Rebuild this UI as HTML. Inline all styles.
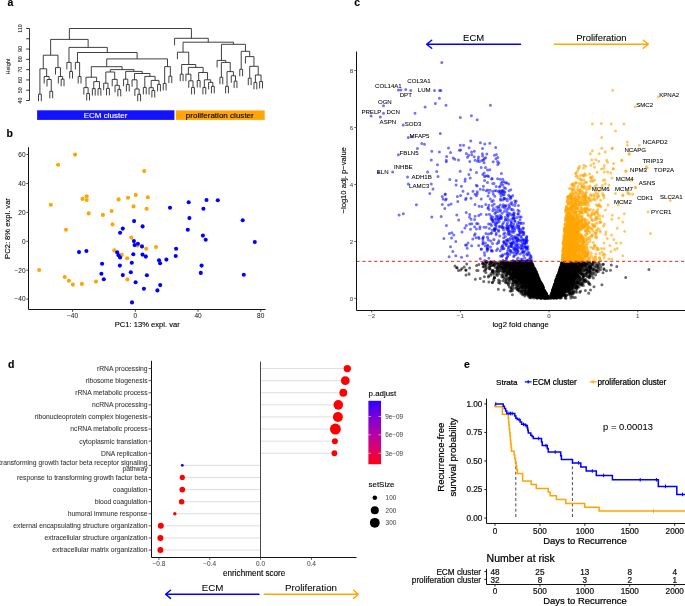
<!DOCTYPE html>
<html><head><meta charset="utf-8"><style>
html,body{margin:0;padding:0;background:#fff;width:685px;height:606px;overflow:hidden}
svg{display:block;will-change:transform}
text{font-family:"Liberation Sans", sans-serif}
</style></head><body>
<svg width="685" height="606" viewBox="0 0 685 606" font-family='"Liberation Sans", sans-serif'>
<rect width="685" height="606" fill="#fff"/>
<text x="7.60" y="6.00" font-size="10.5" font-weight="bold" fill="#000" stroke="#000" stroke-width="0.12">a</text>
<text x="6.60" y="136.60" font-size="10.5" font-weight="bold" fill="#000" stroke="#000" stroke-width="0.12">b</text>
<text x="354.20" y="5.90" font-size="10.5" font-weight="bold" fill="#000" stroke="#000" stroke-width="0.12">c</text>
<text x="7.90" y="367.80" font-size="10.5" font-weight="bold" fill="#000" stroke="#000" stroke-width="0.12">d</text>
<text x="463.90" y="367.80" font-size="10.5" font-weight="bold" fill="#000" stroke="#000" stroke-width="0.12">e</text>
<path d="M38.50 101.20V94.20H41.34V101.20M49.84 98.30V91.30H52.67V98.30M47.00 86.50V79.50H51.26V91.30M44.17 83.50V76.50H49.13V79.50M39.92 94.20V68.80H46.65V76.50M61.18 86.20V79.20H64.02V86.20M58.34 83.50V76.50H62.60V79.20M55.51 74.60V67.60H60.47V76.50M43.28 68.80V55.20H57.99V67.60M69.69 78.50V71.50H72.52V78.50M66.85 69.40V62.40H71.10V71.50M78.19 83.50V76.50H81.03V83.50M75.35 69.40V62.40H79.61V76.50M86.69 100.50V93.50H89.53V100.50M83.86 94.60V87.60H88.11V93.50M92.37 95.60V88.60H95.20V95.60M98.03 95.60V88.60H100.87V95.60M93.78 88.60V81.60H99.45V88.60M85.99 87.60V77.20H96.62V81.60M106.54 95.40V88.40H109.38V95.40M103.70 90.20V83.20H107.96V88.40M117.88 96.40V89.40H120.72V96.40M115.05 92.30V85.30H119.30V89.40M112.21 86.40V79.40H117.17V85.30M105.83 83.20V72.00H114.69V79.40M126.39 91.50V84.50H129.22V91.50M123.55 86.20V79.20H127.80V84.50M137.72 101.30V94.30H140.56V101.30M134.89 96.00V89.00H139.14V94.30M132.06 86.80V79.80H137.02V89.00M143.39 94.40V87.40H146.23V94.40M151.90 97.50V90.50H154.74V97.50M149.06 94.70V87.70H153.32V90.50M157.57 91.40V84.40H160.41V91.40M151.19 87.70V80.40H158.99V84.40M144.81 87.40V76.40H155.09V80.40M134.54 79.80V73.50H149.95V76.40M125.68 79.20V71.40H142.24V73.50M110.26 72.00V69.60H133.96V71.40M91.30 77.20V66.70H122.11V69.60M163.24 90.40V83.40H166.07V90.40M168.91 83.10V76.10H171.75V83.10M164.66 83.40V66.60H170.33V76.10M106.71 66.70V58.90H167.49V66.60M77.48 62.40V52.50H137.10V58.90M68.98 62.40V47.40H107.29V52.50M50.64 55.20V39.40H88.13V47.40M180.25 81.20V74.20H183.09V81.20M191.59 94.40V87.40H194.43V94.40M188.75 87.80V80.80H193.01V87.40M185.92 81.20V74.20H190.88V80.80M197.26 87.50V80.50H200.09V87.50M202.93 94.40V87.40H205.76V94.40M211.44 93.40V86.40H214.27V93.40M208.60 89.40V82.40H212.85V86.40M204.35 87.40V79.80H210.73V82.40M198.68 80.50V72.50H207.54V79.80M188.40 74.20V67.40H203.11V72.50M181.67 74.20V64.50H195.75V67.40M177.41 59.20V52.20H188.71V64.50M219.94 84.30V77.30H222.78V84.30M225.61 93.40V86.40H228.44V93.40M234.12 88.10V81.10H236.95V88.10M231.28 82.80V75.80H235.53V81.10M227.03 86.40V71.60H233.41V75.80M221.36 77.30V62.40H230.22V71.60M217.10 67.40V60.40H225.79V62.40M239.78 76.30V69.30H242.62V76.30M248.29 85.20V78.20H251.12V85.20M253.96 89.40V82.40H256.79V89.40M259.63 88.50V81.50H262.47V88.50M255.38 82.40V75.00H261.05V81.50M249.71 78.20V66.30H258.21V75.00M245.45 63.60V56.60H253.96V66.30M241.20 69.30V51.30H249.71V56.60M221.45 60.40V44.30H245.45V51.30M183.06 52.20V42.20H233.45V44.30M174.58 45.30V38.30H208.26V42.20M69.39 39.40V28.50H191.42V38.30" fill="none" stroke="#2b2b2b" stroke-width="0.9"/>
<path d="M29.5 28.50V100.50M26.2 100.50H29.5M26.2 90.22H29.5M26.2 79.93H29.5M26.2 69.64H29.5M26.2 59.36H29.5M26.2 49.07H29.5M26.2 38.79H29.5M26.2 28.50H29.5" stroke="#222" stroke-width="0.9" fill="none"/>
<text x="22.30" y="100.50" font-size="5.4" text-anchor="middle" fill="#222" stroke="#222" stroke-width="0.06" transform="rotate(-90 22.30 100.50)">40</text>
<text x="22.30" y="90.22" font-size="5.4" text-anchor="middle" fill="#222" stroke="#222" stroke-width="0.06" transform="rotate(-90 22.30 90.22)">50</text>
<text x="22.30" y="79.93" font-size="5.4" text-anchor="middle" fill="#222" stroke="#222" stroke-width="0.06" transform="rotate(-90 22.30 79.93)">60</text>
<text x="22.30" y="69.64" font-size="5.4" text-anchor="middle" fill="#222" stroke="#222" stroke-width="0.06" transform="rotate(-90 22.30 69.64)">70</text>
<text x="22.30" y="59.36" font-size="5.4" text-anchor="middle" fill="#222" stroke="#222" stroke-width="0.06" transform="rotate(-90 22.30 59.36)">80</text>
<text x="22.30" y="49.07" font-size="5.4" text-anchor="middle" fill="#222" stroke="#222" stroke-width="0.06" transform="rotate(-90 22.30 49.07)">90</text>
<text x="22.30" y="28.50" font-size="5.4" text-anchor="middle" fill="#222" stroke="#222" stroke-width="0.06" transform="rotate(-90 22.30 28.50)">110</text>
<text x="10.00" y="66.60" font-size="5.4" text-anchor="middle" fill="#222" stroke="#222" stroke-width="0.06" transform="rotate(-90 10.00 66.60)">Height</text>
<rect x="37.1" y="110.3" width="137.3" height="9.6" fill="#1212ff"/>
<rect x="175.8" y="110.4" width="88.9" height="9.5" fill="#ffa505"/>
<text x="105.60" y="117.90" font-size="8.05" text-anchor="middle" fill="#fff" stroke="#fff" stroke-width="0.12">ECM cluster</text>
<text x="219.80" y="117.90" font-size="8.05" text-anchor="middle" fill="#000" stroke="#000" stroke-width="0.12">proliferation cluster</text>
<path d="M28.5 147.3V309.5H265.6" fill="none" stroke="#111" stroke-width="1.0"/>
<path d="M26.4 299.12H28.5M26.4 270.21H28.5M26.4 241.30H28.5M26.4 212.39H28.5M26.4 183.48H28.5M26.4 154.57H28.5M72.60 309.5V311.8M135.30 309.5V311.8M198.00 309.5V311.8M260.70 309.5V311.8" stroke="#333" stroke-width="0.9" fill="none"/>
<text x="25.50" y="301.42" font-size="6.5" text-anchor="end" fill="#262626" stroke="#262626" stroke-width="0.06">−40</text>
<text x="25.50" y="272.51" font-size="6.5" text-anchor="end" fill="#262626" stroke="#262626" stroke-width="0.06">−20</text>
<text x="25.50" y="243.60" font-size="6.5" text-anchor="end" fill="#262626" stroke="#262626" stroke-width="0.06">0</text>
<text x="25.50" y="214.69" font-size="6.5" text-anchor="end" fill="#262626" stroke="#262626" stroke-width="0.06">20</text>
<text x="25.50" y="185.78" font-size="6.5" text-anchor="end" fill="#262626" stroke="#262626" stroke-width="0.06">40</text>
<text x="25.50" y="156.87" font-size="6.5" text-anchor="end" fill="#262626" stroke="#262626" stroke-width="0.06">60</text>
<text x="72.60" y="318.20" font-size="6.5" text-anchor="middle" fill="#262626" stroke="#262626" stroke-width="0.06">−40</text>
<text x="135.30" y="318.20" font-size="6.5" text-anchor="middle" fill="#262626" stroke="#262626" stroke-width="0.06">0</text>
<text x="198.00" y="318.20" font-size="6.5" text-anchor="middle" fill="#262626" stroke="#262626" stroke-width="0.06">40</text>
<text x="260.70" y="318.20" font-size="6.5" text-anchor="middle" fill="#262626" stroke="#262626" stroke-width="0.06">80</text>
<text x="147.20" y="326.70" font-size="7.6" text-anchor="middle" fill="#000" stroke="#000" stroke-width="0.12">PC1: 13% expl. var</text>
<text x="10.30" y="228.50" font-size="7.6" text-anchor="middle" fill="#000" stroke="#000" stroke-width="0.12" transform="rotate(-90 10.30 228.50)">PC2: 8% expl. var</text>
<g fill="#ffa500"><circle cx="75.1" cy="154.6" r="2.05"/><circle cx="58.1" cy="164.8" r="2.05"/><circle cx="86.7" cy="196.2" r="2.05"/><circle cx="82.5" cy="198.9" r="2.05"/><circle cx="86.7" cy="200.0" r="2.05"/><circle cx="50.8" cy="204.8" r="2.05"/><circle cx="88.7" cy="213.4" r="2.05"/><circle cx="102.9" cy="214.9" r="2.05"/><circle cx="144.2" cy="171.1" r="2.05"/><circle cx="135.8" cy="194.9" r="2.05"/><circle cx="147.8" cy="197.3" r="2.05"/><circle cx="128.0" cy="197.7" r="2.05"/><circle cx="118.6" cy="199.4" r="2.05"/><circle cx="133.5" cy="206.4" r="2.05"/><circle cx="146.6" cy="208.8" r="2.05"/><circle cx="111.6" cy="211.0" r="2.05"/><circle cx="112.6" cy="224.4" r="2.05"/><circle cx="66.0" cy="229.8" r="2.05"/><circle cx="39.2" cy="270.0" r="2.05"/><circle cx="64.7" cy="277.0" r="2.05"/><circle cx="68.9" cy="280.7" r="2.05"/><circle cx="72.9" cy="284.6" r="2.05"/><circle cx="81.9" cy="283.9" r="2.05"/><circle cx="96.0" cy="281.6" r="2.05"/><circle cx="131.3" cy="237.6" r="2.05"/><circle cx="137.4" cy="245.6" r="2.05"/><circle cx="146.2" cy="248.7" r="2.05"/><circle cx="156.0" cy="247.0" r="2.05"/><circle cx="114.3" cy="250.4" r="2.05"/><circle cx="121.8" cy="254.9" r="2.05"/><circle cx="127.2" cy="258.3" r="2.05"/><circle cx="127.4" cy="279.4" r="2.05"/></g>
<g fill="#0000ff"><circle cx="170.0" cy="207.8" r="2.05"/><circle cx="134.1" cy="221.1" r="2.05"/><circle cx="142.6" cy="226.4" r="2.05"/><circle cx="188.7" cy="202.3" r="2.05"/><circle cx="206.5" cy="200.0" r="2.05"/><circle cx="217.8" cy="200.2" r="2.05"/><circle cx="203.4" cy="208.7" r="2.05"/><circle cx="189.4" cy="218.1" r="2.05"/><circle cx="242.7" cy="220.2" r="2.05"/><circle cx="187.8" cy="229.7" r="2.05"/><circle cx="202.9" cy="235.6" r="2.05"/><circle cx="79.0" cy="252.1" r="2.05"/><circle cx="86.4" cy="251.0" r="2.05"/><circle cx="102.1" cy="263.8" r="2.05"/><circle cx="101.4" cy="273.7" r="2.05"/><circle cx="103.8" cy="279.3" r="2.05"/><circle cx="122.8" cy="228.6" r="2.05"/><circle cx="120.1" cy="232.7" r="2.05"/><circle cx="133.9" cy="241.1" r="2.05"/><circle cx="137.9" cy="243.8" r="2.05"/><circle cx="134.6" cy="245.1" r="2.05"/><circle cx="142.0" cy="246.4" r="2.05"/><circle cx="176.1" cy="248.8" r="2.05"/><circle cx="117.2" cy="252.4" r="2.05"/><circle cx="118.5" cy="255.3" r="2.05"/><circle cx="120.1" cy="257.5" r="2.05"/><circle cx="133.3" cy="254.3" r="2.05"/><circle cx="142.5" cy="254.6" r="2.05"/><circle cx="145.8" cy="256.6" r="2.05"/><circle cx="175.7" cy="256.0" r="2.05"/><circle cx="159.0" cy="260.3" r="2.05"/><circle cx="160.1" cy="263.2" r="2.05"/><circle cx="166.4" cy="259.6" r="2.05"/><circle cx="131.8" cy="262.7" r="2.05"/><circle cx="119.9" cy="265.6" r="2.05"/><circle cx="122.8" cy="275.1" r="2.05"/><circle cx="130.8" cy="272.2" r="2.05"/><circle cx="146.9" cy="275.3" r="2.05"/><circle cx="135.6" cy="282.3" r="2.05"/><circle cx="160.2" cy="285.1" r="2.05"/><circle cx="143.9" cy="288.7" r="2.05"/><circle cx="157.4" cy="290.4" r="2.05"/><circle cx="205.7" cy="239.8" r="2.05"/><circle cx="254.8" cy="242.0" r="2.05"/><circle cx="201.6" cy="265.6" r="2.05"/><circle cx="200.8" cy="272.9" r="2.05"/><circle cx="243.8" cy="274.8" r="2.05"/><circle cx="132.0" cy="302.4" r="2.05"/></g>
<path d="M566.8 269.5h0M540.8 288.2h0M517.3 267.5h0M531.3 282.7h0M566.7 280.9h0M582.2 264.5h0M540.6 290.5h0M564.5 283.5h0M580.0 269.5h0M553.2 292.3h0M529.9 286.1h0M522.0 266.3h0M566.3 273.0h0M565.0 269.9h0M568.9 286.7h0M576.7 265.0h0M557.9 275.7h0M536.3 277.5h0M569.5 289.8h0M564.6 278.7h0M571.9 288.1h0M563.6 290.0h0M537.2 281.2h0M565.7 288.0h0M577.6 263.2h0M530.2 263.3h0M567.4 263.9h0M517.6 268.7h0M567.9 264.7h0M563.1 268.8h0M582.5 278.9h0M531.5 296.6h0M533.8 281.8h0M524.4 275.4h0M553.9 285.9h0M541.0 288.3h0M527.1 272.1h0M529.6 279.4h0M521.0 272.3h0M528.2 272.3h0M562.9 279.2h0M566.1 269.1h0M563.5 274.2h0M516.9 278.8h0M519.0 261.8h0M563.5 275.7h0M496.6 274.6h0M521.1 262.7h0M572.0 283.9h0M557.4 283.3h0M564.4 267.3h0M512.8 277.1h0M542.1 284.7h0M553.0 296.7h0M566.8 279.0h0M535.2 291.9h0M526.2 264.8h0M557.4 275.7h0M536.9 285.0h0M570.5 270.8h0M558.7 287.4h0M566.5 270.0h0M530.1 276.9h0M529.7 268.3h0M528.2 281.3h0M536.5 285.9h0M570.9 265.5h0M553.4 291.6h0M560.2 284.3h0M529.1 289.7h0M562.1 268.4h0M567.9 269.1h0M566.8 278.2h0M534.4 269.5h0M559.9 268.8h0M497.1 270.5h0M513.4 262.3h0M562.4 269.3h0M574.5 272.8h0M537.4 283.2h0M556.7 296.0h0M573.3 265.3h0M493.1 270.3h0M557.6 280.2h0M528.6 279.3h0M493.1 272.8h0M532.2 267.8h0M562.8 287.6h0M523.4 263.1h0M539.7 295.7h0M517.6 283.1h0M498.5 271.7h0M568.1 278.0h0M532.0 278.4h0M536.7 279.2h0M558.1 282.7h0M588.2 264.7h0M516.5 281.5h0M510.7 268.0h0M581.2 265.7h0M525.0 263.3h0M540.4 288.6h0M538.0 292.2h0M530.3 264.6h0M559.3 280.1h0M528.6 290.9h0M517.6 288.9h0M537.1 288.3h0M532.4 275.3h0M564.3 274.7h0M517.4 262.8h0M516.4 274.2h0M517.3 279.2h0M571.1 279.0h0M526.6 283.0h0M563.0 293.4h0M536.4 276.1h0M535.2 272.8h0M534.5 284.9h0M539.5 286.7h0M568.9 283.0h0M558.3 279.9h0M534.4 280.0h0M533.3 267.9h0M544.9 294.0h0M573.9 262.0h0M483.7 267.1h0M533.6 291.3h0M504.7 272.2h0M561.1 293.1h0M526.2 270.4h0M569.1 278.7h0M544.1 296.3h0M528.1 270.2h0M562.3 281.8h0M535.1 294.5h0M555.5 291.7h0M530.2 287.4h0M554.9 289.7h0M526.5 266.8h0M537.1 283.5h0M518.1 265.6h0M517.4 281.8h0M566.9 267.0h0M573.4 285.2h0M558.8 287.8h0M540.4 284.1h0M570.7 278.3h0M566.1 279.4h0M555.4 293.5h0M517.3 265.3h0M530.8 269.1h0M538.1 293.0h0M536.4 277.2h0M542.4 288.7h0M557.4 296.1h0M534.1 284.7h0M560.4 292.2h0M525.8 281.5h0M572.7 280.8h0M546.8 296.4h0M536.3 288.2h0M529.1 292.0h0M559.8 295.4h0M535.1 282.4h0M560.7 284.0h0M539.2 285.6h0M577.6 268.6h0M520.8 282.8h0M576.1 266.8h0M541.7 288.8h0M522.1 276.7h0M574.3 270.7h0M565.3 287.6h0M531.2 272.5h0M520.1 278.4h0M512.4 263.0h0M536.1 284.8h0M520.6 262.7h0M521.4 276.8h0M530.8 291.2h0M530.6 270.0h0M527.3 275.6h0M569.0 272.1h0M567.1 281.4h0M507.7 265.2h0M542.2 286.6h0M533.0 271.8h0M563.3 285.0h0M561.9 272.3h0M558.5 292.4h0M536.7 276.2h0M538.8 281.8h0M535.1 277.0h0M533.1 278.4h0M546.0 293.7h0M570.3 268.7h0M554.6 283.9h0M515.7 276.9h0M526.4 280.4h0M562.8 263.4h0M559.9 280.5h0M492.1 262.0h0M523.4 282.2h0M531.9 269.2h0M539.8 292.9h0M559.7 281.7h0M518.7 262.3h0M565.0 269.4h0M561.6 290.3h0M563.9 261.9h0M520.3 284.0h0M567.9 275.5h0M572.3 267.5h0M576.1 262.5h0M560.7 283.9h0M568.2 273.6h0M564.9 268.0h0M565.4 271.2h0M576.0 273.5h0M560.8 292.1h0M522.7 264.1h0M533.6 270.1h0M562.3 282.8h0M498.3 289.3h0M529.2 286.3h0M508.2 265.7h0M560.8 296.4h0M561.3 269.9h0M529.1 281.1h0M556.2 280.9h0M573.7 291.6h0M560.0 270.1h0M566.8 284.6h0M521.5 270.2h0M517.0 281.4h0M566.7 267.6h0M518.9 265.4h0M536.8 294.4h0M507.1 272.9h0M553.9 296.8h0M573.8 284.3h0M575.7 268.9h0M559.3 283.8h0M515.9 278.1h0M553.8 293.1h0M566.7 265.7h0M561.5 287.7h0M563.7 289.6h0M566.2 284.0h0M523.7 274.5h0M528.7 269.1h0M586.7 269.7h0M535.7 281.9h0M522.5 265.5h0M561.2 291.3h0M552.3 293.0h0M537.1 287.4h0M516.1 274.3h0M571.5 263.6h0M563.2 276.8h0M575.4 282.6h0M581.5 261.9h0M563.4 274.4h0M536.7 282.9h0M558.5 281.9h0M523.8 269.3h0M517.9 278.3h0M563.6 289.7h0M563.0 294.6h0M528.7 271.1h0M562.1 264.5h0M504.1 261.4h0M560.5 284.3h0M569.6 275.0h0M532.3 277.6h0M571.2 277.5h0M524.7 273.6h0M526.9 281.6h0M532.0 275.7h0M495.1 263.1h0M577.8 265.7h0M559.9 280.5h0M521.5 262.1h0M526.1 270.0h0M572.1 263.9h0M562.0 291.4h0M555.3 289.3h0M528.1 280.5h0M519.3 269.3h0M558.8 288.0h0M506.9 267.3h0M575.9 261.7h0M526.7 269.9h0M648.9 269.6h0M566.8 263.8h0M544.3 295.3h0M539.6 292.3h0M502.6 263.7h0M537.1 284.0h0M539.8 291.9h0M562.6 271.0h0M564.6 266.5h0M508.3 264.4h0M542.2 291.9h0M539.8 282.5h0M552.3 293.7h0M516.3 274.6h0M534.4 281.1h0M505.7 268.0h0M552.6 293.1h0M576.6 271.2h0M532.8 294.0h0M488.9 282.0h0M527.3 280.8h0M533.9 283.2h0M534.8 277.0h0M540.6 285.0h0M529.0 267.3h0M525.5 268.1h0M574.8 276.5h0M544.4 296.9h0M562.4 263.5h0M560.2 290.1h0M556.2 296.0h0M532.3 273.2h0M528.3 265.5h0M538.5 291.5h0M576.8 265.1h0M520.7 270.1h0M519.4 262.2h0M538.8 278.7h0M515.9 273.1h0M541.8 292.4h0M543.3 287.1h0M533.0 280.8h0M576.6 266.1h0M566.1 295.8h0M573.2 267.1h0M532.4 273.3h0M552.5 293.3h0M527.6 269.9h0M540.9 287.7h0M525.9 282.6h0M537.6 276.1h0M590.5 273.2h0M563.3 262.8h0M529.8 281.1h0M565.7 274.9h0M521.7 265.2h0M537.8 282.2h0M531.0 268.6h0M538.9 287.2h0M556.1 279.5h0M570.0 268.7h0M559.7 297.0h0M528.3 278.7h0M557.7 296.7h0M538.2 285.5h0M553.1 295.7h0M563.6 281.5h0M537.0 295.2h0M553.8 290.2h0M521.7 265.0h0M525.0 267.5h0M560.8 272.2h0M531.1 274.2h0M552.7 289.8h0M542.8 294.8h0M534.8 295.0h0M559.2 277.0h0M533.9 287.4h0M536.0 274.5h0M542.2 291.3h0M562.2 286.1h0M559.9 281.8h0M529.9 286.6h0M571.1 283.3h0M545.1 293.2h0M520.4 278.7h0M515.2 262.6h0M537.4 297.8h0M537.3 278.5h0M494.2 265.1h0M520.7 271.2h0M579.1 270.7h0M521.4 265.5h0M590.5 272.6h0M559.7 271.8h0M566.6 288.3h0M566.3 274.1h0M577.5 271.2h0M526.5 278.6h0M562.7 279.4h0M544.1 294.4h0M540.2 287.8h0M534.3 282.8h0M554.9 287.8h0M544.3 291.1h0M529.0 267.3h0M531.7 264.6h0M537.4 279.1h0M532.8 284.5h0M527.0 283.2h0M567.4 291.6h0M575.7 267.2h0M517.0 265.1h0M568.6 277.1h0M531.5 265.8h0M565.0 291.7h0M496.0 263.9h0M532.5 293.6h0M560.7 291.5h0M525.6 269.2h0M541.6 287.2h0M531.6 269.1h0M569.3 274.4h0M534.6 287.2h0M562.3 279.8h0M558.4 289.5h0M537.1 284.3h0M525.5 269.4h0M552.1 295.5h0M562.4 278.7h0M566.2 278.7h0M522.3 275.6h0M527.8 274.4h0M542.9 291.9h0M483.0 263.5h0M564.4 276.9h0M520.8 266.6h0M519.5 275.8h0M573.3 268.8h0M520.9 266.8h0M556.0 292.4h0M529.6 277.5h0M528.9 285.0h0M556.9 294.8h0M572.2 264.5h0M517.3 278.0h0M539.0 296.3h0M537.5 283.4h0M563.4 264.6h0M570.1 272.7h0M538.2 293.8h0M566.1 278.3h0M519.0 267.0h0M543.8 293.6h0M489.6 267.0h0M576.1 261.6h0M568.9 274.3h0M544.4 294.9h0M517.0 263.0h0M577.3 275.6h0M541.9 297.2h0M525.8 274.8h0M533.8 270.7h0M560.7 272.7h0M564.6 262.5h0M540.0 292.1h0M567.3 267.8h0M544.4 293.3h0M571.3 275.5h0M563.1 264.3h0M530.2 282.8h0M499.8 283.3h0M558.8 288.3h0" stroke="#000" stroke-opacity="0.58" stroke-width="3.0" stroke-linecap="round" fill="none"/>
<path d="M529.5 283.4h0M522.2 267.7h0M531.3 278.7h0M518.8 277.0h0M515.7 273.1h0M515.4 262.5h0M572.2 291.5h0M517.7 263.8h0M517.3 267.7h0M562.5 290.6h0M535.4 286.7h0M569.6 271.8h0M523.2 276.6h0M610.5 270.2h0M531.5 275.3h0M592.1 264.5h0M536.3 281.2h0M508.4 263.8h0M525.4 271.0h0M558.4 297.3h0M520.1 270.1h0M565.3 289.5h0M518.7 262.1h0M562.8 277.9h0M569.6 278.0h0M502.3 267.9h0M570.7 274.9h0M575.5 276.4h0M534.1 276.8h0M564.5 267.9h0M540.4 284.4h0M537.6 287.5h0M536.7 291.2h0M540.6 295.9h0M563.3 269.7h0M534.9 279.7h0M519.9 271.7h0M530.4 265.5h0M529.5 273.0h0M568.1 277.4h0M522.2 270.7h0M566.1 274.7h0M560.6 270.8h0M537.3 291.2h0M553.7 295.3h0M529.1 274.4h0M565.0 282.4h0M577.1 285.9h0M540.9 285.2h0M570.1 265.1h0M562.2 267.4h0M557.0 298.3h0M557.1 284.0h0M565.1 270.3h0M564.9 292.2h0M557.5 280.0h0M536.6 277.8h0M564.3 272.8h0M562.3 279.6h0M566.0 298.3h0M558.2 281.6h0M570.9 266.0h0M488.7 275.7h0M554.6 292.8h0M523.7 278.4h0M538.3 278.3h0M531.9 277.0h0M537.3 288.7h0M597.7 265.4h0M525.4 277.1h0M588.7 293.2h0M536.0 280.8h0M538.6 278.9h0M558.9 277.8h0M576.2 267.4h0M535.3 272.5h0M540.8 284.5h0M544.9 297.5h0M532.8 269.8h0M533.7 282.3h0M475.3 279.3h0M528.2 270.5h0M563.7 273.7h0M540.4 287.1h0M556.8 279.2h0M561.1 277.2h0M482.7 263.5h0M567.5 286.6h0M537.6 292.4h0M538.7 285.1h0M528.5 263.7h0M561.7 275.0h0M558.3 293.3h0M523.3 261.6h0M587.2 271.4h0M564.0 286.7h0M604.0 269.4h0M558.3 293.4h0M525.7 275.0h0M562.1 262.6h0M556.2 289.2h0M537.1 294.7h0M520.0 276.1h0M560.7 273.1h0M518.8 264.0h0M519.1 273.0h0M538.7 280.8h0M559.2 290.7h0M486.4 266.3h0M602.7 264.4h0M521.0 277.6h0M532.6 268.4h0M541.8 289.7h0M508.9 270.2h0M525.4 265.8h0M532.1 263.2h0M559.6 280.2h0M573.4 273.8h0M527.0 271.6h0M527.4 271.8h0M561.8 263.2h0M541.6 287.4h0M547.0 296.6h0M544.6 293.1h0M510.6 261.6h0M484.4 276.7h0M532.5 270.7h0M562.1 267.1h0M557.3 285.6h0M523.8 275.6h0M508.5 263.0h0M536.5 283.6h0M532.6 282.3h0M576.6 263.1h0M531.1 285.9h0M523.6 286.2h0M534.6 268.6h0M536.4 286.9h0M527.3 287.2h0M529.1 290.1h0M561.2 297.4h0M531.8 278.2h0M566.2 277.4h0M531.3 289.3h0M513.9 268.9h0M557.8 287.0h0M509.7 271.9h0M545.0 292.7h0M539.1 284.1h0M559.5 296.0h0M511.5 268.5h0M516.1 263.8h0M582.3 263.7h0M535.8 287.6h0M518.3 289.1h0M558.1 284.0h0M598.7 262.4h0M588.7 264.9h0M522.0 281.2h0M501.5 267.8h0M530.8 271.2h0M562.1 267.7h0M531.2 269.9h0M527.9 284.1h0M528.1 287.9h0M570.5 273.5h0M541.2 295.6h0M538.7 277.6h0M525.8 274.7h0M563.6 268.0h0M537.3 290.4h0M568.5 289.2h0M568.9 268.7h0M581.5 273.7h0M534.0 277.5h0M511.5 267.8h0M568.0 274.2h0M497.5 268.9h0M510.1 277.6h0M574.3 264.1h0M561.8 273.3h0M532.7 289.4h0M528.7 280.9h0M573.7 275.1h0M541.7 295.6h0M529.4 267.0h0M534.4 270.5h0M509.6 271.6h0M524.8 274.4h0M510.1 291.1h0M571.6 276.8h0M553.9 294.1h0M529.3 269.8h0M577.0 276.3h0M569.3 267.6h0M516.7 275.4h0M523.3 271.7h0M522.5 265.2h0M565.1 264.7h0M540.6 288.2h0M585.0 263.3h0M528.7 285.6h0M520.1 266.5h0M536.6 280.6h0M567.9 277.9h0M528.0 275.0h0M554.5 293.3h0M563.7 269.8h0M552.4 292.1h0M572.2 279.0h0M565.9 272.2h0M557.3 291.8h0M521.3 262.1h0M561.9 276.7h0M585.6 279.6h0M557.6 295.2h0M556.4 291.0h0M566.0 295.8h0M565.1 261.8h0M558.8 278.2h0M559.3 291.4h0M520.7 276.1h0M542.5 287.2h0M521.2 270.3h0M539.5 292.6h0M512.3 273.2h0M572.7 286.6h0M573.5 281.6h0M537.6 275.6h0M529.6 275.9h0M533.6 287.4h0M563.4 276.4h0M534.4 288.4h0M529.9 291.0h0M526.1 276.2h0M566.5 269.0h0M540.0 283.6h0M532.8 276.6h0M534.1 273.4h0M520.3 278.5h0M570.8 297.9h0M533.0 283.7h0M530.2 283.8h0M570.8 288.5h0M521.1 267.3h0M530.0 282.0h0M529.8 288.9h0M565.6 268.8h0M578.2 267.6h0M563.7 267.2h0M556.0 289.5h0M528.5 275.7h0M546.3 293.9h0M559.6 288.7h0M566.0 267.8h0M533.4 271.3h0M560.6 288.7h0M584.8 270.4h0M567.1 265.1h0M529.9 275.6h0M531.5 295.8h0M561.7 274.0h0M570.6 293.3h0M625.7 277.5h0M558.8 282.0h0M536.7 277.5h0M568.0 281.6h0M558.9 277.1h0M524.9 289.1h0M562.6 282.3h0M523.6 276.3h0M533.6 282.6h0M590.7 268.1h0M505.9 261.7h0M529.5 286.9h0M535.7 281.4h0M534.7 289.1h0M559.9 278.5h0M525.6 287.2h0M575.6 281.1h0M539.7 297.9h0M564.0 281.1h0M576.1 277.4h0M512.0 266.6h0M534.7 282.8h0M525.0 278.3h0M571.6 290.6h0M537.1 275.3h0M577.7 266.0h0M544.5 290.2h0M527.9 277.3h0M596.6 272.2h0M566.5 276.1h0M560.5 273.1h0M553.9 293.9h0M519.2 280.6h0M572.8 269.7h0M537.2 284.4h0M573.5 267.2h0M480.2 278.5h0M560.8 271.9h0M515.2 277.0h0M531.2 271.9h0M557.9 278.8h0M562.7 282.6h0M558.0 290.5h0M565.6 273.1h0M564.6 271.4h0M525.8 276.0h0M529.1 272.7h0M518.5 270.7h0M532.2 269.1h0M510.2 266.4h0M526.6 294.4h0M521.1 276.7h0M523.1 287.7h0M542.8 286.2h0M558.0 276.5h0M533.5 285.9h0M538.8 285.2h0M533.4 268.3h0M538.0 289.8h0M556.3 285.6h0M566.2 282.1h0M529.6 275.7h0M577.8 272.2h0M540.8 286.1h0M576.3 274.0h0M530.6 273.4h0M538.7 284.9h0M539.3 281.3h0M505.7 282.7h0M528.6 286.7h0M558.9 287.6h0M535.9 294.6h0M561.9 290.3h0M567.2 282.1h0M522.3 275.4h0M571.3 262.1h0M553.1 291.8h0M527.3 270.8h0M524.9 280.8h0M557.3 288.5h0M525.7 273.0h0M531.1 283.8h0M538.3 289.6h0M535.7 287.0h0M567.3 271.1h0M537.0 283.6h0M526.6 275.2h0M532.0 280.8h0M528.3 287.9h0M568.7 272.3h0M566.3 276.3h0M586.2 266.1h0M563.0 276.0h0M531.4 261.6h0M555.3 287.4h0M520.3 273.1h0M561.1 286.6h0M533.9 277.9h0M521.2 262.2h0M588.1 270.6h0M559.7 277.8h0M541.5 295.8h0M535.6 275.8h0M519.3 276.6h0M560.6 291.9h0M562.7 276.2h0M509.3 270.6h0M537.5 283.4h0M579.9 272.4h0M532.3 271.0h0M561.6 265.3h0M520.1 268.6h0M560.8 274.1h0M527.5 282.3h0M541.4 293.1h0M567.3 269.5h0M535.8 293.2h0M534.8 294.6h0M555.8 287.6h0M562.7 281.0h0M538.9 279.8h0M529.8 273.9h0M535.3 286.9h0M541.7 284.6h0M533.5 275.9h0M505.7 262.1h0M539.5 291.3h0M571.9 289.8h0M517.8 264.1h0M512.3 274.0h0M528.2 283.7h0M536.2 288.0h0M565.2 269.7h0M555.7 293.9h0M515.8 267.6h0M527.6 269.6h0M536.8 274.6h0M566.1 266.5h0M538.0 281.7h0M561.1 278.2h0M539.7 287.4h0M537.6 285.9h0M531.3 272.9h0M562.3 272.4h0M565.4 282.3h0M583.6 263.6h0M531.3 263.4h0M540.3 285.1h0M596.2 266.8h0M516.5 271.0h0M570.9 277.0h0M570.7 271.5h0M556.4 287.1h0M518.5 271.5h0M539.9 282.3h0M581.1 271.5h0M564.8 265.2h0M518.1 269.1h0M541.4 287.3h0M547.4 296.0h0M569.1 274.7h0M529.2 275.8h0M568.2 262.3h0M562.7 271.0h0M508.5 263.1h0M569.8 267.2h0M555.1 285.6h0M571.4 287.7h0M462.0 268.5h0M554.3 295.5h0M538.1 280.7h0M515.1 262.1h0M539.8 289.5h0M563.2 277.2h0M571.0 283.7h0M565.9 281.0h0M541.0 289.7h0M527.1 275.0h0M564.1 286.3h0M573.4 279.2h0M515.2 262.7h0M578.2 264.5h0M541.7 290.4h0M570.9 280.6h0M527.2 269.9h0M570.5 274.2h0M530.8 280.5h0M538.1 296.8h0M561.4 282.1h0M575.7 276.8h0M539.6 285.6h0M516.6 276.9h0M522.3 264.4h0M571.9 277.8h0M534.9 271.3h0M536.4 280.6h0M525.9 267.1h0M564.2 273.6h0M537.5 286.5h0M539.1 281.0h0M538.9 283.6h0M532.7 283.4h0M555.0 290.5h0M556.0 288.9h0" stroke="#000" stroke-opacity="0.58" stroke-width="3.0" stroke-linecap="round" fill="none"/>
<path d="M530.7 264.4h0M524.4 272.1h0M563.1 282.7h0M568.3 269.4h0M532.9 285.2h0M535.7 292.2h0M565.1 263.0h0M545.1 296.4h0M570.3 272.4h0M559.3 273.5h0M523.6 274.7h0M577.9 282.8h0M560.4 275.2h0M562.8 277.9h0M529.9 270.1h0M562.9 269.9h0M566.7 266.0h0M556.1 282.1h0M534.4 292.6h0M556.3 280.0h0M516.4 283.1h0M575.7 270.2h0M505.4 264.2h0M528.8 281.1h0M560.2 267.2h0M537.8 282.5h0M523.6 274.8h0M528.7 276.3h0M513.0 285.3h0M562.2 273.0h0M540.1 290.5h0M568.4 271.4h0M563.2 289.1h0M581.0 265.9h0M536.9 297.7h0M525.8 272.3h0M571.4 281.7h0M529.3 293.7h0M562.9 262.9h0M513.9 266.2h0M563.7 277.5h0M541.7 292.3h0M536.3 290.1h0M566.3 268.7h0M562.6 270.5h0M538.6 286.3h0M557.5 289.6h0M512.0 269.3h0M562.4 274.4h0M578.1 271.3h0M532.8 290.4h0M559.3 272.1h0M493.0 265.2h0M539.1 286.7h0M555.0 287.2h0M542.2 289.3h0M539.3 278.9h0M533.8 279.5h0M559.2 282.9h0M526.8 268.0h0M539.2 284.0h0M543.4 288.5h0M562.0 277.0h0M531.3 273.0h0M523.2 265.9h0M573.5 278.9h0M563.5 273.6h0M517.6 278.8h0M561.6 286.3h0M533.0 286.4h0M539.9 281.9h0M553.8 291.5h0M515.3 272.6h0M503.8 265.7h0M566.5 283.7h0M511.3 269.5h0M533.5 291.3h0M568.2 264.5h0M573.8 263.5h0M564.6 271.0h0M583.4 270.3h0M535.1 276.4h0M534.6 276.0h0M616.8 266.6h0M531.2 267.6h0M543.1 297.6h0M533.6 278.6h0M577.0 268.7h0M560.2 280.1h0M562.2 277.4h0M556.5 284.2h0M524.2 269.0h0M583.2 276.4h0M523.3 263.4h0M509.9 264.7h0M519.9 265.5h0M520.7 266.4h0M560.8 287.1h0M531.9 271.0h0M564.5 277.5h0M575.7 266.1h0M545.8 293.8h0M543.5 291.6h0M567.3 286.1h0M511.0 287.4h0M513.3 273.0h0M561.1 288.1h0M510.4 263.6h0M556.5 294.3h0M518.0 261.4h0M565.4 280.5h0M558.7 277.3h0M534.1 278.1h0M553.6 291.6h0M526.3 269.3h0M568.0 277.5h0M562.4 270.0h0M559.5 287.5h0M540.0 287.0h0M564.2 266.2h0M554.9 293.2h0M561.7 282.2h0M541.9 292.4h0M560.6 274.1h0M576.7 262.8h0M557.1 280.9h0M533.0 265.5h0M533.0 290.0h0M513.3 266.5h0M538.5 295.8h0M521.2 263.2h0M564.2 295.3h0M550.0 297.9h0M525.8 283.8h0M507.5 265.9h0M539.9 282.3h0M530.0 297.7h0M508.5 262.7h0M578.9 269.3h0M562.1 279.5h0M556.8 287.1h0M527.0 266.4h0M519.5 278.2h0M484.8 265.7h0M535.3 291.5h0M521.9 268.2h0M532.6 277.5h0M572.6 283.2h0M496.8 267.5h0M514.7 275.3h0M554.5 289.3h0M567.2 261.4h0M565.3 281.7h0M525.6 290.8h0M515.8 264.9h0M536.9 282.3h0M565.6 269.2h0M523.1 280.4h0M564.5 290.5h0M541.7 283.8h0M569.3 270.9h0M556.6 288.4h0M536.1 283.1h0M565.8 262.1h0M539.7 291.9h0M536.2 284.2h0M526.1 279.0h0M508.3 266.5h0M524.2 272.8h0M541.2 289.1h0M560.5 278.6h0M560.7 277.4h0M590.8 264.2h0M580.5 262.5h0M503.9 263.3h0M512.7 280.7h0M544.6 294.5h0M516.5 265.5h0M530.2 283.4h0M553.9 291.4h0M577.5 268.9h0M528.7 267.8h0M505.0 264.5h0M537.3 295.5h0M490.8 275.2h0M528.1 275.5h0M520.1 276.0h0M563.2 269.9h0M536.0 286.9h0M579.9 267.2h0M526.7 276.9h0M559.4 274.7h0M476.8 270.6h0M565.3 276.6h0M519.2 291.1h0M527.5 293.4h0M563.0 284.5h0M489.9 263.4h0M567.8 278.0h0M534.7 272.9h0M522.5 274.7h0M519.8 278.2h0M534.8 281.6h0M530.3 262.7h0M531.5 272.5h0M542.5 295.9h0M565.0 296.6h0M553.6 291.6h0M507.6 266.5h0M591.1 266.7h0M551.3 294.8h0M556.9 293.6h0M556.2 294.0h0M572.9 263.0h0M564.1 280.1h0M557.3 284.4h0M566.8 279.8h0M478.0 270.4h0M574.1 284.0h0M530.3 272.7h0M583.0 269.4h0M529.1 286.6h0M555.2 290.9h0M561.5 273.8h0M531.0 271.0h0M557.2 287.5h0M533.5 287.1h0M533.0 276.4h0M525.3 276.3h0M534.3 295.0h0M574.3 276.6h0M564.8 277.6h0M540.3 294.8h0M572.2 293.4h0M538.4 279.3h0M562.1 293.8h0M557.2 290.9h0M526.6 263.0h0M544.3 290.8h0M583.6 274.3h0M562.0 294.4h0M570.2 263.8h0M520.7 273.4h0M530.2 272.9h0M567.4 279.6h0M559.9 270.5h0M555.1 291.3h0M516.3 273.0h0M531.5 277.3h0M556.0 288.3h0M557.6 280.7h0M568.5 268.0h0M560.3 293.4h0M581.2 264.0h0M557.9 294.5h0M534.6 282.8h0M562.1 281.6h0M537.5 297.4h0M534.7 284.0h0M559.5 291.3h0M545.5 292.5h0M566.7 294.8h0M598.4 271.6h0M526.7 273.2h0M593.8 269.4h0M572.1 269.9h0M530.2 288.9h0M534.8 269.6h0M595.9 263.3h0M563.0 271.0h0M582.7 279.3h0M534.7 288.3h0M531.5 271.1h0M501.6 275.1h0M555.0 289.8h0M525.8 274.5h0M537.2 280.0h0M492.4 282.6h0M555.2 290.5h0M539.8 287.0h0M567.9 275.6h0M558.0 292.9h0M543.3 288.0h0M531.4 291.2h0M524.8 294.2h0M569.3 292.3h0M535.7 276.3h0M530.6 263.8h0M523.9 267.7h0M567.8 276.9h0M527.4 268.0h0M507.0 263.7h0M576.6 288.2h0M533.5 277.6h0M524.8 274.4h0M529.1 283.9h0M514.9 269.7h0M562.3 285.1h0M528.2 266.7h0M568.5 273.9h0M536.6 280.1h0M537.2 292.4h0M572.6 266.8h0M536.0 285.3h0M554.5 284.7h0M535.7 279.3h0M537.0 297.1h0M531.3 288.4h0M530.3 278.8h0M553.8 294.0h0M539.4 285.0h0M540.4 296.0h0M537.1 283.9h0M522.7 280.0h0M569.7 270.4h0M524.9 284.5h0M533.8 284.1h0M555.0 296.8h0M574.6 267.4h0M524.0 263.9h0M534.8 277.7h0M540.2 283.1h0M519.5 264.3h0M518.3 276.3h0M534.0 289.1h0M567.8 269.9h0M525.1 283.2h0M535.2 280.6h0M490.8 261.9h0M568.9 276.7h0M543.9 293.7h0M576.0 291.1h0M526.3 289.6h0M536.6 288.9h0M527.9 273.7h0M553.1 294.7h0M537.3 282.1h0M529.1 266.2h0M502.9 276.6h0M543.3 293.4h0M523.1 282.3h0M562.5 272.1h0M581.0 269.7h0M561.0 277.8h0M534.1 268.7h0M530.9 283.7h0M574.5 286.8h0M552.4 295.0h0M556.9 291.3h0M581.3 263.8h0M535.0 286.3h0M535.0 286.8h0M522.0 266.3h0M537.4 279.6h0M536.5 287.7h0M564.2 290.3h0M504.0 269.0h0M512.2 284.4h0M528.7 270.0h0M553.3 288.0h0M537.4 286.7h0M514.6 282.3h0M516.3 271.3h0M518.7 261.9h0M525.0 280.1h0M527.7 276.4h0M529.7 268.1h0M510.6 264.2h0M598.1 267.6h0M521.5 276.1h0M533.2 268.8h0M527.9 288.0h0M535.8 291.1h0M504.8 268.1h0M458.5 270.6h0M528.1 281.4h0M537.2 279.0h0M559.0 286.0h0M518.2 265.5h0M567.1 281.7h0M575.2 262.0h0M528.1 275.5h0M556.1 285.0h0M564.0 288.3h0M516.9 265.8h0M571.4 282.7h0M572.8 271.8h0M535.5 277.6h0M539.6 286.4h0M538.7 285.6h0M571.2 275.8h0M538.4 281.3h0M564.3 280.2h0M555.2 296.2h0M564.6 267.9h0M513.3 273.0h0M543.3 289.2h0M560.3 287.3h0M573.3 281.4h0M534.2 279.7h0M542.8 286.8h0M521.3 281.6h0M554.3 292.8h0M570.6 264.2h0M533.8 279.1h0M598.1 264.7h0M562.6 271.5h0M526.9 290.3h0M539.5 290.7h0M573.3 297.6h0M508.3 270.1h0M514.6 280.9h0M518.5 276.8h0M536.4 291.0h0M536.1 286.6h0M534.5 288.8h0M567.7 263.9h0M513.3 276.9h0M557.7 280.2h0M510.1 279.0h0M572.7 266.6h0M587.4 272.2h0M568.8 285.7h0M525.4 292.2h0M557.8 285.9h0M543.0 292.4h0M513.4 265.6h0M595.8 271.0h0M565.3 261.6h0M559.5 275.5h0M570.5 281.1h0M561.5 287.1h0M537.9 285.4h0M535.0 281.4h0M556.3 285.3h0M547.9 297.4h0M515.4 277.2h0M527.4 281.7h0M535.9 271.7h0M555.3 286.5h0M539.8 295.6h0M526.8 261.7h0M522.0 281.3h0M572.1 264.7h0M532.8 280.9h0M543.2 288.4h0M567.9 276.1h0M560.6 291.8h0M559.4 286.9h0M533.3 279.3h0M556.7 282.3h0M543.7 293.2h0M574.5 263.9h0M539.9 292.4h0M485.9 272.6h0M560.1 273.5h0M508.8 262.9h0M584.8 268.9h0M532.1 283.2h0M563.9 294.4h0M522.7 267.9h0M555.2 289.1h0M521.6 287.9h0M575.6 264.5h0M554.9 292.5h0M535.3 280.3h0M544.3 293.5h0" stroke="#000" stroke-opacity="0.58" stroke-width="3.0" stroke-linecap="round" fill="none"/>
<path d="M560.5 281.7h0M585.4 281.8h0M562.2 280.6h0M540.6 284.6h0M531.0 285.6h0M518.2 272.0h0M512.5 283.0h0M518.3 276.3h0M538.3 291.5h0M537.8 278.7h0M505.8 266.9h0M558.4 278.5h0M518.2 274.3h0M510.4 272.6h0M521.3 266.6h0M528.0 267.2h0M576.5 261.6h0M574.1 278.4h0M588.9 267.2h0M560.4 272.7h0M560.3 270.4h0M562.4 288.9h0M545.4 294.9h0M562.9 287.2h0M541.2 290.9h0M538.5 291.5h0M524.5 272.1h0M567.8 266.8h0M522.9 264.5h0M533.2 295.2h0M520.6 263.4h0M537.8 276.0h0M565.2 279.7h0M493.5 271.7h0M533.8 277.8h0M515.9 271.4h0M522.3 278.5h0M529.3 266.6h0M518.4 264.8h0M564.5 277.5h0M538.6 286.9h0M534.0 277.1h0M535.1 269.3h0M531.4 291.4h0M524.8 261.9h0M519.8 272.4h0M521.9 281.2h0M576.0 282.5h0M557.7 275.1h0M528.6 267.7h0M522.2 278.1h0M531.1 274.5h0M557.3 278.2h0M558.8 288.7h0M519.9 264.7h0M508.1 274.0h0M563.7 270.7h0M563.2 281.2h0M567.6 263.3h0M564.8 276.5h0M507.5 261.8h0M527.5 261.7h0M560.2 291.1h0M531.0 286.2h0M559.6 277.7h0M569.3 278.2h0M534.9 284.0h0M492.4 282.4h0M560.1 294.4h0M553.7 297.8h0M558.7 284.5h0M565.5 279.6h0M531.3 266.2h0M535.8 281.6h0M520.3 266.5h0M534.5 278.5h0M535.9 294.6h0M570.6 291.9h0M545.9 297.2h0M573.6 281.7h0M533.8 291.5h0M575.2 266.5h0M573.2 269.3h0M547.8 296.6h0M523.8 263.1h0M532.1 287.8h0M562.0 268.2h0M542.4 295.7h0M559.2 277.6h0M523.9 264.6h0M568.3 271.5h0M526.0 267.7h0M559.2 271.1h0M595.6 275.1h0M534.6 270.7h0M565.3 281.7h0M570.1 268.0h0M570.8 288.3h0M561.9 273.8h0M537.7 282.3h0M561.6 292.9h0M531.3 286.8h0M530.0 276.2h0M540.0 286.4h0M560.2 287.8h0M552.8 296.5h0M519.2 264.8h0M538.4 290.5h0M504.8 266.4h0M558.7 279.5h0M566.8 271.8h0M561.0 278.0h0M514.6 270.5h0M569.1 276.3h0M512.4 261.9h0M553.6 288.7h0M567.4 289.0h0M556.8 295.7h0M574.4 281.9h0M510.7 264.3h0M521.9 279.3h0M522.7 271.2h0M559.7 289.6h0M567.7 273.6h0M537.0 291.2h0M528.7 269.8h0M529.3 267.2h0M545.6 298.0h0M574.7 277.3h0M552.6 297.6h0M532.3 272.2h0M561.6 282.4h0M527.3 275.8h0M533.4 283.9h0M539.9 291.7h0M521.3 270.2h0M570.3 267.9h0M560.7 274.0h0M532.3 272.2h0M589.1 283.0h0M523.2 280.6h0M560.8 276.6h0M520.6 266.7h0M540.0 296.0h0M566.6 282.8h0M531.5 263.3h0M565.4 271.7h0M563.9 290.3h0M533.3 284.3h0M561.5 288.3h0M535.7 277.8h0M560.9 276.6h0M566.6 274.6h0M554.8 285.1h0M536.9 277.9h0M563.0 269.6h0M528.4 269.3h0M523.8 269.4h0M562.1 282.6h0M520.9 293.2h0M562.3 269.2h0M563.7 276.5h0M556.6 287.9h0M512.4 277.8h0M555.5 294.8h0M531.0 276.7h0M536.9 274.4h0M535.5 272.8h0M555.9 281.3h0M563.9 273.6h0M527.0 274.5h0M509.5 269.6h0M562.7 269.1h0M541.2 293.0h0M505.9 265.1h0M562.3 278.9h0M555.4 287.4h0M553.4 292.7h0M563.8 273.1h0M569.4 271.3h0M565.2 285.5h0M567.7 273.1h0M545.1 296.2h0M558.0 278.0h0M537.0 295.6h0M553.8 292.9h0M562.6 271.5h0M569.2 269.8h0M494.3 263.9h0M534.7 286.4h0M533.9 270.8h0M556.5 289.0h0M536.1 274.0h0M514.4 268.5h0M537.1 276.3h0M530.8 265.2h0M565.8 271.5h0M520.8 275.7h0M558.5 280.1h0M563.0 273.0h0M529.8 290.3h0M567.4 273.7h0M555.2 285.7h0M512.3 288.6h0M524.9 273.3h0M539.8 281.9h0M573.8 279.0h0M579.5 284.6h0M534.7 269.8h0M517.9 268.4h0M561.6 294.7h0M517.0 271.2h0M567.7 274.4h0M515.2 273.8h0M584.5 264.2h0M523.7 277.0h0M512.6 265.5h0M588.6 282.5h0M523.1 275.1h0M541.6 293.9h0M558.9 279.5h0M529.6 287.9h0M544.4 295.7h0M540.1 283.9h0M537.0 289.9h0M526.9 281.3h0M539.6 284.4h0M559.5 292.6h0M527.3 279.3h0M530.4 273.3h0M541.6 293.6h0M530.1 280.8h0M526.4 263.9h0M531.5 274.1h0M564.1 276.7h0M524.1 275.9h0M554.1 292.2h0M560.4 274.8h0M576.0 263.2h0M523.9 278.6h0M521.7 272.7h0M529.1 284.8h0M541.7 286.5h0M532.5 274.1h0M538.2 287.3h0M540.4 294.0h0M536.2 279.1h0M575.2 269.2h0M541.0 295.7h0M542.8 290.2h0M577.8 266.8h0M530.6 280.6h0M504.2 279.1h0M557.7 291.4h0M556.1 288.1h0M485.5 263.6h0M528.2 262.2h0M504.6 264.8h0M566.2 268.3h0M552.0 294.8h0M491.0 273.5h0M561.8 269.2h0M585.4 290.4h0M540.9 294.1h0M534.8 271.2h0M580.6 291.3h0M536.4 287.9h0M519.2 269.4h0M542.7 293.6h0M525.8 281.0h0M567.4 278.4h0M527.1 268.5h0M561.0 279.9h0M555.9 283.7h0M526.3 281.7h0M573.1 276.7h0M556.1 295.2h0M569.5 282.9h0M517.1 264.2h0M575.1 283.8h0M556.2 279.4h0M533.7 279.9h0M530.9 270.6h0M567.2 280.4h0M559.6 289.2h0M456.6 267.7h0M530.4 282.9h0M557.3 288.9h0M564.6 271.4h0M484.6 264.1h0M526.7 281.8h0M542.2 296.9h0M559.1 285.0h0M487.0 262.2h0M558.3 287.7h0M563.0 262.7h0M504.3 264.6h0M554.0 293.2h0M579.2 283.8h0M566.0 268.1h0M596.5 270.5h0M520.1 279.5h0M570.0 265.9h0M537.2 277.0h0M508.2 273.3h0M529.5 276.2h0M501.4 264.2h0M556.7 283.5h0M563.4 272.3h0M537.4 286.9h0M541.1 296.3h0M533.3 268.8h0M562.2 280.3h0M540.4 296.3h0M560.8 285.3h0M540.4 290.8h0M525.1 271.2h0M534.9 279.9h0M507.4 265.1h0M532.7 284.9h0M574.6 270.4h0M563.2 266.4h0M518.8 279.6h0M576.3 279.9h0M562.6 268.4h0M572.6 278.1h0M521.6 285.9h0M571.7 265.4h0M553.5 288.3h0M545.8 293.7h0M523.3 271.1h0M568.7 268.4h0M582.2 283.5h0M517.2 267.6h0M534.5 274.5h0M568.7 267.5h0M538.3 292.9h0M579.0 287.1h0M516.9 264.0h0M563.1 266.5h0M567.7 279.5h0M535.7 278.8h0M557.1 293.1h0M531.7 296.6h0M527.1 273.4h0M540.3 297.2h0M541.9 289.3h0M562.8 282.1h0M560.8 278.0h0M560.1 270.2h0M526.7 267.2h0M510.8 264.0h0M517.3 263.1h0M568.7 282.3h0M533.9 268.5h0M518.3 275.8h0M532.5 291.4h0M535.9 292.7h0M516.8 273.7h0M566.5 288.9h0M529.4 273.9h0M557.8 289.6h0M546.6 295.6h0M525.5 277.7h0M563.6 269.8h0M513.5 266.3h0M558.9 278.6h0M559.8 284.8h0M531.1 272.4h0M559.7 282.8h0M526.4 283.2h0M510.5 276.3h0M566.5 283.8h0M532.2 281.8h0M556.6 289.6h0M565.8 289.2h0M537.1 290.4h0M529.7 288.6h0M531.7 265.2h0M525.1 263.2h0M563.1 283.6h0M532.5 276.5h0M534.3 291.8h0M568.6 294.5h0M557.3 281.1h0M525.3 275.1h0M589.9 275.6h0M545.5 295.6h0M531.8 275.8h0M568.5 267.6h0M564.3 288.3h0M511.2 291.0h0M544.0 291.0h0M501.5 265.6h0M522.8 278.1h0M539.9 287.2h0M568.9 288.8h0M555.6 288.7h0M513.4 281.4h0M528.2 268.9h0M511.1 267.6h0M542.0 288.3h0M529.9 263.0h0M560.1 285.4h0M578.3 272.4h0M576.2 269.9h0M522.5 280.0h0M535.7 287.0h0M511.2 275.7h0M562.6 265.7h0M526.1 265.0h0M560.1 271.8h0M541.2 283.5h0M527.6 282.6h0M558.5 297.2h0M476.6 265.6h0M575.9 286.7h0M530.6 280.4h0M571.7 271.5h0M497.7 266.2h0M567.4 263.8h0M556.3 295.0h0M524.6 279.2h0M562.1 291.0h0M569.4 285.8h0M568.8 283.8h0M511.6 267.6h0M564.3 269.3h0M518.0 261.5h0M532.1 277.9h0M532.5 276.3h0M516.2 272.8h0M542.0 295.8h0M528.6 272.3h0M528.3 268.6h0M541.6 293.7h0M566.8 274.5h0M569.0 286.2h0M566.8 271.9h0M564.0 275.4h0M530.8 271.1h0M560.4 275.8h0M535.3 284.3h0M539.1 291.0h0M540.9 292.3h0M558.7 293.6h0M526.1 269.5h0M536.0 274.5h0M562.4 284.6h0M541.2 292.7h0M532.0 274.1h0M570.9 282.7h0M580.7 263.4h0M563.9 280.9h0M562.8 294.7h0M521.8 262.4h0M541.1 285.0h0M519.8 270.3h0M524.7 271.7h0M512.5 261.5h0M574.5 277.1h0M508.7 274.0h0M552.5 295.5h0M542.2 291.1h0M526.5 273.2h0M483.1 266.5h0M552.7 295.5h0" stroke="#000" stroke-opacity="0.58" stroke-width="3.0" stroke-linecap="round" fill="none"/>
<path d="M522.0 274.1h0M565.7 274.3h0M534.7 278.7h0M531.5 264.8h0M556.2 287.4h0M538.0 284.6h0M526.0 289.6h0M531.8 271.6h0M529.9 295.7h0M536.1 288.5h0M535.0 288.9h0M521.9 291.4h0M554.0 286.9h0M579.3 269.4h0M574.5 261.6h0M565.4 269.5h0M539.0 280.3h0M554.8 289.5h0M555.2 297.3h0M511.7 264.9h0M533.4 278.9h0M529.8 275.3h0M524.8 266.9h0M562.0 277.1h0M528.8 261.6h0M534.6 282.9h0M558.3 282.7h0M534.9 272.7h0M546.4 294.2h0M568.8 273.7h0M586.4 273.6h0M559.5 271.6h0M553.4 297.1h0M559.1 290.0h0M582.8 264.8h0M561.8 285.6h0M587.9 281.7h0M518.2 289.9h0M580.1 277.6h0M558.2 287.3h0M579.7 292.2h0M539.0 281.3h0M574.8 267.7h0M562.0 266.4h0M520.4 263.3h0M530.1 272.3h0M559.1 283.2h0M535.3 271.5h0M558.0 289.0h0M504.5 268.3h0M542.5 287.0h0M559.5 278.0h0M521.6 262.9h0M536.0 278.6h0M533.1 284.8h0M525.2 275.0h0M526.3 281.5h0M505.1 281.6h0M567.5 265.3h0M540.2 287.2h0M518.8 269.3h0M544.6 291.2h0M538.4 287.0h0M569.1 293.1h0M536.0 285.3h0M486.0 261.6h0M563.4 267.6h0M533.9 296.1h0M532.3 276.1h0M569.5 278.9h0M557.4 277.6h0M558.2 288.2h0M569.8 269.6h0M562.7 277.1h0M563.0 293.3h0M564.4 285.0h0M532.1 278.8h0M535.0 273.0h0M569.7 285.6h0M563.7 282.7h0M581.3 273.5h0M569.0 277.0h0M577.5 287.6h0M538.1 282.5h0M563.7 277.7h0M529.2 273.7h0M534.3 268.9h0M539.6 289.7h0M534.1 286.4h0M567.0 267.5h0M521.6 291.6h0M554.1 289.9h0M518.5 264.5h0M566.1 286.7h0M541.0 288.6h0M512.0 267.8h0M528.6 271.8h0M558.6 290.9h0M534.8 280.2h0M576.9 289.0h0M558.3 287.1h0M571.2 268.9h0M562.9 284.1h0M553.5 290.7h0M517.1 267.5h0M513.5 277.8h0M565.2 278.7h0M560.6 294.6h0M514.4 263.6h0M535.0 278.8h0M538.2 286.6h0M519.2 261.9h0M562.6 273.3h0M556.8 287.8h0M513.0 277.6h0M563.3 273.0h0M579.1 284.2h0M523.8 280.0h0M536.2 275.4h0M516.9 277.6h0M531.2 292.5h0M550.9 295.1h0M552.0 294.6h0M552.9 289.5h0M534.1 286.2h0M556.1 287.9h0M566.1 290.8h0M570.9 287.6h0M552.3 292.4h0M515.8 282.4h0M536.7 284.7h0M545.1 293.2h0M533.8 277.9h0M544.0 293.9h0M534.4 274.1h0M562.7 284.4h0M536.1 272.9h0M511.5 265.6h0M531.3 275.8h0M526.6 274.0h0M504.1 290.0h0M556.9 276.9h0M543.1 288.0h0M530.3 272.8h0M526.2 270.7h0M538.0 281.6h0M513.9 272.3h0M539.4 284.9h0M526.3 271.8h0M585.5 263.5h0M554.4 293.8h0M526.3 266.0h0M513.8 266.5h0M533.4 289.2h0M536.6 287.6h0M539.5 281.5h0M566.9 275.9h0M520.5 269.6h0M502.5 262.4h0M527.5 282.3h0M559.9 289.4h0M561.7 279.3h0M534.5 290.4h0M527.1 276.8h0M540.5 291.3h0M524.9 271.1h0M553.4 295.0h0M508.5 263.9h0M567.2 266.7h0M567.3 270.7h0M556.5 293.9h0M557.6 281.3h0M564.3 273.0h0M579.4 268.2h0M566.9 276.4h0M506.0 267.2h0M559.0 278.9h0M573.1 293.1h0M489.7 262.7h0M577.7 274.8h0M559.3 294.3h0M559.8 288.4h0M583.9 264.6h0M533.8 274.5h0M576.1 283.9h0M556.4 286.3h0M532.5 267.2h0M521.1 264.1h0M553.8 293.6h0M559.5 273.8h0M557.7 284.3h0M552.6 295.1h0M527.0 269.1h0M570.1 272.6h0M552.3 294.7h0M526.4 291.3h0M558.0 294.1h0M525.6 283.6h0M571.3 275.6h0M525.7 284.7h0M534.5 271.8h0M573.3 276.8h0M565.9 265.4h0M572.5 281.5h0M531.2 280.9h0M537.0 294.1h0M535.2 287.4h0M529.3 271.0h0M529.4 277.5h0M557.3 278.1h0M567.6 282.1h0M527.1 279.0h0M524.1 270.1h0M533.4 270.3h0M537.4 292.8h0M539.6 290.3h0M545.8 296.6h0M554.0 287.4h0M572.0 281.5h0M539.4 289.7h0M533.8 292.5h0M545.7 292.8h0M543.9 296.8h0M532.7 273.5h0M528.6 265.4h0M569.1 280.4h0M519.7 262.4h0M579.9 272.7h0M560.3 281.3h0M561.7 282.3h0M561.2 282.7h0M562.5 287.7h0M503.5 277.1h0M561.4 268.4h0M540.3 285.0h0M529.3 270.7h0M537.9 288.7h0M555.6 289.4h0M535.9 284.7h0M567.1 290.1h0M573.1 262.2h0M514.8 281.6h0M540.5 285.4h0M535.9 276.0h0M559.5 276.8h0M561.9 292.0h0M587.0 281.1h0M548.1 297.2h0M567.2 265.3h0M563.4 278.6h0M558.1 288.4h0M560.8 295.4h0M539.7 290.9h0M529.0 270.0h0M558.0 280.5h0M547.7 296.1h0M528.5 281.1h0M489.8 263.5h0M519.4 267.1h0M554.1 287.1h0M572.0 263.9h0M568.5 267.9h0M528.2 265.7h0M557.7 291.5h0M574.0 265.0h0M543.5 295.1h0M558.0 281.3h0M519.7 280.4h0M534.1 288.0h0M526.8 272.6h0M565.1 282.1h0M545.0 297.6h0M550.9 294.7h0M558.3 275.0h0M559.6 282.4h0M527.7 271.9h0M553.1 291.2h0M529.6 278.0h0M572.5 288.2h0M590.1 267.0h0M567.8 271.9h0M524.2 267.8h0M518.3 269.1h0M518.6 271.5h0M564.1 276.7h0M537.7 283.2h0M523.6 268.9h0M513.4 279.4h0M571.2 282.0h0M533.2 274.7h0M580.3 281.4h0M492.7 271.2h0M515.2 262.1h0M543.9 295.3h0M555.9 295.4h0M536.0 281.9h0M568.7 277.0h0M535.0 276.6h0M522.4 277.7h0M537.5 282.4h0M510.7 263.3h0M545.5 297.6h0M534.9 284.8h0M553.3 292.5h0M559.4 286.2h0M586.2 263.9h0M551.9 292.9h0M582.5 266.0h0M525.0 292.5h0M523.9 277.9h0M581.4 272.2h0M556.2 288.9h0M518.4 275.0h0M526.2 265.4h0M526.7 280.5h0M466.0 275.0h0M561.3 277.5h0M542.1 296.1h0M577.6 267.4h0M562.7 289.3h0M513.1 266.9h0M568.3 268.4h0M562.5 291.4h0M537.9 287.8h0M564.0 275.7h0M576.3 276.2h0M556.3 279.9h0M522.9 278.2h0M506.3 264.0h0M556.6 293.4h0M531.2 286.3h0M525.7 281.5h0M565.3 273.9h0M569.9 278.3h0M498.5 282.5h0M566.1 273.1h0M537.1 288.8h0M568.2 264.6h0M564.7 278.9h0M542.5 289.3h0M531.8 285.9h0M559.4 282.0h0M522.9 273.8h0M502.5 267.5h0M529.3 285.8h0M566.4 266.7h0M559.4 288.4h0M560.6 288.8h0M539.8 289.9h0M538.1 294.0h0M532.9 286.2h0M511.3 275.7h0M532.6 292.8h0M515.9 276.2h0M560.7 289.7h0M570.6 274.0h0M572.3 282.5h0M559.7 279.7h0M532.4 264.6h0M568.5 272.7h0M580.2 264.3h0M537.1 283.9h0M533.5 274.0h0M542.5 294.1h0M524.6 274.9h0M528.5 271.2h0M568.2 279.4h0M537.5 292.0h0M527.1 270.2h0M575.1 270.6h0M525.5 262.4h0M540.1 297.1h0M519.1 289.3h0M576.4 273.8h0M515.0 268.8h0M558.4 282.8h0M531.7 282.8h0M510.9 263.0h0M537.0 280.9h0M540.3 290.5h0M556.3 289.2h0M534.2 284.1h0M578.0 267.9h0M563.7 269.3h0M562.0 265.3h0M545.8 294.9h0M529.0 271.8h0M559.0 277.6h0M583.7 263.3h0M567.6 284.9h0M528.9 269.5h0M564.8 265.1h0M518.0 268.5h0M558.4 276.4h0M521.4 282.6h0M532.7 270.7h0M538.4 292.9h0M530.7 274.7h0M538.2 289.6h0M523.1 266.0h0M534.7 283.7h0M564.2 270.2h0M537.0 290.9h0M507.8 267.5h0M587.3 270.3h0M532.2 269.2h0M533.8 282.6h0M565.8 264.9h0M570.8 270.4h0M523.3 294.1h0M569.3 270.8h0M573.0 278.5h0M526.1 287.1h0M528.8 280.5h0M570.1 261.9h0M540.0 287.3h0M533.4 270.8h0M566.1 271.3h0M567.5 263.9h0M526.2 284.8h0M569.1 286.8h0M541.8 284.3h0M512.7 279.2h0M574.3 277.8h0M538.6 285.5h0M569.2 270.4h0M560.7 277.2h0M518.1 267.3h0M541.2 286.5h0M536.7 283.4h0M558.0 285.4h0M587.1 269.6h0M562.4 288.3h0M560.5 275.2h0M455.0 266.0h0M566.9 278.2h0M528.4 268.1h0M532.3 284.5h0M581.4 283.9h0M559.6 292.1h0M565.7 283.1h0M553.5 292.3h0M563.6 277.7h0M566.0 280.9h0M563.6 270.0h0M559.4 278.1h0M513.9 264.0h0M538.7 295.8h0M560.9 285.4h0M555.1 288.2h0M556.0 288.6h0M541.6 298.3h0M523.4 271.0h0M532.5 285.0h0M567.4 272.9h0M565.6 268.4h0M560.3 268.6h0M559.8 282.3h0M554.9 294.0h0M574.6 271.4h0M518.8 275.2h0M514.1 265.9h0M520.5 267.5h0M534.0 292.1h0M499.2 268.8h0M578.9 282.1h0M533.9 275.8h0" stroke="#000" stroke-opacity="0.58" stroke-width="3.0" stroke-linecap="round" fill="none"/>
<path d="M514.3 267.7h0M534.3 269.8h0M557.8 295.5h0M521.5 273.5h0M591.9 264.6h0M554.8 289.9h0M515.4 265.0h0M529.0 288.3h0M509.2 266.5h0M518.0 276.4h0M567.3 279.5h0M522.8 283.0h0M500.7 270.2h0M575.1 274.9h0M560.8 272.2h0M541.5 292.1h0M576.0 270.7h0M585.5 281.3h0M525.0 267.4h0M544.8 291.3h0M537.7 290.4h0M560.6 276.6h0M497.4 268.6h0M562.1 277.5h0M563.8 278.7h0M542.6 297.2h0M526.6 269.0h0M554.7 285.9h0M541.4 290.2h0M564.0 288.6h0M516.8 280.5h0M590.1 277.3h0M575.2 269.8h0M534.3 270.1h0M518.0 271.5h0M576.3 265.6h0M532.5 280.2h0M537.5 281.1h0M568.7 262.1h0M554.5 287.2h0M573.9 275.6h0M554.5 291.5h0M520.2 272.3h0M523.2 275.0h0M540.0 289.5h0M536.9 292.5h0M537.4 285.8h0M562.8 268.2h0M534.8 284.0h0M568.9 279.7h0M544.4 298.0h0M521.0 284.1h0M529.6 288.6h0M555.7 289.9h0M523.5 262.0h0M554.3 290.8h0M519.3 265.1h0M566.2 284.1h0M536.4 280.5h0M522.2 266.5h0M569.8 284.5h0M534.5 280.8h0M547.3 297.5h0M566.8 269.3h0M557.2 290.1h0M569.3 274.6h0M567.4 273.5h0M533.0 281.8h0M560.5 275.9h0M536.2 273.6h0M591.1 273.0h0M584.6 269.9h0M546.2 293.5h0M566.8 286.1h0M530.2 277.0h0M539.8 287.8h0M543.1 295.7h0M532.1 290.2h0M565.5 265.4h0M564.6 281.6h0M508.1 278.1h0M543.3 291.5h0M522.1 267.0h0M546.5 296.2h0M578.3 277.3h0M574.0 266.3h0M559.0 283.0h0M572.7 264.9h0M552.8 293.5h0M566.3 268.5h0M534.2 292.4h0M574.4 274.7h0M567.0 274.6h0M534.1 271.4h0M505.0 274.3h0M562.8 292.2h0M557.0 290.6h0M534.0 284.2h0M530.3 274.0h0M506.0 266.0h0M513.4 265.9h0M566.0 265.3h0M566.2 271.0h0M578.0 283.0h0M524.7 265.0h0M538.0 278.0h0M553.7 289.6h0M535.6 282.6h0M526.3 276.4h0M563.3 278.9h0M535.6 271.2h0M534.1 288.6h0M538.7 290.1h0M531.2 282.7h0M575.0 264.8h0M484.2 271.0h0M532.2 282.2h0M524.3 269.2h0M571.3 274.1h0M531.1 284.3h0M532.2 284.8h0M524.2 266.4h0M534.7 271.7h0M556.6 290.3h0M551.6 294.3h0M516.7 264.8h0M538.9 281.5h0M543.8 298.0h0M523.6 279.1h0M573.4 270.4h0M594.0 286.7h0M561.8 273.0h0M573.6 261.9h0M569.2 279.2h0M534.2 285.7h0M565.4 282.0h0M541.6 284.5h0M530.6 291.5h0M537.3 286.9h0M562.5 272.4h0M537.6 286.9h0M517.6 273.0h0M537.1 295.4h0M533.0 284.7h0M534.4 294.2h0M559.5 282.2h0M501.7 262.1h0M559.4 275.3h0M559.9 276.9h0M576.1 268.1h0M559.8 276.9h0M567.3 266.5h0M558.2 285.3h0M536.4 275.3h0M531.6 279.5h0M553.1 296.2h0M593.0 262.1h0M531.8 277.6h0M535.1 274.3h0M541.5 286.3h0M559.5 290.4h0M531.4 289.8h0M577.8 267.2h0M521.6 265.4h0M514.4 284.6h0M555.6 295.2h0M528.0 278.7h0M569.0 262.6h0M566.7 265.4h0M565.2 282.7h0M557.9 280.4h0M547.2 296.8h0M519.8 283.4h0M561.7 291.9h0M573.3 263.0h0M570.0 285.2h0M522.9 263.3h0M575.4 297.5h0M564.7 275.1h0M512.7 270.4h0M544.2 292.1h0M536.5 288.5h0M521.7 278.8h0M527.6 280.4h0M529.1 288.0h0M533.8 288.2h0M521.4 276.6h0M558.0 274.8h0M559.5 295.8h0M531.8 279.3h0M544.8 297.7h0M535.0 274.0h0M559.6 276.0h0M537.8 277.6h0M524.3 265.6h0M520.3 287.5h0M535.7 275.9h0M529.8 290.0h0M566.9 271.8h0M556.8 293.5h0M527.4 272.6h0M507.4 265.4h0M529.7 283.9h0M534.2 276.8h0M526.1 272.3h0M566.4 274.6h0M525.1 293.5h0M554.2 297.9h0M553.1 295.4h0M502.4 267.6h0M580.6 261.8h0M565.3 291.6h0M533.1 275.9h0M561.0 266.8h0M555.2 283.5h0M556.4 284.5h0M554.4 285.4h0M535.2 280.9h0M532.2 273.5h0M556.4 280.3h0M539.4 285.9h0M576.6 276.0h0M581.4 273.7h0M529.5 284.3h0M566.2 276.9h0M516.0 275.8h0M557.1 282.2h0M522.0 273.2h0M542.4 286.1h0M559.6 293.7h0M519.1 266.5h0M557.5 297.1h0M553.3 290.6h0M557.6 291.6h0M526.8 274.8h0M563.1 271.6h0M586.8 262.1h0M521.4 268.6h0M567.5 271.8h0M528.3 263.9h0M537.9 284.4h0M568.3 269.6h0M539.8 285.0h0M519.1 268.1h0M524.8 262.8h0M559.7 269.7h0M517.5 268.2h0M525.2 267.3h0M555.0 285.6h0M529.0 271.9h0M601.9 284.8h0M564.8 268.1h0M559.3 274.5h0M521.4 282.1h0M542.6 290.6h0M558.6 288.8h0M535.0 275.0h0M532.7 276.4h0M527.7 274.4h0M539.7 293.9h0M539.0 295.2h0M569.9 274.4h0M557.8 295.2h0M530.5 275.9h0M500.7 264.2h0M533.0 284.9h0M539.9 285.2h0M533.8 278.1h0M532.1 272.0h0M512.1 262.2h0M563.5 263.9h0M555.0 288.8h0M569.6 276.1h0M538.6 282.7h0M525.4 269.9h0M523.2 269.2h0M590.0 284.6h0M545.8 295.1h0M568.8 281.6h0M526.7 268.3h0M555.6 287.1h0M564.8 290.1h0M552.1 293.1h0M524.2 270.1h0M559.7 294.6h0M593.4 277.9h0M528.3 267.4h0M552.5 291.4h0M514.9 275.8h0M568.0 270.3h0M531.2 282.6h0M557.4 297.3h0M603.0 272.8h0M534.7 271.2h0M568.7 272.0h0M526.5 270.9h0M537.1 282.3h0M580.7 278.4h0M510.4 267.9h0M536.2 287.8h0M534.8 271.9h0M544.3 292.2h0M537.1 298.2h0M538.8 292.0h0M561.3 270.8h0M494.3 277.6h0M509.7 282.6h0M526.9 271.7h0M563.3 275.9h0M521.8 286.2h0M506.3 274.0h0M534.2 268.7h0M556.3 284.1h0M525.7 280.3h0M530.0 269.3h0M558.8 285.9h0M512.2 278.8h0M564.9 269.8h0M584.6 275.5h0M557.5 290.2h0M566.7 273.4h0M538.0 296.8h0M556.8 284.9h0M566.4 272.3h0M581.3 284.4h0M572.5 276.1h0M535.4 292.5h0M543.7 295.5h0M555.9 288.4h0M531.5 265.7h0M527.3 279.6h0M523.8 272.1h0M572.1 284.4h0M532.8 282.7h0M567.9 265.8h0M523.5 270.4h0M566.1 263.4h0M532.3 285.1h0M582.8 274.7h0M568.5 265.8h0M552.5 293.8h0M529.1 284.5h0M526.4 281.8h0M531.8 272.9h0M567.5 265.7h0M541.9 286.3h0M537.1 274.3h0M492.5 271.6h0M567.0 270.0h0M573.5 276.6h0M564.1 270.8h0M566.0 280.8h0M525.2 278.5h0M515.7 271.6h0M558.3 283.2h0M501.8 268.5h0M553.2 288.4h0M545.9 298.0h0M521.3 290.4h0M519.9 273.9h0M558.4 287.9h0M561.3 285.1h0M563.9 286.0h0M528.7 278.0h0M571.3 262.4h0M545.6 294.5h0M514.8 263.6h0M530.8 267.2h0M539.1 295.1h0M560.7 277.2h0M517.5 284.4h0M524.9 286.0h0M545.1 295.4h0M545.8 293.5h0M489.2 265.0h0M536.7 288.0h0M502.4 271.2h0M534.1 296.5h0M558.2 290.4h0M586.3 273.2h0M546.0 296.5h0M566.8 271.6h0M517.3 265.5h0M542.0 296.8h0M560.8 268.7h0M559.1 271.7h0M580.6 279.4h0M540.3 282.6h0M519.4 268.0h0M559.6 283.3h0M589.9 271.0h0M561.6 274.6h0M574.9 263.5h0M560.5 274.7h0M519.2 263.7h0M541.8 291.6h0M559.4 288.9h0M527.6 279.9h0M531.4 272.4h0M563.7 268.7h0M516.6 270.8h0M533.9 296.5h0M580.0 262.6h0M525.6 280.4h0M572.4 275.5h0M505.1 265.8h0M556.0 295.3h0M569.2 269.9h0M516.6 282.4h0M517.1 265.4h0M566.0 271.6h0M545.3 293.9h0M576.8 286.1h0M535.9 282.3h0M556.2 284.1h0M540.5 288.6h0M541.1 292.1h0M555.0 297.1h0M530.1 271.2h0M588.7 270.7h0M567.2 276.3h0M541.3 290.6h0M568.1 272.0h0M564.9 278.6h0M566.0 267.5h0M577.4 281.0h0M539.7 288.2h0M517.5 269.5h0M536.5 285.3h0M543.2 297.0h0M537.6 275.9h0M512.4 294.7h0M589.5 262.5h0M579.4 271.9h0M541.1 292.6h0M533.3 272.2h0M523.6 267.9h0M560.5 286.0h0M558.9 279.9h0M539.1 291.5h0M532.6 277.3h0M535.6 285.2h0M563.3 285.8h0M527.6 265.3h0M586.7 262.9h0M585.4 266.3h0M524.6 276.6h0M518.9 270.6h0M505.9 275.5h0M537.1 277.9h0M533.8 291.6h0M525.7 269.1h0M538.9 286.1h0M592.9 271.3h0M585.9 263.9h0M522.1 269.1h0M563.9 278.1h0M565.7 272.3h0M560.8 277.2h0M551.5 296.4h0M573.4 262.7h0M516.9 274.1h0M536.6 274.0h0M566.8 271.9h0M518.0 267.4h0M534.7 283.7h0M578.8 261.4h0" stroke="#000" stroke-opacity="0.58" stroke-width="3.0" stroke-linecap="round" fill="none"/>
<path d="M486.9 261.8h0M541.3 293.9h0M505.1 266.4h0M528.9 293.5h0M514.7 268.4h0M546.1 297.0h0M528.8 268.0h0M528.5 278.5h0M561.7 278.8h0M535.9 286.3h0M527.0 273.5h0M565.3 263.4h0M534.2 285.6h0M518.0 267.6h0M528.3 285.9h0M536.0 277.1h0M573.5 264.7h0M563.3 272.9h0M530.6 279.9h0M515.4 269.6h0M563.7 276.6h0M526.8 280.8h0M562.6 280.0h0M570.1 273.3h0M528.8 266.7h0M580.9 273.5h0M572.0 281.0h0M530.6 280.6h0M520.0 265.9h0M511.5 274.2h0M541.0 290.2h0M536.1 280.7h0M515.7 281.4h0M579.5 263.4h0M534.9 273.5h0M526.4 270.7h0M568.0 286.1h0M543.4 294.6h0M536.0 282.6h0M538.2 291.1h0M578.3 268.4h0M543.1 289.3h0M562.6 283.7h0M566.8 290.5h0M513.2 269.0h0M531.0 294.4h0M534.7 288.9h0M506.8 263.4h0M580.2 282.5h0M574.8 287.7h0M580.5 270.2h0M544.8 292.8h0M541.0 294.7h0M570.0 270.2h0M532.0 276.5h0M534.6 283.9h0M535.2 275.4h0M533.8 277.9h0M558.5 279.2h0M531.9 291.7h0M515.5 275.3h0M563.8 284.8h0M534.2 288.4h0M504.2 270.8h0M538.8 285.7h0M526.3 282.0h0M574.3 274.0h0M571.7 265.1h0M566.6 266.7h0M560.6 288.0h0M522.2 286.6h0M517.7 269.8h0M536.8 285.1h0M538.4 288.0h0M543.1 287.7h0M561.8 268.4h0M513.9 265.6h0M506.3 279.6h0M525.3 271.3h0M555.2 297.1h0M576.1 271.0h0M530.8 261.4h0M537.1 283.2h0M552.7 295.1h0M531.8 281.2h0M555.2 285.4h0M491.5 262.4h0M541.7 297.3h0M532.2 285.1h0M564.6 290.2h0M528.7 263.4h0M527.3 267.9h0M568.4 286.3h0M569.0 276.2h0M518.8 266.9h0M530.8 281.3h0M546.3 296.1h0M563.9 270.2h0M570.3 266.9h0M552.4 295.8h0M552.4 293.6h0M543.1 295.6h0M567.2 270.0h0M562.2 290.1h0M557.0 281.6h0M538.9 285.1h0M526.4 270.3h0M555.3 294.3h0M530.3 265.8h0M533.4 267.8h0M525.6 293.4h0M515.9 278.8h0M570.5 261.9h0M564.6 294.9h0M552.1 294.1h0M534.4 291.8h0M520.3 271.7h0M537.7 282.5h0M568.6 277.9h0M533.5 289.1h0M532.2 264.8h0M551.4 296.5h0M571.4 265.5h0M578.4 279.8h0M545.3 295.0h0M564.3 262.9h0M526.9 274.7h0M537.0 275.2h0M566.7 273.5h0M523.0 276.3h0M516.9 289.2h0M540.9 286.3h0M532.1 284.3h0M533.6 272.4h0M541.4 298.3h0M527.9 273.1h0M536.4 281.5h0M534.0 267.9h0M573.9 276.3h0M520.6 272.1h0M521.1 264.1h0M569.5 271.3h0M505.1 265.6h0M566.4 275.9h0M569.7 275.1h0M537.0 286.0h0M573.6 262.5h0M551.0 297.3h0M493.8 280.5h0M523.3 264.0h0M557.1 288.4h0M511.2 288.7h0M511.0 267.9h0M561.0 284.5h0M556.3 282.3h0M566.9 273.7h0M547.6 298.0h0M571.4 262.4h0M554.5 289.7h0M531.3 265.1h0M553.6 291.0h0M584.3 273.8h0M563.8 280.7h0M538.1 282.5h0M560.6 273.4h0M538.3 281.5h0M530.3 281.9h0M543.5 290.6h0M589.9 268.6h0M556.9 291.1h0M536.4 272.1h0M523.3 290.7h0M499.9 280.9h0M523.1 284.0h0M532.5 271.5h0M579.8 267.4h0M543.0 292.6h0M541.8 294.3h0M512.7 270.0h0M534.0 292.9h0M568.6 285.1h0M513.5 266.6h0M534.7 270.4h0M523.6 267.3h0M571.5 266.3h0M551.6 297.5h0M552.9 293.2h0M520.1 274.2h0M568.1 271.4h0M514.0 265.6h0M575.1 267.2h0M535.4 290.7h0M562.6 293.4h0M589.7 271.2h0M560.6 286.7h0M536.9 283.3h0M494.6 277.7h0M534.1 283.9h0M572.9 268.5h0M565.3 282.6h0M564.2 275.2h0M525.7 269.1h0M534.4 277.6h0M568.1 267.1h0M555.4 287.8h0M563.0 275.6h0M578.5 275.5h0M518.8 273.9h0M539.7 283.8h0M542.9 287.5h0M564.4 262.0h0M514.8 271.5h0M518.0 278.2h0M566.9 282.4h0M522.6 265.1h0M540.2 287.4h0M538.5 282.5h0M584.2 280.6h0M546.3 294.2h0M523.1 277.9h0M535.7 289.8h0M522.8 274.4h0M560.4 281.7h0M543.0 288.1h0M562.2 266.8h0M525.3 265.1h0M538.0 285.5h0M542.2 289.8h0M514.8 269.0h0M544.0 297.7h0M533.9 266.9h0M533.6 270.6h0M529.9 263.3h0M542.1 291.2h0M538.7 279.5h0M543.4 293.4h0M566.1 274.7h0M564.8 265.4h0M496.5 262.5h0M525.4 287.3h0M526.3 266.3h0M526.8 278.7h0M489.2 267.6h0M522.7 275.1h0M538.7 280.6h0M560.2 272.6h0M536.8 292.5h0M554.9 285.7h0M520.1 283.9h0M521.5 271.9h0M563.1 263.9h0M561.2 269.5h0M522.9 265.9h0M524.8 265.6h0M492.9 264.4h0M531.1 275.5h0M534.6 275.6h0M530.0 277.8h0M526.6 268.7h0M527.5 285.6h0M544.3 293.2h0M527.8 271.4h0M558.0 282.5h0M519.6 279.8h0M556.4 281.0h0M561.2 272.5h0M524.9 275.7h0M529.0 269.8h0M568.0 285.6h0M540.8 294.1h0M535.0 284.6h0M531.5 286.1h0M532.4 274.6h0M557.5 291.7h0M566.2 272.0h0M538.0 285.1h0M565.2 288.3h0M558.3 282.6h0M539.4 293.1h0M488.8 268.0h0M533.3 272.6h0M558.9 276.5h0M574.3 269.7h0M558.7 291.8h0M503.8 263.1h0M546.9 296.2h0M555.2 293.6h0M528.3 277.4h0M534.5 279.1h0M561.2 275.0h0M509.9 270.8h0M511.1 275.8h0M522.2 261.5h0M535.8 278.9h0M572.8 278.7h0M513.1 282.9h0M520.1 265.1h0M534.2 277.1h0M561.9 272.9h0M559.1 275.6h0M571.3 283.8h0M551.5 295.1h0M517.7 280.2h0M515.2 272.6h0M530.8 284.1h0M566.1 281.2h0M510.4 274.6h0M531.0 281.2h0M569.6 271.0h0M534.3 283.5h0M542.4 292.7h0M560.8 267.3h0M554.9 284.9h0M511.5 275.5h0M578.2 267.8h0M538.3 281.7h0M519.4 270.6h0M562.6 271.0h0M536.1 278.5h0M545.6 295.8h0M534.6 291.5h0M524.9 275.8h0M555.9 290.3h0M532.2 271.4h0M556.2 288.5h0M570.4 269.4h0M510.1 272.6h0M554.3 294.6h0M566.1 284.7h0M552.5 296.3h0M559.7 278.7h0M551.9 295.4h0M579.5 280.1h0M568.5 264.7h0M533.3 276.8h0M563.1 282.0h0M552.5 297.1h0M534.6 288.3h0M522.7 266.4h0M560.8 291.9h0M528.4 274.7h0M568.4 272.5h0M555.5 291.3h0M526.0 273.0h0M587.1 276.5h0M568.4 263.6h0M512.5 268.6h0M539.6 286.3h0M577.0 262.5h0M513.5 271.8h0M556.9 281.2h0M535.9 284.8h0M526.6 272.0h0M540.7 282.1h0M559.8 288.7h0M524.3 272.3h0M530.1 266.3h0M551.7 297.5h0M556.0 292.5h0M535.7 285.6h0M568.1 278.3h0M521.8 265.2h0M534.7 274.1h0M525.4 274.0h0M532.8 280.3h0M535.0 273.3h0M575.3 273.8h0M561.0 266.6h0M581.9 269.0h0M533.0 265.8h0M578.6 267.9h0M566.9 266.3h0M564.2 292.3h0M531.6 282.1h0M536.2 287.7h0M516.1 264.4h0M570.1 269.5h0M532.7 290.6h0M570.9 263.1h0M539.8 282.6h0M566.6 262.4h0M539.4 293.7h0M531.6 297.7h0M531.4 275.3h0M526.6 262.1h0M518.0 280.2h0M525.3 267.9h0M527.2 267.6h0M563.6 281.6h0M579.6 264.1h0M529.2 275.0h0M571.7 277.1h0M576.1 272.7h0M537.9 280.3h0M534.8 281.7h0M531.7 282.6h0M558.4 277.3h0M554.6 289.8h0M545.3 292.9h0M597.1 270.4h0M592.3 269.2h0M502.5 268.6h0M569.8 268.4h0M538.6 293.8h0M538.0 280.6h0M537.0 290.7h0M559.2 293.5h0M536.3 281.6h0M521.0 277.1h0M544.9 292.5h0M517.5 281.9h0M516.7 270.5h0M536.1 282.2h0M565.6 289.8h0M530.9 284.6h0M569.7 290.8h0M572.2 264.4h0M570.1 289.3h0M529.7 295.0h0M536.5 293.4h0M541.0 289.1h0M532.2 276.2h0M565.8 277.0h0M561.6 273.9h0M564.5 277.4h0M525.6 263.4h0M533.8 276.0h0M535.5 274.8h0M566.0 291.8h0M568.8 265.0h0M554.5 284.6h0M520.1 261.9h0M573.5 262.1h0M539.1 288.7h0M563.8 294.4h0M528.0 269.7h0M529.2 283.0h0M529.1 269.9h0M556.1 298.0h0M519.4 262.9h0M565.7 274.6h0M520.0 275.4h0M532.2 291.6h0M563.4 288.0h0M558.1 276.0h0M574.6 266.1h0M570.5 295.7h0M522.3 292.8h0M525.0 273.6h0M557.1 289.2h0M525.7 278.6h0M533.9 280.9h0M534.8 281.8h0M526.6 270.9h0M534.6 281.2h0M567.4 287.0h0M577.9 282.2h0M570.4 269.3h0M528.6 281.7h0M563.3 267.0h0M494.6 264.8h0M603.5 264.3h0M537.5 282.0h0M560.8 267.8h0M522.5 274.7h0M536.6 272.6h0M537.2 279.1h0" stroke="#000" stroke-opacity="0.58" stroke-width="3.0" stroke-linecap="round" fill="none"/>
<path d="M522.9 264.0h0M573.7 277.0h0M556.5 281.1h0M571.0 280.1h0M498.0 263.3h0M566.5 287.7h0M552.8 291.0h0M511.0 264.6h0M531.6 273.8h0M552.7 294.5h0M529.8 288.1h0M561.5 263.1h0M540.4 284.8h0M529.5 278.3h0M531.7 282.3h0M528.5 277.0h0M537.3 296.0h0M531.1 274.0h0M575.7 275.1h0M521.5 272.6h0M552.7 297.2h0M523.1 272.3h0M593.8 262.2h0M509.5 268.5h0M558.9 277.2h0M593.9 272.9h0M566.6 266.2h0M529.7 273.0h0M538.4 294.9h0M533.1 270.9h0M505.1 261.8h0M579.0 263.4h0M517.6 271.3h0M590.5 289.9h0M512.0 275.6h0M540.7 292.2h0M536.8 291.5h0M555.7 290.7h0M552.9 294.0h0M540.3 282.3h0M572.6 261.8h0M561.8 263.9h0M538.4 286.0h0M512.5 261.9h0M564.9 289.6h0M547.1 296.9h0M524.5 262.1h0M519.0 273.0h0M537.0 288.0h0M520.8 278.3h0M532.9 277.0h0M554.9 290.4h0M567.0 283.0h0M537.8 280.5h0M551.7 295.1h0M505.9 278.1h0M513.3 261.8h0M530.6 268.9h0M521.7 265.6h0M523.3 288.7h0M529.3 279.8h0M559.2 282.3h0M535.3 277.4h0M587.2 273.9h0M563.5 269.9h0M536.6 280.7h0M533.6 271.0h0M523.2 279.7h0M544.2 296.9h0M553.7 292.0h0M555.1 286.9h0M539.0 285.0h0M556.2 291.0h0M553.8 291.7h0M536.2 283.2h0M571.3 274.1h0M575.4 266.0h0M516.4 270.6h0M532.1 289.8h0M554.2 296.0h0M559.1 281.6h0M518.3 266.0h0M539.8 295.0h0M519.0 276.9h0M560.2 291.4h0M550.5 295.7h0M530.2 286.3h0M554.9 291.6h0M569.3 271.5h0M527.1 293.2h0M553.7 292.4h0M562.9 275.2h0M577.1 286.4h0M539.4 289.2h0M562.1 288.2h0M508.0 274.1h0M535.1 271.9h0M532.0 284.8h0M528.8 278.6h0M594.4 266.9h0M541.8 289.9h0M565.8 281.4h0M533.1 287.4h0M536.3 287.6h0M530.0 274.5h0M564.9 290.2h0M583.2 264.6h0M561.1 286.8h0M562.8 293.7h0M563.4 275.4h0M512.2 270.3h0M535.4 271.3h0M543.1 290.8h0M589.7 262.2h0M523.9 271.9h0M523.2 268.1h0M561.6 273.0h0M502.8 272.0h0M570.2 268.5h0M556.7 282.5h0M551.8 294.0h0M565.7 285.7h0M530.6 275.2h0M561.7 289.5h0M535.2 276.4h0M510.8 265.0h0M555.5 282.0h0M531.7 289.3h0M560.2 269.6h0M536.9 280.2h0M561.3 270.9h0M541.7 292.7h0M561.9 269.9h0M537.7 287.0h0M559.3 276.4h0M531.7 264.0h0M564.9 285.5h0M548.3 297.9h0M570.5 263.3h0M527.2 263.9h0M516.3 272.9h0M577.2 262.0h0M539.2 281.3h0M534.8 286.4h0M537.2 283.2h0M559.9 283.8h0M577.2 278.4h0M571.3 278.9h0M568.1 278.4h0M528.8 264.4h0M578.5 262.6h0M538.9 281.1h0M560.8 292.6h0M530.2 264.4h0M562.8 288.8h0M528.2 268.7h0M512.1 267.7h0M542.4 295.3h0M528.8 273.2h0M542.5 295.7h0M531.8 285.3h0M556.6 290.7h0M572.8 274.4h0M525.4 279.1h0M526.2 267.9h0M565.4 263.1h0M564.4 266.1h0M532.7 275.5h0M600.0 264.6h0M534.7 293.3h0M556.0 283.6h0M524.7 262.4h0M525.4 270.7h0M559.4 278.5h0M535.0 294.7h0M572.2 269.0h0M560.8 276.1h0M541.6 283.4h0M516.0 270.1h0M527.8 271.7h0M559.3 272.7h0M505.5 271.3h0M504.4 268.9h0M518.3 271.8h0M526.6 262.9h0M560.6 294.4h0M518.8 269.8h0M527.3 280.6h0M521.7 267.8h0M514.1 263.6h0M561.9 286.8h0M533.7 287.1h0M526.5 277.0h0M570.4 268.2h0M525.5 265.8h0M512.4 265.8h0M528.7 279.0h0M560.1 283.2h0M531.0 293.5h0M549.8 297.0h0M505.4 270.0h0M565.9 280.2h0M534.1 272.3h0M594.9 269.2h0M526.6 278.3h0M562.2 275.9h0M526.9 271.9h0M520.5 269.1h0M554.6 292.6h0M554.8 295.4h0M531.2 268.2h0M528.0 273.5h0M524.2 291.2h0M537.1 282.7h0M569.2 263.7h0M557.1 280.7h0M553.9 294.2h0M542.2 287.8h0M534.9 272.6h0M560.2 292.2h0M525.6 263.8h0M570.9 273.8h0M551.6 295.8h0M525.1 269.4h0M516.6 288.1h0M556.0 291.6h0M583.3 263.2h0M535.0 295.1h0M525.9 279.2h0M513.5 277.2h0M535.1 285.4h0M559.4 282.2h0M568.8 278.6h0M557.9 287.1h0M537.7 289.6h0M564.7 273.2h0M551.9 293.4h0M556.2 282.2h0M526.7 283.0h0M525.2 285.1h0M567.1 287.9h0M583.9 265.5h0M537.6 281.5h0M519.3 270.2h0M540.5 284.4h0M570.3 263.5h0M544.2 293.2h0M566.0 272.2h0M578.8 266.5h0M529.4 274.8h0M560.8 288.4h0M568.4 282.3h0M543.3 292.8h0M536.6 280.3h0M570.7 268.6h0M515.5 263.1h0M561.5 281.3h0M571.9 263.9h0M565.3 280.0h0M564.7 276.3h0M513.5 274.6h0M520.7 274.7h0M540.7 287.3h0M527.2 261.8h0M555.7 294.9h0M522.6 294.7h0M518.1 262.7h0M531.4 284.3h0M537.6 279.8h0M528.6 262.5h0M499.0 273.7h0M559.8 282.2h0M556.7 297.2h0M562.1 281.0h0M559.8 273.6h0M504.6 267.8h0M555.7 295.3h0M562.1 274.1h0M514.3 271.4h0M511.6 274.0h0M529.0 270.1h0M538.3 295.0h0M532.9 269.6h0M516.8 267.9h0M534.8 285.9h0M558.1 295.2h0M535.3 296.8h0M582.2 267.1h0M565.3 297.9h0M522.1 282.0h0M562.5 281.4h0M586.6 269.9h0M520.7 265.7h0M530.1 275.9h0M539.1 296.9h0M556.0 287.9h0M588.8 272.8h0M532.7 275.0h0M513.1 267.1h0M550.5 295.9h0M555.9 288.4h0M541.3 289.3h0M535.1 294.0h0M520.3 269.6h0M532.9 279.7h0M539.1 289.3h0M576.6 269.6h0M574.5 279.0h0M563.3 261.7h0M563.8 286.1h0M524.6 285.3h0M529.7 275.5h0M552.5 294.4h0M517.6 274.9h0M529.6 278.1h0M518.7 274.9h0M582.0 265.3h0M557.8 289.1h0M565.5 271.9h0M566.0 266.9h0M520.1 270.8h0M545.2 295.8h0M570.7 274.4h0M559.9 285.8h0M579.9 265.5h0M561.1 292.9h0M533.4 277.9h0M563.7 265.2h0M561.9 279.4h0M533.5 290.9h0M584.1 264.8h0M557.9 283.7h0M585.7 267.8h0M557.1 291.6h0M535.5 275.2h0M527.5 268.8h0M542.3 290.6h0M564.5 282.1h0M535.1 271.2h0M528.4 269.7h0M559.2 277.4h0M521.0 273.4h0M508.3 270.2h0M538.8 282.5h0M556.7 291.1h0M536.3 275.8h0M572.8 274.9h0M527.9 269.6h0M536.4 281.9h0M528.4 266.6h0M561.0 280.4h0M558.2 287.6h0M507.9 263.8h0M560.2 280.7h0M542.4 286.6h0M525.2 274.2h0M512.8 275.7h0M508.3 284.2h0M535.8 276.0h0M581.7 265.1h0M536.2 293.0h0M525.2 271.5h0M525.1 280.6h0M521.8 261.9h0M514.9 269.3h0M534.1 278.4h0M516.8 269.9h0M555.6 282.2h0M537.7 284.6h0M564.7 270.2h0M556.4 288.8h0M510.6 278.0h0M563.0 295.3h0M526.7 277.7h0M540.8 290.2h0M526.8 282.8h0M563.0 285.3h0M567.0 271.7h0M550.5 295.7h0M553.3 295.4h0M527.4 279.0h0M536.5 289.9h0M535.2 289.2h0M569.5 276.0h0M537.6 284.1h0M533.2 275.5h0M512.3 268.0h0M539.2 288.9h0M567.5 281.4h0M526.6 268.1h0M542.3 295.2h0M539.4 289.2h0M494.4 277.6h0M564.3 275.6h0M538.6 289.4h0M585.1 265.4h0M532.1 283.2h0M561.8 282.0h0M559.4 277.0h0M539.0 279.8h0M532.6 270.8h0M532.4 276.3h0M517.7 264.2h0M561.5 270.0h0M541.7 295.6h0M539.1 294.1h0M567.5 264.1h0M531.3 282.5h0M552.8 298.0h0M558.8 282.6h0M541.9 293.7h0M523.1 268.6h0M554.3 295.4h0M538.1 284.6h0M583.4 276.2h0M466.7 264.0h0M525.8 266.4h0M523.4 271.0h0M556.9 284.7h0M506.4 280.3h0M535.7 280.3h0M572.0 271.8h0M555.4 286.2h0M533.6 271.5h0M583.2 262.7h0M558.0 287.0h0M576.1 274.2h0M577.0 270.0h0M533.7 273.2h0M557.2 281.7h0M524.3 262.8h0M514.2 277.9h0M516.6 270.4h0M527.0 267.8h0M482.8 263.2h0M498.4 271.3h0M540.9 294.8h0M562.6 269.3h0M523.1 278.5h0M545.6 294.5h0M528.7 289.9h0M529.7 278.9h0M540.9 290.3h0M534.0 289.6h0M576.3 272.8h0M559.9 280.3h0M554.7 285.0h0M532.3 282.7h0M542.8 288.9h0M533.1 290.8h0M572.9 274.4h0M517.8 285.6h0M562.8 281.5h0M530.7 276.4h0M514.7 281.6h0M559.1 274.1h0M516.9 269.1h0M528.5 269.3h0M530.5 275.3h0M555.1 290.3h0M540.6 295.8h0M508.7 279.7h0M562.7 264.8h0M536.9 284.4h0M554.2 295.8h0M557.1 291.2h0" stroke="#000" stroke-opacity="0.58" stroke-width="3.0" stroke-linecap="round" fill="none"/>
<path d="M527.3 263.7h0M555.2 291.5h0M534.8 275.0h0M532.8 272.4h0M543.4 294.4h0M555.9 287.6h0M518.9 262.9h0M547.1 296.5h0M572.7 269.3h0M544.6 296.5h0M560.1 287.1h0M556.4 294.9h0M541.3 288.0h0M556.9 282.2h0M523.9 283.7h0M572.2 267.4h0M521.9 265.0h0M522.5 268.1h0M537.6 283.5h0M543.1 290.7h0M510.6 278.5h0M567.4 278.7h0M533.7 279.7h0M511.5 269.8h0M570.8 269.8h0M529.0 281.7h0M521.8 275.3h0M537.8 291.5h0M530.8 262.1h0M531.0 288.3h0M556.3 285.9h0M596.0 265.2h0M536.9 281.9h0M562.7 279.7h0M555.7 291.8h0M563.4 289.0h0M493.6 274.3h0M558.9 289.6h0M555.4 284.6h0M561.1 287.3h0M561.2 283.9h0M535.3 282.8h0M539.3 286.9h0M531.8 269.7h0M536.5 274.5h0M533.8 272.1h0M539.1 294.5h0M566.3 273.6h0M563.2 275.5h0M564.5 279.5h0M559.7 281.0h0M534.4 281.0h0M540.8 290.6h0M563.2 261.7h0M565.8 266.7h0M526.3 270.6h0M529.5 279.8h0M569.3 276.1h0M560.8 293.0h0M556.0 287.8h0M566.8 273.1h0M564.9 290.0h0M532.3 292.2h0M562.8 281.2h0M528.2 275.2h0M560.1 288.6h0M533.2 287.4h0M512.5 285.9h0M542.4 291.3h0M566.5 285.1h0M557.3 284.7h0M537.2 295.3h0M466.1 270.3h0M579.3 269.7h0M524.5 273.9h0M562.3 271.9h0M562.7 265.5h0M527.8 274.3h0M559.7 279.8h0M565.6 262.1h0M563.2 274.3h0M533.1 286.0h0M559.8 283.2h0M579.0 261.7h0M568.3 289.3h0M526.8 280.0h0M541.1 291.9h0M560.0 292.6h0M573.6 262.3h0M531.6 285.4h0M537.2 283.1h0M583.2 276.7h0M552.9 294.1h0M515.0 270.2h0M517.5 265.5h0M563.0 278.7h0M531.0 287.7h0M526.6 263.3h0M560.6 269.8h0M558.3 281.1h0M532.0 272.1h0M533.9 293.3h0M514.9 262.4h0M525.5 267.3h0M500.3 270.7h0M552.4 295.3h0M523.3 276.6h0M536.7 279.6h0M515.3 262.8h0M530.5 267.0h0M536.2 291.0h0M533.2 277.0h0M564.1 280.4h0M540.6 285.7h0M558.8 286.6h0M583.4 285.5h0M533.4 280.0h0M568.2 266.1h0M523.8 273.3h0M561.0 289.9h0M534.3 281.8h0M518.5 264.6h0M532.3 264.7h0M511.2 268.9h0M536.9 273.6h0M567.8 268.1h0M530.9 273.2h0M564.1 294.2h0M537.9 292.1h0M525.7 265.9h0M569.3 286.2h0M544.4 298.3h0M551.9 297.4h0M535.9 288.9h0M537.9 289.8h0M564.1 264.7h0M536.0 294.7h0M558.3 280.0h0M536.9 282.1h0M520.3 274.0h0M553.7 295.3h0M528.2 266.6h0M542.8 293.8h0M554.0 295.9h0M558.2 280.5h0M561.9 292.1h0M565.8 262.9h0M483.7 281.5h0M534.7 283.4h0M577.5 266.3h0M531.3 269.0h0M556.3 282.7h0M540.8 291.8h0M565.6 272.7h0M570.8 286.9h0M567.8 279.2h0M569.9 293.7h0M558.2 295.5h0M528.8 287.6h0M539.2 289.7h0M530.5 280.5h0M559.1 281.6h0M531.8 277.1h0M550.9 295.4h0M513.6 272.8h0M577.1 282.3h0M526.1 264.0h0M572.6 282.2h0M568.7 278.8h0M556.7 280.2h0M574.1 285.1h0M578.0 266.4h0M528.2 272.7h0M561.3 297.6h0M561.2 285.8h0M525.0 269.5h0M552.3 291.9h0M529.4 272.8h0M539.8 286.8h0M564.3 290.7h0M514.1 270.8h0M528.3 282.3h0M582.6 281.5h0M557.5 284.4h0M568.1 274.6h0M563.9 275.3h0M560.4 272.2h0M532.1 283.6h0M530.7 284.2h0M574.0 265.8h0M564.0 266.4h0M525.4 267.6h0M532.4 282.7h0M546.2 295.3h0M523.3 285.9h0M563.9 267.6h0M514.0 266.6h0M540.9 292.9h0M553.1 294.0h0M542.3 289.5h0M593.0 262.9h0M537.4 288.5h0M530.8 279.9h0M552.0 294.6h0M564.8 277.3h0M530.8 277.8h0M566.8 269.4h0M536.2 289.8h0M519.6 273.9h0M534.0 293.8h0M559.2 278.0h0M527.4 270.8h0M528.1 277.0h0M566.2 282.7h0M571.2 284.8h0M582.1 267.9h0M516.4 268.6h0M521.7 262.5h0M532.9 265.2h0M532.8 266.5h0M554.1 288.9h0M565.8 281.0h0M517.4 281.5h0M490.6 265.5h0M537.8 280.9h0M578.4 272.9h0M512.4 263.0h0M557.7 281.3h0M579.0 277.1h0M574.7 271.2h0M535.3 280.2h0M532.9 284.5h0M558.9 287.8h0M524.6 262.0h0M501.7 262.9h0M561.8 265.4h0M553.0 291.6h0M526.8 277.4h0M571.0 272.3h0M555.4 285.1h0M563.8 276.8h0M527.1 269.9h0M524.7 277.7h0M522.0 261.6h0M529.0 262.3h0M508.0 282.6h0M538.6 293.6h0M528.5 283.2h0M563.0 280.1h0M531.3 270.9h0M552.1 291.8h0M510.8 274.3h0M524.4 271.8h0M570.0 262.0h0M535.2 282.4h0M533.2 273.5h0M506.3 271.2h0M554.9 285.3h0M533.0 290.4h0M512.1 262.6h0M509.6 273.4h0M566.1 275.2h0M545.9 294.6h0M557.0 291.4h0M503.1 265.6h0M559.7 281.2h0M543.6 296.2h0M535.7 282.9h0M555.7 287.0h0M536.0 280.7h0M558.9 273.8h0M539.2 281.8h0M514.5 269.2h0M517.4 267.6h0M520.6 264.9h0M566.2 278.3h0M531.8 266.6h0M555.1 296.0h0M542.5 289.4h0M524.4 268.2h0M540.2 290.5h0M560.4 295.7h0M526.9 264.6h0M529.8 274.7h0M584.4 279.2h0M502.8 274.4h0M552.5 292.1h0M563.9 277.5h0M554.4 288.6h0M562.1 269.8h0M490.6 261.7h0M532.3 272.7h0M531.5 289.6h0M495.4 267.4h0M532.1 266.8h0M565.4 279.9h0M584.5 265.3h0M524.9 288.3h0M560.4 274.5h0M568.1 275.6h0M535.1 269.3h0M538.5 281.3h0M529.9 284.5h0M537.6 288.3h0M557.3 278.8h0M539.2 285.9h0M522.8 263.1h0M563.0 269.0h0M568.1 276.3h0M562.2 289.5h0M560.4 274.0h0M513.6 268.4h0M571.4 267.8h0M533.0 270.9h0M561.0 293.5h0M526.4 287.9h0M535.7 288.8h0M568.8 263.3h0M523.1 274.8h0M534.9 293.3h0M573.1 293.6h0M569.3 262.5h0M556.1 287.5h0M537.2 295.4h0M552.5 292.4h0M577.9 270.4h0M543.2 293.3h0M539.6 284.9h0M542.7 296.1h0M534.3 275.0h0M559.8 281.2h0M541.7 284.3h0M561.6 296.7h0M555.6 280.8h0M559.2 289.9h0M557.6 283.4h0M525.9 267.4h0M556.8 296.2h0M541.7 291.4h0M533.6 287.4h0M561.3 284.2h0M563.9 290.3h0M564.9 273.4h0M530.3 266.5h0M585.0 264.6h0M557.9 276.0h0M555.8 292.5h0M560.6 276.3h0M565.1 279.3h0M499.3 263.8h0M546.9 296.7h0M560.3 274.1h0M562.6 272.9h0M545.6 293.0h0M536.1 285.5h0M537.7 281.5h0M554.9 297.5h0M521.1 282.2h0M569.7 277.1h0M539.2 287.7h0M500.3 266.4h0M561.8 272.9h0M566.1 266.4h0M542.8 287.1h0M528.7 291.3h0M541.6 293.1h0M533.3 270.2h0M570.8 282.7h0M531.8 274.0h0M511.7 270.7h0M535.1 295.0h0M540.0 283.5h0M572.9 267.4h0M569.8 281.8h0M571.3 289.1h0M556.5 281.6h0M570.7 281.5h0M536.4 282.0h0M493.8 279.1h0M525.7 274.8h0M541.2 283.4h0M505.4 261.4h0M542.8 289.3h0M529.9 263.7h0M587.3 267.7h0M555.9 279.9h0M556.8 287.9h0M518.3 271.4h0M531.9 280.2h0M522.2 261.8h0M537.1 286.8h0M527.2 281.3h0M556.2 290.5h0M554.6 293.0h0M524.4 284.0h0M516.4 272.8h0M519.3 285.3h0M575.2 278.4h0M530.4 290.9h0M488.4 276.9h0M544.8 296.9h0M554.4 292.2h0M560.1 282.0h0M529.9 269.3h0M558.7 277.8h0M517.2 282.6h0M541.4 293.3h0M537.4 280.0h0M543.4 291.6h0M529.6 264.9h0M528.9 263.0h0M525.8 276.1h0M528.1 296.0h0M571.9 286.6h0M511.5 279.1h0M567.9 266.5h0M561.8 275.4h0M564.2 269.7h0M560.7 269.3h0M558.4 292.1h0M526.1 279.9h0M562.6 270.5h0M538.8 297.3h0M485.9 269.1h0M537.5 288.2h0M552.7 297.4h0M556.5 289.6h0M555.2 290.1h0M543.3 293.0h0M536.8 286.3h0M563.3 268.9h0M530.2 274.2h0M574.7 270.8h0M545.0 293.9h0M588.9 276.7h0M566.4 275.0h0M583.4 271.4h0M544.1 294.8h0M536.0 271.7h0M561.5 267.6h0M531.8 292.2h0M560.9 285.0h0M538.2 296.7h0M586.9 263.4h0M565.1 267.6h0M520.3 271.3h0M560.3 284.2h0M542.3 290.6h0M562.9 267.4h0M546.0 292.9h0M529.0 284.5h0M542.5 287.2h0M611.3 264.9h0M556.6 292.3h0M457.2 267.7h0M490.4 263.1h0M542.5 295.8h0M559.5 289.5h0M546.3 298.1h0M561.2 281.1h0M528.2 295.3h0M542.3 287.5h0M531.2 276.8h0M526.4 277.6h0M537.5 277.8h0M563.7 289.0h0" stroke="#000" stroke-opacity="0.58" stroke-width="3.0" stroke-linecap="round" fill="none"/>
<path d="M469.1 274.3h0M553.8 293.2h0M582.1 266.2h0M534.1 286.2h0M569.7 276.6h0M521.9 270.9h0M559.0 281.2h0M574.0 280.9h0M519.1 269.1h0M554.4 293.5h0M516.0 270.0h0M530.2 269.8h0M533.7 280.4h0M569.2 268.3h0M564.1 292.7h0M532.4 274.2h0M517.8 270.8h0M520.4 275.2h0M536.1 288.6h0M539.8 287.4h0M556.3 281.1h0M501.4 267.2h0M589.2 275.7h0M557.5 292.4h0M492.1 263.1h0M515.9 261.9h0M570.8 293.7h0M506.3 266.2h0M546.7 296.4h0M510.1 266.2h0M478.9 264.4h0M535.2 273.7h0M518.5 265.9h0M569.9 262.5h0M520.6 274.8h0M535.3 281.1h0M540.8 298.3h0M570.1 267.0h0M538.5 290.1h0M568.5 266.5h0M543.1 294.4h0M559.8 283.1h0M530.5 279.0h0M569.5 285.4h0M528.3 275.4h0M565.8 270.8h0M561.1 278.8h0M564.4 272.9h0M528.5 271.0h0M560.6 282.0h0M533.0 280.5h0M554.2 295.3h0M553.1 293.2h0M521.4 266.0h0M534.6 275.5h0M557.0 284.3h0M503.0 280.7h0M603.9 268.8h0M530.6 264.7h0M559.9 286.4h0M563.8 273.3h0M559.2 293.4h0M555.8 285.6h0M527.2 269.3h0M541.5 292.7h0M530.6 285.0h0M515.6 276.5h0M523.7 261.7h0M564.6 290.8h0M534.3 279.6h0M522.4 273.6h0M567.6 262.8h0M563.7 277.2h0M513.0 274.5h0M566.4 264.8h0M558.7 292.8h0M546.0 297.5h0M554.0 287.6h0M515.7 277.6h0M522.1 280.6h0M518.1 267.1h0M537.4 275.4h0M559.8 286.1h0M544.1 293.8h0M537.0 293.2h0M576.8 287.0h0M556.3 296.4h0M542.4 287.8h0M521.7 272.1h0M527.5 274.6h0M560.4 268.3h0M560.1 281.8h0M559.5 286.4h0M532.9 275.4h0M583.2 276.3h0M567.8 268.9h0M534.2 294.0h0M542.1 293.5h0M547.0 295.5h0M543.3 296.3h0M516.4 282.1h0M549.6 298.3h0M520.4 282.2h0M521.3 266.2h0M523.0 270.2h0M531.6 273.1h0M506.2 262.2h0M538.3 282.0h0M575.6 264.9h0M557.9 290.7h0M558.2 279.7h0M542.5 287.6h0M540.0 293.6h0M517.9 264.2h0M531.0 269.1h0M535.8 275.5h0M562.5 282.9h0M563.4 283.8h0M568.9 271.7h0M514.7 271.0h0M528.5 293.3h0M532.2 286.8h0M540.5 291.9h0M540.6 291.4h0M583.1 267.3h0M559.7 296.5h0M541.6 287.2h0M512.8 263.0h0M556.0 285.9h0M553.4 294.8h0M550.9 297.2h0M541.3 284.6h0M531.2 271.5h0M566.8 262.5h0M560.0 271.6h0M562.9 290.0h0M517.0 282.4h0M543.2 296.3h0M543.9 292.5h0M521.2 272.9h0M562.3 268.8h0M563.8 279.1h0M545.7 298.3h0M533.5 290.9h0M535.0 282.2h0M530.8 269.0h0M569.3 266.5h0M574.1 268.5h0M567.6 271.5h0M531.5 284.7h0M552.0 293.8h0M529.9 266.5h0M529.7 296.1h0M541.0 289.5h0M562.7 275.6h0M503.8 269.9h0M541.8 294.6h0M560.3 298.2h0M557.1 282.9h0M532.3 263.9h0M532.8 293.7h0M516.7 261.7h0M528.3 273.6h0M580.5 261.5h0M524.9 287.0h0M567.0 278.6h0M557.5 290.9h0M535.1 277.5h0M522.3 277.5h0M519.9 276.9h0M589.5 267.3h0M560.4 274.0h0M469.6 267.9h0M564.7 287.1h0M533.5 288.4h0M537.3 283.4h0M536.8 295.1h0M572.8 276.9h0M526.5 262.2h0M533.0 285.2h0M517.3 271.5h0M493.7 265.7h0M582.0 274.4h0M562.0 271.0h0M520.6 278.3h0M545.4 298.0h0M523.9 266.2h0M543.5 293.6h0M571.1 274.6h0M527.9 268.1h0M566.3 266.5h0M526.3 285.2h0M531.0 273.5h0M556.1 296.6h0M542.4 294.7h0M520.9 261.7h0M540.3 286.9h0M537.4 287.7h0M559.0 286.6h0M567.3 283.9h0M519.4 265.4h0M544.0 291.5h0M565.4 273.2h0M559.6 282.5h0M531.0 266.0h0M541.1 296.7h0M565.5 275.6h0M572.9 263.6h0M529.4 286.3h0M544.6 297.7h0M557.0 281.2h0M569.6 272.9h0M563.5 275.8h0M590.3 265.9h0M561.8 280.7h0M531.9 275.2h0M528.4 276.1h0M570.7 267.2h0M513.8 268.3h0M568.9 263.0h0M527.9 286.5h0M535.9 290.4h0M533.9 270.3h0M561.1 292.6h0M541.2 290.0h0M542.5 287.2h0M523.1 272.8h0M559.3 286.1h0M531.1 285.4h0M584.7 263.2h0M559.1 285.4h0M538.7 294.9h0M534.5 290.3h0M568.4 273.7h0M542.8 294.5h0M558.1 285.3h0M568.4 280.9h0M540.5 289.7h0M527.7 267.4h0M544.6 293.9h0M526.7 277.7h0M534.0 281.4h0M564.0 268.2h0M519.9 268.3h0M521.2 271.4h0M565.4 279.4h0M565.8 266.7h0M530.1 285.8h0M554.1 296.3h0M564.9 274.4h0M514.3 267.3h0M561.7 277.1h0M522.0 275.7h0M581.8 285.3h0M511.3 267.1h0M525.6 285.3h0M554.1 289.4h0M547.7 297.9h0M566.9 275.7h0M536.4 297.2h0M534.5 285.0h0M528.6 265.6h0M536.0 289.3h0M564.6 268.5h0M535.6 287.4h0M535.4 279.4h0M530.3 289.3h0M560.1 277.5h0M559.4 276.3h0M506.3 268.9h0M560.7 267.7h0M529.4 270.3h0M526.3 276.7h0M516.3 273.9h0M574.3 275.5h0M565.4 264.3h0M569.8 286.3h0M557.0 277.0h0M525.2 283.3h0M564.4 274.3h0M526.3 282.5h0M533.5 269.7h0M556.3 278.8h0M576.4 274.6h0M561.0 278.5h0M575.7 262.7h0M537.6 284.5h0M538.7 293.4h0M564.2 294.5h0M553.2 291.2h0M516.1 269.0h0M533.5 280.2h0M531.7 269.4h0M562.3 274.1h0M536.1 287.7h0M571.2 275.4h0M574.4 273.8h0M539.2 286.4h0M521.5 279.3h0M540.2 285.4h0M534.9 273.3h0M566.2 282.4h0M570.2 262.8h0M557.0 289.2h0M494.3 261.4h0M562.0 279.4h0M563.4 285.1h0M527.6 271.9h0M531.6 262.9h0M528.4 281.1h0M534.8 278.6h0M540.1 289.4h0M521.6 279.3h0M579.7 276.1h0M556.6 292.8h0M554.2 297.9h0M569.8 281.7h0M562.5 271.7h0M514.8 265.8h0M528.9 266.5h0M541.6 289.8h0M546.6 298.0h0M540.7 286.5h0M545.5 294.1h0M530.1 288.6h0M572.3 282.8h0M537.7 274.9h0M530.3 261.8h0M564.3 287.2h0M502.2 268.6h0M520.4 265.3h0M540.4 287.2h0M506.3 262.6h0M519.7 273.9h0M554.2 287.7h0M535.3 276.1h0M524.1 285.9h0M564.3 286.5h0M531.6 267.5h0M556.7 282.9h0M525.9 270.3h0M527.3 268.7h0M525.5 283.5h0M519.7 262.6h0M558.2 282.3h0M560.4 269.1h0M536.5 280.4h0M522.7 284.5h0M540.2 282.8h0M563.3 264.2h0M522.3 288.9h0M509.1 278.1h0M495.9 271.3h0M554.1 295.7h0M551.6 295.6h0M554.0 292.9h0M535.5 289.5h0M542.1 296.2h0M508.6 284.9h0M510.6 268.8h0M564.7 279.7h0M541.7 294.7h0M577.2 274.5h0M529.7 285.5h0M508.8 271.4h0M554.5 296.3h0M524.4 282.2h0M531.9 285.5h0M552.9 290.0h0M528.7 281.7h0M540.4 292.6h0M570.7 283.4h0M525.5 275.0h0M562.8 268.5h0M561.9 290.7h0M516.8 268.2h0M563.8 281.0h0M513.9 279.5h0M539.6 280.9h0M558.6 282.2h0M527.4 262.3h0M503.0 268.7h0M537.1 277.8h0M567.9 276.3h0M536.6 291.3h0M528.2 279.5h0M524.8 277.7h0M562.0 292.0h0M542.0 284.7h0M525.7 271.9h0M557.1 296.3h0M524.9 261.8h0M498.5 266.2h0M545.8 293.1h0M522.4 270.3h0M547.3 296.1h0M531.5 284.0h0M526.2 279.9h0M538.7 283.4h0M503.6 271.5h0M520.7 273.7h0M558.6 289.3h0M531.7 287.9h0M517.8 263.2h0M538.3 293.5h0M523.0 286.8h0M559.5 275.2h0M560.6 276.5h0M540.5 289.7h0M529.1 264.7h0M496.5 270.9h0M579.6 270.2h0M530.7 287.0h0M534.8 271.2h0M496.9 275.2h0M534.2 279.5h0M527.7 273.1h0M534.2 280.0h0M507.4 271.8h0M510.1 273.0h0M469.0 273.8h0M530.4 289.0h0M556.9 287.9h0M532.4 269.4h0M560.9 289.8h0M558.8 286.2h0M574.6 273.1h0M533.5 286.6h0M529.6 265.2h0M566.6 273.7h0M560.9 278.1h0M543.1 294.1h0M512.7 274.8h0M526.2 267.8h0M542.2 285.7h0M565.4 275.3h0M534.6 279.9h0M562.2 272.7h0M506.5 268.2h0M520.4 287.9h0M566.9 274.2h0M512.5 267.5h0M561.0 276.0h0M530.2 268.8h0M552.9 296.1h0M534.8 280.9h0M559.9 294.3h0M521.5 275.7h0M542.3 294.9h0M569.3 287.2h0M539.8 285.9h0M586.1 275.8h0M575.0 263.9h0M547.4 298.0h0M559.0 292.4h0M537.3 276.5h0M572.5 279.7h0M539.5 295.0h0M506.9 282.8h0M497.4 275.6h0M541.2 292.7h0M572.6 266.6h0M515.8 268.0h0M539.6 286.3h0M519.4 290.9h0M537.6 288.2h0" stroke="#000" stroke-opacity="0.58" stroke-width="3.0" stroke-linecap="round" fill="none"/>
<path d="M538.6 296.7h0M531.0 265.6h0M533.9 278.5h0M561.3 286.1h0M504.8 264.8h0M571.6 264.8h0M564.8 267.6h0M523.2 268.6h0M557.5 288.0h0M570.7 275.9h0M545.9 295.4h0M520.7 270.4h0M537.2 281.8h0M520.1 266.6h0M558.7 283.6h0M532.2 265.8h0M541.0 293.8h0M518.3 262.5h0M532.6 278.2h0M522.7 275.7h0M490.3 268.9h0M558.0 286.7h0M518.0 277.6h0M558.4 285.2h0M568.5 265.2h0M515.5 282.1h0M537.3 291.7h0M509.0 272.3h0M565.0 276.2h0M529.3 287.2h0M574.7 267.6h0M522.5 264.1h0M555.6 292.6h0M566.2 274.3h0M537.5 288.3h0M560.3 291.8h0M529.4 263.0h0M561.9 282.2h0M506.8 275.7h0M556.7 282.8h0M559.4 297.5h0M533.3 282.3h0M592.9 273.8h0M500.7 263.6h0M566.1 287.1h0M528.1 268.7h0M534.4 281.0h0M525.1 280.4h0M521.5 291.6h0M517.6 272.9h0M562.2 280.6h0M574.0 292.3h0M525.5 268.8h0M514.3 287.9h0M561.0 270.5h0M553.0 291.5h0M526.9 265.2h0M526.9 282.7h0M525.0 262.8h0M522.1 262.5h0M531.8 296.0h0M561.0 271.6h0M523.0 278.3h0M552.9 290.5h0M562.2 266.6h0M532.7 271.9h0M528.5 284.6h0M560.1 272.2h0M566.2 264.0h0M491.4 265.8h0M498.9 265.9h0M524.8 272.8h0M531.7 282.1h0M542.8 291.3h0M561.1 273.9h0M531.6 283.1h0M532.2 284.6h0M561.3 292.8h0M545.6 296.9h0M534.3 277.9h0M526.4 261.6h0M558.8 277.5h0M558.9 272.4h0M558.8 287.6h0M564.1 290.1h0M559.9 271.1h0M573.9 271.5h0M559.2 274.9h0M518.6 276.0h0M512.0 266.7h0M527.4 264.4h0M509.5 269.4h0M559.9 284.3h0M562.7 293.5h0M555.8 286.8h0M465.7 270.1h0M460.7 270.1h0M556.8 286.4h0M573.1 266.8h0M515.3 269.0h0M536.9 277.1h0M556.1 284.8h0M535.8 281.8h0M565.5 274.7h0M570.5 271.2h0M512.7 262.5h0M532.7 281.6h0M564.0 263.5h0M529.0 280.6h0M559.7 281.6h0M515.0 275.5h0M561.4 274.8h0M531.2 278.9h0M575.6 278.2h0M537.4 289.8h0M569.1 264.2h0M530.1 286.1h0M486.5 262.0h0M527.4 272.2h0M531.4 294.0h0M563.0 280.8h0M517.4 286.5h0M593.3 264.9h0M506.2 269.5h0M559.0 281.7h0M526.5 273.3h0M536.8 291.5h0M561.6 263.3h0M571.7 266.0h0M563.4 274.2h0M525.6 271.6h0M541.2 283.9h0M570.4 276.9h0M535.0 292.1h0M531.4 267.0h0M551.9 293.1h0M536.1 295.1h0M523.0 263.0h0M529.1 284.2h0M545.6 297.6h0M580.7 270.0h0M519.2 281.5h0M559.4 284.7h0M525.0 272.2h0M520.3 271.9h0M533.2 270.6h0M561.4 279.8h0M533.2 273.5h0M555.4 292.0h0M569.3 262.9h0M538.0 282.9h0M561.0 286.0h0M539.1 284.6h0M562.5 281.8h0M566.4 263.1h0M539.8 292.4h0M533.6 286.2h0M552.6 289.8h0M533.0 293.8h0M558.0 280.0h0M535.1 274.7h0M523.6 267.8h0M556.0 283.8h0M557.5 286.2h0M568.2 268.2h0M556.7 287.0h0M496.5 272.5h0M527.5 278.7h0M564.5 269.6h0M529.4 275.0h0M559.3 276.3h0M535.6 288.1h0M515.2 261.9h0M540.1 295.0h0M559.1 284.4h0M518.7 279.2h0M512.1 265.2h0M561.7 271.9h0M512.3 262.3h0M543.0 295.0h0M523.4 274.3h0M514.8 265.6h0M536.2 288.8h0M534.2 270.7h0M539.4 292.4h0M536.3 274.7h0M526.4 278.7h0M555.5 288.8h0M538.4 291.9h0M531.2 272.6h0M555.7 281.5h0M529.1 264.8h0M528.6 265.2h0M570.3 266.7h0M558.0 283.3h0M521.7 286.3h0M564.4 280.0h0M564.0 276.3h0M529.6 292.0h0M523.4 268.2h0M532.1 269.0h0M498.8 266.2h0M562.7 274.6h0M534.9 285.0h0M578.2 270.1h0M527.7 276.4h0M567.2 266.8h0M555.6 294.0h0M532.2 276.4h0M569.7 270.1h0M559.1 278.9h0M556.6 280.6h0M564.7 278.1h0M559.9 287.8h0M534.7 291.5h0M558.9 291.8h0M552.5 297.0h0M538.6 286.3h0M579.7 279.6h0M574.3 263.9h0M568.1 279.3h0M565.0 267.5h0M571.0 270.5h0M529.1 281.0h0M569.6 274.4h0M497.6 264.1h0M522.9 275.1h0M566.1 283.3h0M545.1 291.4h0M559.8 270.4h0M569.6 277.7h0M519.0 271.0h0M542.7 295.3h0M521.1 263.8h0M561.6 269.8h0M556.2 293.8h0M556.4 282.3h0M563.9 267.3h0M553.2 294.4h0M527.9 278.5h0M560.6 274.6h0M544.8 293.6h0M541.9 288.8h0M524.8 274.2h0M538.2 283.6h0M557.0 279.0h0M541.2 294.0h0M525.0 264.1h0M563.4 284.9h0M570.7 266.2h0M517.9 270.1h0M555.2 286.9h0M537.2 288.6h0M554.7 293.5h0M558.9 291.5h0M600.5 269.8h0M555.5 290.0h0M540.1 286.8h0M564.4 292.2h0M557.5 284.1h0M564.2 284.9h0M552.8 293.5h0M574.4 279.0h0M563.1 281.7h0M543.7 290.5h0M540.3 284.9h0M562.4 267.2h0M559.3 279.8h0M574.8 263.7h0M538.7 281.7h0M537.3 293.4h0M569.5 268.4h0M556.6 281.9h0M555.7 297.6h0M571.9 281.3h0M551.5 294.3h0M513.0 267.4h0M564.0 267.9h0M557.6 289.7h0M542.6 288.6h0M539.7 290.0h0M547.0 295.8h0M528.2 272.4h0M559.2 283.4h0M566.8 270.8h0M539.6 286.0h0M556.5 287.4h0M536.9 281.1h0M590.2 270.9h0M513.0 273.5h0M534.8 277.9h0M535.4 271.1h0M576.5 292.2h0M573.2 286.3h0M532.9 270.1h0M559.9 269.5h0M524.3 278.1h0M539.1 284.5h0M538.2 289.9h0M539.6 284.7h0M533.4 285.6h0M544.4 297.5h0M565.7 283.4h0M563.1 270.4h0M532.1 274.5h0M538.1 291.0h0M545.1 297.1h0M563.0 278.1h0M522.5 271.5h0M530.1 286.1h0M527.3 266.9h0M554.2 287.7h0M536.2 274.1h0M590.5 268.3h0M509.9 263.5h0M524.6 275.5h0M530.6 279.4h0M555.4 284.1h0M572.0 283.3h0M559.7 278.6h0M554.2 292.1h0M563.7 278.9h0M562.6 262.4h0M528.1 278.5h0M521.9 266.4h0M567.3 270.3h0M559.2 278.5h0M518.7 263.9h0M553.3 295.5h0M528.2 276.4h0M518.3 275.0h0M525.3 277.0h0M569.9 266.4h0M518.1 270.6h0M572.8 280.0h0M561.2 281.5h0M534.2 283.2h0M529.6 276.5h0M556.5 285.7h0M527.2 274.1h0M561.4 273.2h0M584.3 280.4h0M514.8 264.8h0M590.2 266.7h0M564.1 278.7h0M564.8 277.9h0M528.0 281.9h0M512.1 268.6h0M558.2 275.1h0M539.9 290.2h0M561.9 283.7h0M566.1 270.4h0M572.3 272.7h0M527.7 263.7h0M534.7 273.5h0M530.9 273.6h0M553.5 293.5h0M554.8 284.4h0M525.3 283.3h0M519.0 273.8h0M542.1 285.2h0M527.0 282.9h0M555.8 297.1h0M519.6 270.2h0M534.1 277.6h0M564.9 271.3h0M551.8 296.4h0M536.9 276.1h0M531.6 267.9h0M535.5 278.5h0M534.9 285.7h0M537.7 290.7h0M576.3 287.5h0M542.6 286.6h0M575.1 274.1h0M533.7 274.3h0M587.0 263.2h0M524.1 274.2h0M565.2 283.6h0M544.1 290.6h0M558.6 296.0h0M562.7 283.8h0M560.4 270.5h0M557.5 281.5h0M565.4 269.1h0M530.6 278.0h0M517.9 290.1h0M564.5 272.7h0M561.2 268.1h0M520.6 262.8h0M513.6 275.3h0M543.3 293.7h0M542.7 289.5h0M564.3 274.6h0M509.5 287.0h0M530.3 277.0h0M527.2 267.5h0M539.5 286.0h0M540.7 293.2h0M540.2 281.2h0M555.3 288.4h0M532.0 293.7h0M568.1 268.6h0M540.3 293.6h0M561.4 286.2h0M560.9 277.3h0M501.9 276.9h0M512.5 290.6h0M563.4 284.7h0M537.0 284.7h0M533.1 279.7h0M537.1 289.8h0M525.7 273.5h0M561.7 279.8h0M539.7 290.7h0M529.4 265.1h0M492.7 270.4h0M535.9 285.1h0M566.0 265.4h0M576.0 284.5h0M533.9 276.6h0M568.4 290.9h0M535.7 273.4h0M532.8 273.1h0M533.7 297.1h0M568.6 263.3h0M531.0 264.8h0M561.2 280.4h0M541.7 291.3h0M521.9 270.5h0M543.5 291.3h0M542.7 293.7h0M533.1 278.9h0M553.7 292.9h0M563.3 276.7h0M530.5 295.5h0M571.7 278.0h0M517.9 264.9h0M553.2 293.5h0M505.7 265.1h0M527.2 286.2h0M552.4 294.7h0M528.0 273.8h0M529.6 268.1h0M531.6 289.2h0M519.6 271.2h0M566.5 271.8h0M507.3 272.1h0M534.4 294.4h0M542.1 296.3h0M554.7 289.7h0M546.0 293.7h0M519.8 264.5h0M521.9 281.9h0M519.1 277.1h0M578.8 280.2h0M525.2 270.9h0M561.6 278.4h0M509.2 266.4h0M538.2 277.6h0M569.8 290.2h0M533.0 273.0h0M524.6 291.1h0M553.5 288.5h0M531.7 289.6h0M558.3 287.6h0" stroke="#000" stroke-opacity="0.58" stroke-width="3.0" stroke-linecap="round" fill="none"/>
<path d="M591.6 267.7h0M563.8 289.6h0M530.9 267.0h0M536.6 277.2h0M552.3 297.4h0M529.3 278.1h0M546.8 295.6h0M522.8 270.8h0M564.4 270.2h0M546.4 295.9h0M526.8 269.9h0M540.8 284.7h0M544.7 298.2h0M536.6 282.4h0M526.4 277.2h0M565.2 287.1h0M535.0 282.7h0M567.8 275.3h0M561.7 274.6h0M567.8 290.9h0M580.0 265.3h0M539.8 287.8h0M532.3 286.7h0M525.7 280.0h0M528.1 262.6h0M528.4 279.2h0M580.5 264.0h0M538.6 288.6h0M541.9 285.0h0M547.1 296.7h0M567.1 279.8h0M506.8 262.5h0M519.3 287.0h0M543.3 297.5h0M556.2 286.3h0M537.6 283.2h0M515.1 268.5h0M531.5 290.9h0M515.0 272.0h0M563.0 282.9h0M489.6 268.7h0M528.4 278.0h0M574.1 271.7h0M531.1 278.8h0M540.1 287.3h0M525.3 269.7h0M564.6 272.0h0M574.4 263.2h0M558.0 290.3h0M517.5 278.4h0M562.3 271.3h0M574.1 270.7h0M566.8 267.6h0M560.0 274.2h0M540.7 291.9h0M498.5 280.1h0M553.5 295.1h0M555.1 289.0h0M544.0 294.4h0M536.0 271.7h0M532.8 288.2h0M508.5 264.6h0M538.1 281.0h0M499.3 268.0h0M564.5 271.7h0M531.6 282.3h0M523.5 274.2h0M521.6 270.9h0M570.2 275.9h0M547.8 298.1h0M514.2 271.5h0M535.0 294.2h0M520.8 277.1h0M535.5 279.4h0M588.9 283.8h0M564.8 272.8h0M539.0 295.5h0M530.6 285.7h0M580.4 265.0h0M565.7 265.2h0M601.0 266.9h0M517.6 276.6h0M568.4 275.1h0M530.9 281.4h0M507.1 267.8h0M529.5 271.6h0M589.6 271.9h0M541.9 292.5h0M531.3 272.5h0M529.6 277.1h0M530.2 264.8h0M516.3 285.2h0M532.4 266.3h0M540.1 283.1h0M464.2 266.9h0M572.8 290.3h0M535.2 279.4h0M539.2 284.3h0M558.7 278.8h0M568.3 269.7h0M518.3 266.8h0M532.5 291.7h0M557.1 281.1h0M521.5 267.7h0M570.8 283.6h0M556.8 278.7h0M556.1 285.7h0M535.3 277.9h0M555.2 285.2h0M589.0 277.7h0M543.1 287.8h0M535.2 286.6h0M535.4 290.9h0M537.1 289.1h0M565.8 266.8h0M533.8 293.7h0M533.2 282.1h0M559.9 272.0h0M559.2 273.8h0M543.7 294.3h0M526.4 269.6h0M509.4 280.4h0M532.9 274.3h0M567.4 287.1h0M525.6 273.1h0M524.1 274.0h0M542.5 292.6h0M538.1 292.0h0M524.6 269.7h0M564.1 281.6h0M563.3 266.6h0M541.5 290.3h0M552.7 291.2h0M486.2 263.7h0M530.9 287.6h0M538.9 288.6h0M556.1 291.8h0M547.4 298.3h0M521.9 272.4h0M516.8 276.8h0M556.5 286.9h0M559.9 270.7h0M567.6 270.2h0M568.1 266.8h0M524.4 265.4h0M541.9 290.1h0M563.1 286.3h0M530.2 268.9h0M584.6 262.4h0M533.2 268.0h0M568.4 283.2h0M568.7 286.8h0M571.4 264.1h0M539.4 290.6h0M531.4 267.0h0M532.4 266.9h0M516.2 263.9h0M522.0 262.1h0M534.4 280.9h0M565.3 282.0h0M529.8 277.4h0M539.7 293.7h0M516.0 277.4h0M545.4 296.3h0M543.9 290.1h0M517.8 281.5h0M566.6 288.0h0M568.4 264.8h0M517.7 275.5h0M527.5 283.0h0M521.8 262.7h0M572.5 284.0h0M536.9 290.9h0M569.7 278.9h0M531.2 277.3h0M573.2 280.9h0M531.4 265.6h0M509.1 265.0h0M535.5 281.6h0M555.5 290.5h0M571.3 285.9h0M517.7 273.7h0M557.0 286.7h0M564.2 285.4h0M563.5 275.0h0M524.4 268.4h0M545.4 293.5h0M558.6 284.7h0M544.4 294.8h0M520.0 271.9h0M572.9 291.1h0M562.0 279.3h0M516.4 287.0h0M506.2 275.3h0M532.4 277.4h0M518.6 271.8h0M557.1 284.8h0M557.2 277.1h0M523.0 262.6h0M536.9 276.7h0M514.9 274.1h0M536.4 277.1h0M578.5 277.4h0M513.8 280.3h0M560.9 278.5h0M563.4 282.2h0M564.6 276.2h0M528.8 279.7h0M568.4 264.8h0M570.3 278.6h0M528.1 261.7h0M565.9 276.2h0M567.7 282.7h0M537.6 284.9h0M553.5 293.3h0M560.2 287.7h0M529.7 297.5h0M532.5 282.2h0M558.4 278.4h0M562.9 264.0h0M520.7 278.7h0M525.4 277.4h0M572.6 280.3h0M551.3 298.2h0M554.4 296.0h0M515.8 272.2h0M567.9 270.9h0M572.2 273.3h0M554.1 295.6h0M514.9 267.2h0M562.6 272.8h0M564.1 295.6h0M486.2 268.1h0M599.0 267.2h0M532.1 278.2h0M555.4 286.2h0M538.9 279.9h0M564.2 276.5h0M561.7 267.8h0M537.8 288.7h0M528.8 278.1h0M535.2 275.5h0M557.2 287.7h0M543.8 294.4h0M538.7 281.6h0M561.9 265.9h0M536.9 280.0h0M485.3 264.0h0M588.7 267.4h0M526.9 264.6h0M526.6 269.4h0M510.9 267.4h0M523.0 264.6h0M554.6 286.8h0M519.6 276.8h0M557.2 285.9h0M562.5 280.0h0M566.5 275.3h0M553.0 293.7h0M555.9 286.5h0M583.1 282.8h0M573.8 265.3h0M538.2 293.3h0M533.5 279.4h0M535.4 283.8h0M569.5 268.5h0M533.0 270.9h0M538.1 294.6h0M521.1 265.2h0M563.6 276.5h0M536.9 276.4h0M535.4 288.1h0M559.0 289.1h0M526.4 291.5h0M564.4 283.4h0M567.1 273.0h0M537.8 284.0h0M525.8 284.8h0M571.1 279.1h0M536.8 274.1h0M538.1 283.7h0M572.9 262.0h0M500.3 261.6h0M533.0 291.6h0M530.5 280.7h0M535.2 275.1h0M555.1 288.3h0M547.4 297.1h0M559.5 292.7h0M530.8 295.6h0M500.2 265.9h0M540.6 287.5h0M557.3 278.8h0M543.9 292.5h0M535.2 287.9h0M592.2 275.8h0M597.7 267.6h0M542.9 294.8h0M532.7 273.2h0M557.7 281.4h0M569.6 266.2h0M570.6 265.5h0M541.5 292.2h0M521.7 261.9h0M530.3 265.8h0M578.0 261.7h0M521.5 274.7h0M538.5 296.4h0M553.4 289.1h0M526.9 286.8h0M524.4 267.4h0M530.5 285.2h0M539.4 287.1h0M524.8 296.0h0M558.4 274.4h0M568.3 281.3h0M538.6 291.5h0M543.2 293.8h0M563.9 279.0h0M554.3 291.0h0M537.0 285.7h0M557.4 296.9h0M558.9 283.4h0M574.0 288.9h0M598.7 269.1h0M540.8 287.2h0M589.6 269.4h0M561.6 290.9h0M511.2 264.8h0M543.0 294.0h0M558.0 286.3h0M535.5 273.7h0M579.4 269.1h0M558.0 276.3h0M569.6 265.0h0M506.0 265.2h0M531.1 283.4h0M572.5 279.9h0M518.3 275.8h0M559.6 275.1h0M562.9 283.1h0M559.5 272.2h0M513.7 264.7h0M541.2 290.7h0M485.5 262.0h0M541.1 285.3h0M569.0 278.7h0M563.0 273.1h0M524.4 283.7h0M485.5 269.7h0M505.1 263.8h0M563.3 266.5h0M536.8 287.2h0M531.7 269.6h0M544.5 293.7h0M561.0 265.1h0M529.6 294.2h0M535.0 275.9h0M537.3 291.6h0M538.8 295.5h0M538.2 291.5h0M518.3 267.1h0M547.8 297.2h0M583.7 265.3h0M526.9 266.4h0M520.0 279.3h0M571.5 267.9h0M538.6 278.1h0M587.9 261.6h0M606.5 270.8h0M536.9 293.5h0M567.2 266.8h0M524.7 267.9h0M583.2 282.9h0M520.2 272.6h0M537.8 285.1h0M502.5 261.9h0M535.3 297.4h0M530.6 267.5h0M525.6 269.9h0M553.8 286.6h0M539.2 294.3h0M579.4 277.7h0M534.0 297.9h0M555.2 284.2h0M593.0 269.0h0M538.2 285.9h0M556.2 290.1h0M512.1 269.1h0M528.8 267.2h0M528.4 294.9h0M527.3 291.7h0M536.7 278.9h0M561.4 283.5h0M515.3 262.5h0M536.7 285.3h0M545.0 292.8h0M492.2 271.2h0M561.0 287.0h0M561.1 265.8h0M524.3 264.1h0M513.6 274.0h0M531.9 280.2h0M558.6 276.9h0M534.5 279.8h0M562.0 278.0h0M568.5 270.5h0M554.6 289.9h0M533.2 291.4h0M532.3 270.0h0M541.5 285.9h0M531.3 283.6h0M534.5 282.3h0M553.5 296.6h0M534.7 276.8h0M520.0 274.9h0M572.2 295.9h0M534.9 295.0h0M513.3 267.9h0M555.5 284.7h0M571.5 286.1h0M540.4 292.3h0M503.7 269.7h0M566.7 284.8h0M563.5 263.1h0M531.2 292.1h0M590.2 275.1h0M576.1 267.4h0M559.9 285.7h0M531.8 263.8h0M554.3 291.4h0M532.9 279.1h0M537.9 281.6h0M555.2 288.1h0M558.1 278.9h0M535.3 273.8h0M528.4 266.9h0M570.5 268.7h0M569.3 268.9h0M569.8 273.6h0M562.8 289.7h0M566.5 280.5h0M557.9 279.5h0M507.8 272.5h0M572.3 273.1h0M564.0 276.7h0M563.1 263.1h0M576.7 270.1h0M558.7 276.8h0M533.5 285.5h0M523.9 281.8h0M530.3 263.8h0M553.6 292.8h0M525.6 271.1h0M563.7 269.3h0M550.9 297.4h0M561.6 282.9h0M555.4 281.2h0M562.3 289.6h0M558.8 272.7h0M542.2 290.0h0M559.3 281.9h0M531.0 276.7h0M539.6 287.4h0M565.1 266.7h0M570.4 284.9h0" stroke="#000" stroke-opacity="0.58" stroke-width="3.0" stroke-linecap="round" fill="none"/>
<path d="M485.4 243.0h0M530.9 256.0h0M507.2 253.2h0M453.2 158.1h0M506.6 258.7h0M508.6 208.3h0M524.7 243.9h0M505.3 198.9h0M482.8 238.5h0M499.1 219.9h0M464.9 228.0h0M523.9 240.0h0M500.3 205.1h0M520.7 222.9h0M478.2 159.2h0M527.0 253.5h0M511.9 252.3h0M474.6 219.5h0M523.6 243.5h0M493.2 161.8h0M481.4 249.1h0M471.0 198.2h0M509.1 234.6h0M523.8 232.6h0M489.8 169.8h0M531.1 257.9h0M495.5 210.0h0M496.1 226.4h0M526.0 241.0h0M516.2 238.2h0M519.2 211.3h0M514.9 228.5h0M518.0 250.4h0M503.6 241.9h0M518.1 222.3h0M508.4 249.1h0M517.2 224.1h0M517.1 217.4h0M410.8 90.4h0M487.5 170.1h0M521.0 230.9h0M494.5 230.6h0M508.2 215.7h0M508.0 229.6h0M528.3 252.1h0M531.0 256.9h0M527.3 240.5h0M509.7 254.2h0M513.0 260.5h0M431.3 159.9h0M470.5 229.3h0M466.2 212.5h0M512.7 230.6h0M467.2 255.7h0M498.5 219.7h0M495.0 224.7h0M510.7 203.8h0M520.6 247.7h0M517.5 253.2h0M520.3 240.0h0M502.4 191.7h0M497.1 243.4h0M525.0 250.9h0M519.5 231.3h0M465.0 181.3h0M483.1 243.3h0M504.0 248.4h0M511.3 243.5h0M496.4 190.8h0M508.8 204.9h0M502.8 179.2h0M506.3 227.8h0M475.0 160.3h0M467.2 248.3h0M513.7 224.1h0M506.8 182.7h0M474.4 151.2h0M501.5 193.8h0M497.5 161.4h0M501.2 218.5h0M431.3 184.0h0M514.7 220.9h0M513.3 218.0h0M515.8 227.8h0M511.3 209.2h0M521.2 230.4h0" stroke="#0000ff" stroke-opacity="0.55" stroke-width="3.0" stroke-linecap="round" fill="none"/>
<path d="M509.6 206.8h0M528.0 249.0h0M504.0 241.6h0M515.9 237.7h0M527.1 260.7h0M519.7 241.0h0M496.0 224.9h0M483.4 236.8h0M502.9 199.9h0M461.4 186.2h0M497.8 164.5h0M487.8 190.0h0M421.8 143.4h0M513.8 241.2h0M496.2 233.3h0M502.1 193.1h0M482.4 153.8h0M495.9 212.5h0M515.0 251.2h0M500.0 218.0h0M478.7 215.5h0M510.5 251.7h0M514.4 242.0h0M502.1 182.1h0M494.7 230.4h0M522.5 260.9h0M491.0 218.0h0M517.0 241.0h0M523.0 228.1h0M520.9 236.2h0M484.4 252.8h0M490.7 233.4h0M518.7 240.2h0M434.5 90.4h0M383.5 113.2h0M514.7 230.4h0M500.4 210.0h0M512.7 195.5h0M526.6 247.6h0M492.3 205.4h0M516.6 244.6h0M469.7 223.9h0M503.2 248.7h0M514.3 213.0h0M525.2 247.0h0M456.2 180.6h0M455.8 255.8h0M513.5 227.9h0M509.8 243.0h0M483.6 160.1h0M463.6 145.2h0M513.2 226.8h0M510.4 214.2h0M515.9 246.5h0M441.8 62.6h0M497.6 248.7h0M521.2 249.0h0M425.1 107.1h0M511.0 246.5h0M481.2 199.0h0M477.2 193.8h0M504.0 206.2h0M498.6 242.6h0M520.4 241.2h0M492.1 178.4h0M457.8 201.4h0M490.8 241.0h0M507.5 253.6h0M507.2 227.5h0M483.4 186.2h0M508.7 184.0h0M400.9 90.1h0M507.9 239.3h0M500.2 185.9h0M438.0 176.5h0M522.8 251.5h0M462.0 232.0h0M507.5 256.7h0M467.9 193.8h0M506.6 244.3h0M503.5 229.7h0M469.7 214.4h0M511.7 202.5h0M478.7 245.6h0M478.0 223.8h0M500.5 199.1h0" stroke="#0000ff" stroke-opacity="0.55" stroke-width="3.0" stroke-linecap="round" fill="none"/>
<path d="M522.8 243.3h0M500.2 179.2h0M398.4 154.8h0M441.2 216.6h0M449.4 233.6h0M466.3 225.5h0M513.5 213.7h0M476.1 237.8h0M492.8 210.8h0M459.4 150.2h0M510.8 189.8h0M470.6 169.7h0M491.7 179.1h0M502.6 206.9h0M516.5 244.7h0M490.5 247.1h0M378.6 172.1h0M528.1 260.1h0M507.6 225.8h0M488.6 176.5h0M477.2 186.1h0M502.4 227.5h0M469.1 147.7h0M472.8 239.0h0M505.3 217.2h0M511.9 226.9h0M491.5 219.3h0M480.0 226.8h0M493.2 222.0h0M458.7 220.0h0M525.9 238.4h0M509.1 190.8h0M468.0 243.1h0M488.0 246.1h0M506.2 239.9h0M484.7 260.6h0M506.2 243.4h0M507.1 214.3h0M507.0 210.8h0M517.8 240.6h0M511.2 235.4h0M503.6 222.5h0M479.4 161.4h0M525.8 240.9h0M487.2 248.5h0M478.5 237.2h0M440.9 90.4h0M491.3 250.3h0M436.7 171.6h0M530.1 257.9h0M489.0 209.4h0M476.4 229.1h0M512.4 242.0h0M501.2 216.3h0M508.2 228.3h0M496.2 186.5h0M497.9 211.4h0M491.5 225.4h0M527.0 247.6h0M519.5 216.8h0M507.0 209.6h0M494.9 213.5h0M508.9 230.8h0M484.7 255.3h0M482.3 160.3h0M518.5 226.1h0M495.7 147.5h0M511.5 244.7h0M460.2 171.3h0M507.0 211.9h0M506.8 229.6h0M435.4 103.6h0M523.0 231.8h0M505.5 188.4h0M513.5 213.6h0M511.1 197.5h0M487.9 208.5h0M481.6 160.7h0M522.4 242.2h0M484.1 162.8h0M446.4 225.6h0M522.1 240.3h0M485.7 204.4h0M530.8 256.7h0M514.8 244.5h0M460.6 195.4h0" stroke="#0000ff" stroke-opacity="0.55" stroke-width="3.0" stroke-linecap="round" fill="none"/>
<path d="M503.0 260.3h0M494.8 196.2h0M516.7 248.7h0M518.0 251.5h0M503.0 190.6h0M502.6 224.2h0M498.5 230.3h0M484.6 180.4h0M518.0 258.0h0M492.6 217.0h0M500.6 200.2h0M506.9 240.9h0M501.6 246.9h0M508.0 217.5h0M475.2 233.8h0M444.8 208.6h0M516.8 226.0h0M491.6 250.9h0M455.8 241.4h0M482.6 155.9h0M526.6 249.2h0M524.6 242.8h0M510.8 197.0h0M517.9 210.2h0M480.4 142.7h0M488.4 234.0h0M529.7 259.4h0M499.8 227.1h0M445.0 194.6h0M511.6 246.0h0M518.5 228.0h0M504.3 242.4h0M514.7 218.3h0M515.4 203.1h0M482.9 244.1h0M511.7 246.4h0M448.5 147.9h0M442.2 196.6h0M468.9 174.6h0M517.4 248.3h0M458.5 159.9h0M483.4 189.7h0M466.5 245.2h0M417.4 148.6h0M427.6 172.1h0M477.5 161.2h0M523.0 234.4h0M474.6 226.7h0M446.0 105.3h0M519.1 230.6h0M522.0 247.6h0M452.8 251.6h0M450.5 152.5h0M487.5 182.4h0M503.4 204.7h0M469.5 217.2h0M493.3 194.3h0M505.2 254.1h0M518.1 213.7h0M371.1 116.1h0M494.7 190.8h0M479.1 206.3h0M504.8 192.2h0M490.6 224.0h0M408.3 184.0h0M495.9 158.8h0M511.2 222.8h0M508.8 232.2h0M521.9 252.4h0M480.3 189.2h0M461.5 257.2h0M517.2 259.0h0M507.5 215.5h0M482.8 174.4h0M467.5 157.2h0M514.4 261.2h0M442.3 204.5h0M490.4 105.3h0M499.0 207.9h0M498.2 209.1h0M494.4 228.9h0M500.4 191.4h0M524.5 247.3h0M505.9 206.3h0M526.7 240.3h0" stroke="#0000ff" stroke-opacity="0.55" stroke-width="3.0" stroke-linecap="round" fill="none"/>
<path d="M513.4 218.1h0M526.0 246.6h0M453.8 235.1h0M494.2 204.0h0M457.4 196.4h0M471.1 219.3h0M476.6 223.5h0M487.2 249.4h0M523.5 251.7h0M531.7 260.5h0M504.2 187.6h0M437.5 164.7h0M405.8 89.6h0M513.5 248.0h0M511.7 219.1h0M518.4 205.4h0M446.3 199.1h0M499.4 226.2h0M513.3 238.7h0M440.3 133.4h0M448.6 204.9h0M456.1 184.9h0M471.8 223.7h0M513.2 242.7h0M527.9 246.6h0M471.6 245.7h0M486.4 214.5h0M517.0 249.3h0M527.1 254.8h0M504.4 211.2h0M503.6 237.7h0M494.4 228.6h0M474.4 235.2h0M431.8 217.1h0M525.0 243.7h0M439.4 152.1h0M476.3 185.2h0M520.0 219.7h0M446.3 161.7h0M526.6 254.5h0M486.8 154.1h0M512.1 232.2h0M488.9 205.2h0M495.1 219.1h0M484.3 158.5h0M515.1 221.2h0M465.5 245.1h0M488.9 192.7h0M499.7 235.9h0M518.1 238.3h0M403.3 125.0h0M514.7 237.8h0M500.6 255.9h0M502.7 246.8h0M493.4 208.6h0M399.1 214.9h0M526.2 242.2h0M488.1 196.1h0M497.5 216.1h0M505.3 220.3h0M498.6 191.4h0M512.0 227.1h0M492.7 219.6h0M465.6 199.6h0M526.5 260.5h0M429.8 193.6h0M514.1 255.7h0M497.8 157.6h0M501.7 248.9h0M450.5 246.8h0M492.2 230.2h0M496.7 207.0h0M477.3 191.7h0M465.2 179.1h0M502.2 213.3h0M503.3 195.0h0M466.3 153.5h0M513.3 210.0h0M501.5 217.3h0M523.3 246.1h0M512.1 209.4h0M480.3 258.8h0M506.8 224.8h0M520.4 232.8h0M483.0 238.2h0" stroke="#0000ff" stroke-opacity="0.55" stroke-width="3.0" stroke-linecap="round" fill="none"/>
<path d="M504.5 244.0h0M501.4 173.5h0M383.5 105.7h0M505.7 205.4h0M512.2 243.5h0M510.5 225.6h0M443.1 199.1h0M481.2 167.5h0M403.3 213.7h0M518.6 244.4h0M504.3 198.3h0M520.2 253.9h0M416.4 204.8h0M485.4 246.0h0M460.3 117.6h0M495.4 222.7h0M513.9 253.1h0M496.0 222.4h0M523.8 234.4h0M510.3 250.5h0M415.0 113.2h0M502.7 184.9h0M522.1 232.1h0M502.3 190.5h0M510.3 199.1h0M495.1 228.9h0M502.5 255.7h0M510.3 238.1h0M518.6 228.6h0M507.6 251.0h0M439.6 90.4h0M478.5 157.1h0M518.7 234.9h0M514.2 215.7h0M392.7 172.1h0M523.9 240.5h0M445.4 200.1h0M516.9 241.8h0M513.7 256.5h0M509.8 196.5h0M481.2 249.2h0M485.5 167.6h0M505.6 182.9h0M513.8 249.5h0M446.6 156.6h0M439.4 98.2h0M498.6 206.5h0M487.6 175.8h0M517.5 246.1h0M524.8 258.1h0M513.6 219.1h0M523.4 233.1h0M483.0 241.3h0M488.6 224.1h0M513.2 225.9h0M507.2 219.8h0M523.8 233.9h0M509.0 246.2h0M521.6 237.5h0M528.3 255.1h0M470.2 177.9h0M497.6 178.7h0M500.1 250.7h0M507.7 240.9h0M504.2 191.8h0M529.6 254.8h0M475.0 194.2h0M486.3 190.8h0M424.5 144.3h0M501.8 226.1h0M380.3 116.9h0M491.8 201.5h0M507.5 222.8h0M526.4 248.2h0M474.2 156.8h0M522.3 258.9h0M484.5 176.4h0M490.2 190.2h0M494.1 239.6h0M477.2 119.8h0M507.7 228.6h0M497.3 222.5h0M493.7 239.6h0M516.0 254.6h0M499.8 193.2h0" stroke="#0000ff" stroke-opacity="0.55" stroke-width="3.0" stroke-linecap="round" fill="none"/>
<path d="M518.6 247.2h0M498.8 240.7h0M500.0 215.5h0M487.1 251.1h0M498.6 231.3h0M469.8 161.4h0M408.3 137.4h0M481.9 206.5h0M451.6 238.0h0M489.4 228.6h0M514.5 236.5h0M503.9 227.6h0M503.9 198.5h0M471.4 115.8h0M485.7 157.7h0M487.7 237.7h0M491.0 216.0h0M521.4 245.8h0M454.8 159.2h0M398.4 90.1h0M513.8 232.2h0M475.1 216.2h0M460.7 150.0h0M513.6 214.9h0M511.4 221.6h0M509.0 213.2h0M476.5 195.8h0M512.8 236.5h0M443.9 238.6h0M500.4 211.2h0M526.1 241.3h0M476.5 172.5h0M510.2 231.4h0M516.5 251.0h0M463.0 191.3h0M488.0 249.2h0M509.5 233.8h0M431.8 151.2h0M526.7 237.3h0M492.2 220.0h0M471.6 152.0h0M499.8 190.8h0M508.2 232.1h0M521.1 217.0h0M499.4 186.9h0M475.0 204.4h0M479.1 238.5h0M520.7 259.4h0M487.5 245.2h0M516.5 252.8h0M514.9 201.1h0M510.5 225.5h0M507.7 234.0h0M526.6 243.0h0M520.5 228.9h0M512.2 228.9h0M509.3 226.2h0M487.4 237.2h0M492.5 251.0h0M514.6 247.6h0M466.1 198.3h0M491.8 233.0h0M498.1 218.0h0M480.8 214.2h0M470.8 141.1h0M470.7 141.0h0M514.9 248.8h0M490.3 198.9h0M517.8 239.2h0M496.5 250.6h0M492.5 243.6h0M521.2 217.1h0M485.9 233.5h0M508.9 227.7h0M519.0 234.7h0M509.0 220.2h0M433.0 188.9h0M507.9 255.4h0M515.8 239.2h0M412.0 136.7h0M503.7 234.3h0M511.0 245.9h0M499.1 221.7h0M460.3 145.2h0M518.0 213.9h0" stroke="#0000ff" stroke-opacity="0.55" stroke-width="3.0" stroke-linecap="round" fill="none"/>
<path d="M519.3 222.9h0M501.8 256.2h0M521.9 223.2h0M496.7 223.1h0M456.8 215.1h0M484.0 227.3h0M496.1 234.8h0M482.5 148.6h0M510.4 250.5h0M519.9 233.1h0M407.5 177.0h0M473.0 191.3h0M511.2 243.9h0M496.2 219.5h0M507.4 199.0h0M512.0 215.3h0M505.4 236.4h0M501.0 195.9h0M507.3 200.7h0M512.6 204.8h0M504.1 194.5h0M497.9 219.3h0M494.0 183.4h0M523.4 228.4h0M514.9 205.5h0M526.8 236.5h0M468.6 155.2h0M529.0 253.2h0M451.1 203.9h0M492.8 191.4h0M487.3 248.1h0M488.4 239.9h0M500.5 218.1h0M520.6 223.5h0M445.4 193.9h0M489.8 143.3h0M451.9 232.8h0M484.8 143.9h0M511.2 223.7h0M504.7 233.1h0M446.3 160.3h0M498.9 163.1h0M488.8 258.3h0M471.7 154.8h0M493.3 200.5h0M488.3 207.6h0M512.2 238.9h0M516.2 201.0h0M522.7 248.9h0M521.5 244.7h0M494.4 155.2h0M504.1 181.7h0M523.1 239.5h0M509.6 239.9h0M492.8 183.4h0M493.1 221.2h0M497.0 217.0h0M484.1 173.1h0M504.7 208.3h0M523.7 252.9h0M489.4 214.2h0M518.9 226.3h0M506.1 245.6h0M496.4 154.5h0M501.1 183.5h0M502.7 254.7h0M486.1 227.3h0M496.3 229.0h0M505.6 219.2h0M449.8 179.6h0M523.5 223.3h0M502.5 245.6h0M449.1 256.7h0M496.0 216.3h0M523.8 255.5h0M516.9 235.1h0M515.3 249.3h0M506.4 258.2h0M508.6 195.2h0M516.9 236.2h0M502.4 227.4h0M526.5 238.2h0M508.4 247.4h0M485.8 176.0h0M479.8 228.8h0" stroke="#0000ff" stroke-opacity="0.55" stroke-width="3.0" stroke-linecap="round" fill="none"/>
<path d="M570.2 243.4h0M563.8 245.8h0M604.2 248.8h0M573.0 260.3h0M586.9 246.9h0M570.8 260.1h0M568.5 217.3h0M564.7 241.1h0M579.4 203.4h0M565.7 249.0h0M565.7 258.2h0M590.6 194.5h0M586.9 231.3h0M571.8 226.4h0M580.7 229.9h0M571.2 249.6h0M569.6 215.8h0M565.1 254.1h0M568.9 245.5h0M585.0 254.0h0M567.3 259.9h0M578.2 239.5h0M568.1 260.3h0M568.7 221.3h0M562.5 258.8h0M570.9 203.8h0M564.1 249.1h0M571.0 243.7h0M564.3 229.0h0M571.9 218.3h0M567.8 232.3h0M577.5 223.8h0M572.2 257.4h0M578.5 217.0h0M577.9 219.6h0M571.5 206.1h0M569.4 232.0h0M570.7 250.2h0M580.3 189.7h0M607.6 172.1h0M568.3 203.6h0M564.6 247.3h0M566.9 256.6h0M576.2 247.7h0M597.6 211.9h0M594.8 219.6h0M577.6 258.6h0M612.0 178.0h0M567.6 205.4h0M576.7 195.7h0M564.5 257.3h0M586.2 196.5h0M566.6 239.9h0M585.9 231.2h0M629.0 153.7h0M568.8 237.6h0M563.2 255.2h0M576.2 261.1h0M575.2 234.7h0M587.2 212.4h0M577.3 216.1h0M575.9 199.2h0M588.7 251.8h0M579.3 246.6h0M570.3 254.0h0M568.8 232.8h0M582.7 184.9h0M571.3 209.3h0M565.2 217.7h0M581.6 208.8h0M566.0 216.3h0M566.7 248.5h0M567.9 245.7h0M615.4 193.4h0M576.5 243.1h0M565.7 241.7h0M571.4 226.1h0M579.2 256.4h0M580.3 209.6h0M598.5 249.4h0M575.6 209.4h0M566.3 247.0h0M578.7 225.7h0M565.6 254.0h0M568.9 246.6h0M578.3 237.7h0M573.7 240.0h0M567.6 247.3h0M571.3 235.4h0M582.9 259.6h0M569.8 244.7h0M614.8 249.4h0M582.0 190.8h0M567.6 244.4h0M585.7 225.3h0M568.1 260.7h0M576.1 221.6h0M583.8 183.5h0M584.6 257.1h0M564.3 243.4h0M563.7 259.6h0M565.4 246.4h0M569.7 231.5h0M567.3 231.1h0M583.6 251.9h0M582.7 200.2h0M566.9 255.3h0M568.5 218.9h0M571.2 239.3h0M587.1 208.5h0M578.1 220.2h0M583.1 175.4h0M565.7 235.7h0M622.8 194.9h0M570.9 252.6h0M576.4 182.7h0M574.1 226.7h0M599.8 253.4h0M565.2 220.4h0M589.9 188.4h0M584.0 248.8h0M575.1 249.7h0M568.7 221.6h0M588.4 228.3h0M599.3 258.0h0M584.1 254.2h0M566.3 236.2h0M569.8 242.6h0M577.3 247.3h0M566.6 206.0h0M566.1 249.6h0M590.8 255.7h0M569.3 249.1h0M570.3 253.1h0M609.0 185.0h0M569.8 209.9h0M598.7 196.0h0M567.3 257.4h0M613.2 168.7h0M566.4 246.5h0M583.6 241.5h0M573.9 253.1h0M581.4 235.2h0M569.8 254.1h0M570.6 251.8h0M577.1 261.0h0M564.8 229.5h0M565.7 245.5h0M567.5 255.1h0M586.1 231.2h0M579.9 209.7h0M571.0 247.1h0M569.0 255.7h0M585.6 211.8h0M569.5 222.8h0M569.1 211.9h0M567.6 229.7h0M572.3 225.0h0M568.8 244.5h0M591.5 256.0h0M583.7 188.0h0M571.4 206.4h0M573.4 205.1h0M569.0 234.0h0M576.6 231.4h0M566.6 237.1h0M606.0 232.0h0M567.9 239.1h0M566.0 259.0h0M584.4 200.8h0M574.2 231.5h0M569.3 238.3h0M566.5 259.6h0M586.4 254.4h0M582.2 199.2h0" stroke="#ffa500" stroke-opacity="0.6" stroke-width="3.0" stroke-linecap="round" fill="none"/>
<path d="M575.6 257.7h0M571.3 258.0h0M564.2 260.5h0M565.8 232.1h0M574.7 248.5h0M576.9 246.0h0M583.7 239.2h0M588.1 215.2h0M569.7 208.1h0M568.5 244.5h0M579.6 227.4h0M567.8 196.6h0M617.2 228.2h0M575.8 205.6h0M570.2 242.6h0M566.7 225.1h0M635.5 187.6h0M571.0 248.9h0M595.2 246.0h0M587.3 255.5h0M563.9 242.7h0M578.1 211.0h0M575.5 245.9h0M577.5 234.9h0M629.7 193.9h0M578.5 250.1h0M613.3 168.8h0M581.5 220.6h0M567.3 230.2h0M563.9 253.5h0M611.9 219.3h0M590.9 165.2h0M583.7 256.6h0M569.9 232.5h0M576.4 224.2h0M572.2 190.4h0M567.5 234.4h0M570.6 260.9h0M581.1 212.4h0M577.0 215.3h0M565.9 260.7h0M591.6 219.9h0M585.7 236.8h0M572.4 225.9h0M574.2 235.7h0M591.8 214.2h0M570.4 257.8h0M575.7 256.8h0M562.4 257.3h0M568.7 237.5h0M585.1 199.3h0M564.0 237.3h0M578.5 215.9h0M570.2 256.6h0M572.5 206.2h0M581.9 195.2h0M581.8 180.5h0M581.4 249.5h0M565.0 245.1h0M613.8 239.5h0M573.0 220.5h0M570.1 225.0h0M592.2 212.2h0M608.0 205.0h0M581.8 227.0h0M567.1 245.8h0M573.1 243.0h0M591.9 236.2h0M599.6 222.6h0M570.6 244.0h0M563.8 248.5h0M591.3 253.0h0M578.1 240.7h0M562.9 247.8h0M576.7 238.4h0M580.2 242.1h0M574.4 185.4h0M594.1 198.7h0M603.3 195.4h0M582.4 224.6h0M571.3 256.3h0M565.2 240.1h0M566.1 254.1h0M565.9 248.0h0M581.9 217.4h0M581.0 258.4h0M631.2 180.2h0M571.0 221.3h0M579.8 228.6h0M575.6 182.7h0M567.8 218.1h0M574.5 231.1h0M578.0 227.7h0M566.6 237.4h0M600.7 200.2h0M574.2 248.5h0M569.9 245.4h0M575.2 247.1h0M567.3 219.8h0M572.6 259.2h0M585.7 252.5h0M576.3 226.4h0M580.3 179.2h0M572.3 200.5h0M590.6 180.9h0M584.8 195.3h0M587.6 241.9h0M598.7 161.2h0M582.0 259.8h0M595.5 235.9h0M588.7 198.3h0M575.0 247.1h0M572.1 228.7h0M571.7 243.7h0M569.3 220.8h0M575.5 253.5h0M596.8 229.8h0M585.3 223.3h0M658.3 97.0h0M565.2 224.3h0M582.8 248.6h0M565.5 260.0h0M579.6 215.8h0M573.7 244.4h0M570.6 240.6h0M581.8 194.4h0M566.6 213.8h0M564.8 230.8h0M582.0 246.3h0M565.3 242.2h0M564.2 240.4h0M568.9 252.9h0M569.6 217.6h0M573.7 235.4h0M591.3 235.8h0M595.5 233.4h0M593.0 247.9h0M571.1 217.9h0M570.7 245.4h0M565.5 245.1h0M572.1 245.7h0M569.6 260.9h0M566.8 242.5h0M567.6 245.9h0M570.1 222.6h0M572.2 244.3h0M564.0 249.4h0M579.6 258.3h0M574.0 203.9h0M577.1 232.1h0M583.6 226.2h0M584.7 186.2h0M564.4 239.7h0M568.2 215.6h0M562.7 251.2h0M583.7 238.7h0M567.9 250.4h0M582.0 208.4h0M564.7 239.2h0M574.7 220.1h0M568.1 232.4h0M585.6 231.1h0M582.0 245.6h0M575.4 237.9h0M568.2 252.6h0M585.8 196.8h0M568.9 220.7h0M567.1 244.8h0M568.0 235.7h0M563.4 256.5h0M567.1 234.0h0M564.8 227.7h0M573.0 257.5h0M580.7 247.8h0M589.8 186.1h0" stroke="#ffa500" stroke-opacity="0.6" stroke-width="3.0" stroke-linecap="round" fill="none"/>
<path d="M569.3 237.9h0M577.6 221.2h0M573.3 208.2h0M575.6 203.2h0M580.7 247.8h0M564.4 251.8h0M566.1 209.1h0M573.0 259.0h0M620.8 243.0h0M586.9 229.8h0M586.5 208.2h0M565.9 223.9h0M575.6 224.4h0M566.6 235.8h0M575.6 235.8h0M580.4 248.6h0M566.5 222.9h0M565.1 234.0h0M568.6 249.8h0M573.0 223.9h0M570.8 252.4h0M568.8 243.4h0M577.8 259.2h0M586.3 226.9h0M597.2 172.2h0M565.7 219.5h0M586.0 224.1h0M596.1 211.4h0M571.3 249.0h0M609.9 245.4h0M570.8 236.0h0M584.9 219.4h0M565.3 223.2h0M565.0 224.9h0M602.6 193.4h0M567.8 231.1h0M582.1 241.3h0M593.1 180.5h0M571.2 210.1h0M570.6 198.7h0M572.6 257.8h0M622.9 195.5h0M565.8 260.7h0M578.7 228.6h0M569.2 255.7h0M566.5 235.4h0M566.8 218.3h0M595.7 159.8h0M584.9 208.9h0M572.7 220.1h0M627.4 145.3h0M566.7 216.3h0M586.6 253.3h0M570.5 219.9h0M587.6 249.7h0M574.2 245.7h0M587.9 238.5h0M590.8 216.2h0M575.8 241.2h0M566.0 242.4h0M565.1 254.8h0M578.5 191.3h0M575.0 241.5h0M578.7 231.0h0M566.6 223.0h0M569.5 195.7h0M565.7 211.8h0M594.1 213.4h0M570.9 220.3h0M583.3 193.8h0M566.2 224.8h0M582.3 255.1h0M587.8 255.6h0M570.9 248.7h0M567.5 220.4h0M575.9 192.5h0M576.7 234.6h0M576.8 239.9h0M576.9 218.4h0M574.8 231.5h0M569.1 258.2h0M568.9 246.3h0M564.8 228.1h0M582.8 228.6h0M569.5 256.0h0M595.9 259.4h0M566.2 251.3h0M570.4 233.0h0M578.4 257.8h0M578.3 236.6h0M571.8 244.1h0M567.4 208.6h0M605.0 180.0h0M615.5 130.9h0M575.0 242.7h0M580.1 193.1h0M613.6 163.6h0M566.5 241.3h0M571.6 246.2h0M582.4 238.1h0M568.1 196.5h0M568.3 257.9h0M568.8 250.2h0M573.6 231.3h0M571.9 208.9h0M576.1 232.4h0M608.9 258.9h0M563.7 254.3h0M596.8 236.9h0M585.6 251.1h0M574.9 251.9h0M572.9 236.7h0M565.4 255.8h0M566.2 248.0h0M571.6 196.5h0M574.5 207.5h0M564.2 247.4h0M572.9 204.3h0M566.3 212.4h0M575.4 241.9h0M583.1 242.3h0M605.5 210.0h0M575.6 244.6h0M563.1 254.0h0M573.6 203.2h0M572.5 234.8h0M571.4 237.0h0M567.8 233.7h0M577.9 256.0h0M577.4 241.0h0M573.7 248.4h0M565.6 255.9h0M576.4 237.1h0M585.9 259.3h0M563.7 253.0h0M576.9 236.6h0M585.8 252.0h0M571.8 216.5h0M577.0 231.7h0M585.5 227.1h0M572.3 259.3h0M563.7 257.3h0M577.8 235.3h0M603.9 253.8h0M592.1 228.7h0M577.6 243.5h0M577.0 255.0h0M577.4 171.2h0M567.9 247.4h0M569.4 259.2h0M577.6 249.0h0M567.1 233.2h0M574.2 234.5h0M583.2 196.6h0M582.7 243.4h0M566.3 224.3h0M570.7 228.7h0M578.8 223.7h0M585.5 222.1h0M577.2 256.2h0M564.9 234.8h0M562.5 258.7h0M576.3 228.4h0M585.4 198.7h0M581.7 226.3h0M670.3 200.4h0M565.4 246.5h0M585.5 210.6h0M572.8 245.5h0M571.1 218.4h0M579.0 222.5h0M572.7 219.7h0M575.9 226.3h0M576.6 200.4h0M570.7 249.2h0" stroke="#ffa500" stroke-opacity="0.6" stroke-width="3.0" stroke-linecap="round" fill="none"/>
<path d="M564.3 239.1h0M564.8 253.8h0M565.8 210.5h0M585.2 252.5h0M585.7 211.2h0M569.5 188.6h0M572.4 248.0h0M567.3 261.2h0M579.0 214.3h0M578.9 246.0h0M562.5 259.3h0M575.1 196.5h0M578.6 223.5h0M566.0 219.4h0M610.6 173.1h0M571.4 257.4h0M564.0 260.5h0M565.6 252.6h0M597.8 205.9h0M581.8 219.7h0M572.3 229.0h0M595.5 190.7h0M571.2 234.9h0M580.1 237.8h0M598.0 214.2h0M570.9 244.1h0M583.3 245.8h0M564.3 260.4h0M588.0 214.7h0M581.9 252.4h0M570.8 223.1h0M563.7 256.6h0M579.7 237.6h0M566.5 210.7h0M577.6 231.5h0M588.2 260.4h0M570.1 259.7h0M598.4 205.6h0M563.0 260.7h0M592.4 150.7h0M579.7 202.1h0M582.8 192.6h0M564.3 229.0h0M570.0 250.7h0M587.1 251.4h0M569.5 256.9h0M596.9 249.8h0M629.3 153.9h0M583.0 238.3h0M593.1 226.0h0M584.4 202.0h0M585.2 195.8h0M573.6 255.9h0M568.2 261.0h0M589.8 216.3h0M574.1 254.4h0M567.5 261.3h0M568.6 239.3h0M575.2 203.8h0M565.9 238.2h0M564.2 231.7h0M577.0 238.1h0M568.3 249.7h0M572.8 252.8h0M584.2 259.7h0M572.1 188.9h0M603.5 226.0h0M569.8 213.0h0M578.3 229.4h0M573.5 249.1h0M597.4 248.1h0M632.7 194.3h0M600.6 259.8h0M567.6 202.8h0M570.2 234.0h0M575.5 213.3h0M582.5 236.6h0M567.7 198.0h0M571.7 227.6h0M584.7 226.6h0M583.9 246.7h0M567.5 199.8h0M570.0 214.5h0M566.5 258.2h0M589.1 198.3h0M565.9 258.3h0M573.4 228.8h0M588.9 230.7h0M574.0 244.5h0M573.9 244.4h0M587.2 228.6h0M569.6 237.8h0M639.3 145.3h0M591.3 218.3h0M564.9 247.0h0M564.6 228.3h0M568.0 257.2h0M591.2 178.3h0M564.5 239.2h0M563.3 253.7h0M575.0 224.8h0M572.6 217.8h0M598.3 228.5h0M574.3 231.5h0M579.1 197.5h0M568.4 220.6h0M569.7 220.3h0M567.3 198.0h0M565.7 259.2h0M569.4 236.5h0M594.2 226.4h0M565.9 229.8h0M564.0 242.2h0M596.9 195.5h0M578.9 168.1h0M567.4 260.2h0M589.9 227.0h0M587.5 224.7h0M571.7 235.6h0M588.5 259.6h0M569.1 252.2h0M573.8 223.6h0M572.3 240.6h0M605.2 151.9h0M567.5 235.8h0M573.4 254.4h0M585.8 241.0h0M584.8 207.8h0M572.3 233.2h0M568.0 252.8h0M568.0 226.8h0M565.6 260.1h0M581.4 229.2h0M565.4 258.6h0M582.4 186.5h0M571.7 259.1h0M583.3 247.8h0M572.0 236.7h0M571.6 241.3h0M596.9 223.2h0M573.3 190.0h0M578.6 229.6h0M581.0 183.6h0M567.4 227.9h0M604.0 257.8h0M580.8 245.3h0M574.8 253.2h0M583.6 242.6h0M573.6 228.8h0M566.4 240.3h0M572.4 185.1h0M568.6 246.1h0M569.1 243.2h0M597.8 194.0h0M576.1 243.5h0M569.1 229.7h0M571.4 258.8h0M573.6 261.3h0M586.3 239.3h0M566.3 255.7h0M582.0 224.8h0M571.1 254.3h0M579.9 233.5h0M600.8 206.6h0M604.2 172.0h0M572.5 257.2h0M567.5 215.5h0M565.0 261.2h0M568.8 196.4h0M575.5 229.5h0M564.1 239.4h0M566.4 240.2h0M583.8 165.3h0M580.0 220.9h0M570.5 247.1h0" stroke="#ffa500" stroke-opacity="0.6" stroke-width="3.0" stroke-linecap="round" fill="none"/>
<path d="M570.8 230.7h0M572.3 251.0h0M582.3 215.7h0M586.7 224.1h0M594.8 186.4h0M573.0 255.8h0M572.0 258.9h0M568.3 249.7h0M568.2 233.5h0M583.3 242.8h0M567.2 252.2h0M571.3 251.7h0M585.0 173.4h0M566.4 236.8h0M596.4 185.1h0M564.6 250.4h0M573.5 249.5h0M566.2 256.3h0M572.5 251.8h0M585.0 250.2h0M567.7 249.4h0M566.4 247.2h0M600.4 231.9h0M565.6 237.1h0M570.0 209.2h0M566.8 256.5h0M575.8 212.3h0M564.6 249.6h0M566.2 260.0h0M635.3 106.7h0M573.1 253.6h0M570.1 237.0h0M565.1 244.5h0M570.5 223.5h0M566.5 218.1h0M574.3 212.9h0M604.4 223.9h0M565.8 258.3h0M576.1 234.8h0M577.8 205.6h0M574.2 217.7h0M572.4 224.7h0M567.5 261.1h0M599.8 218.8h0M586.5 253.5h0M567.6 221.6h0M576.4 232.6h0M563.9 259.1h0M573.9 234.4h0M574.8 254.3h0M570.4 229.1h0M580.9 226.8h0M578.8 196.4h0M599.7 205.9h0M580.8 206.8h0M571.8 224.7h0M570.0 254.2h0M575.6 227.9h0M566.2 248.7h0M568.4 225.0h0M603.2 180.2h0M567.3 214.8h0M576.0 202.4h0M569.0 213.2h0M573.0 258.9h0M588.1 189.0h0M594.5 214.5h0M586.6 200.2h0M582.0 212.5h0M583.4 249.3h0M573.2 186.1h0M569.3 249.5h0M569.1 219.8h0M586.8 223.4h0M572.0 256.1h0M603.7 195.4h0M568.0 220.4h0M589.1 209.9h0M601.7 137.4h0M581.6 220.5h0M573.9 187.7h0M578.9 194.7h0M570.1 218.2h0M564.0 249.0h0M585.4 196.3h0M581.7 197.2h0M574.1 232.5h0M575.4 173.3h0M568.5 230.5h0M603.0 255.0h0M569.4 229.5h0M573.4 199.1h0M567.2 243.5h0M567.3 226.9h0M583.7 225.4h0M590.4 153.7h0M581.0 238.8h0M571.0 221.6h0M564.0 245.1h0M586.4 261.3h0M592.4 124.0h0M581.6 251.0h0M566.5 216.6h0M580.0 239.7h0M563.9 256.5h0M585.1 209.4h0M594.5 245.3h0M572.9 183.4h0M575.3 225.7h0M569.4 215.8h0M587.5 187.0h0M578.6 234.4h0M586.5 189.6h0M573.0 238.3h0M582.4 204.5h0M581.6 186.6h0M563.8 252.9h0M604.0 198.0h0M584.0 227.4h0M571.8 243.3h0M569.0 258.2h0M625.8 171.2h0M604.3 165.5h0M577.1 237.7h0M580.8 228.0h0M578.4 237.1h0M575.3 220.7h0M618.8 218.1h0M584.0 180.0h0M591.8 214.5h0M568.5 235.0h0M627.7 191.9h0M573.9 259.8h0M566.8 253.9h0M564.2 254.8h0M566.1 249.1h0M573.9 232.1h0M570.1 250.9h0M567.4 222.5h0M575.6 240.0h0M568.0 235.4h0M578.8 245.5h0M571.2 199.1h0M571.3 231.7h0M567.2 258.7h0M565.3 235.5h0M578.5 218.7h0M567.8 238.5h0M567.7 233.7h0M582.1 216.6h0M566.1 236.6h0M581.9 236.6h0M574.7 235.6h0M647.3 167.7h0M575.2 250.4h0M575.3 200.2h0M577.3 237.2h0M596.3 192.9h0M566.4 256.9h0M599.7 257.7h0M571.2 251.6h0M570.2 227.2h0M569.7 231.3h0M571.5 244.7h0M573.5 256.2h0M573.6 247.5h0M581.4 221.6h0M572.7 254.2h0M563.6 249.7h0M600.8 188.5h0M617.2 248.4h0M567.0 229.4h0M568.5 252.4h0M577.5 227.4h0M592.7 230.7h0" stroke="#ffa500" stroke-opacity="0.6" stroke-width="3.0" stroke-linecap="round" fill="none"/>
<path d="M576.3 217.8h0M594.4 196.3h0M571.6 220.8h0M578.1 249.6h0M580.3 224.9h0M581.9 221.5h0M577.2 189.5h0M590.0 187.0h0M593.4 248.5h0M563.0 242.9h0M577.3 251.1h0M575.2 249.3h0M583.9 253.5h0M575.9 249.5h0M578.1 255.8h0M563.4 240.3h0M587.3 208.4h0M566.6 242.3h0M571.5 225.2h0M569.8 259.9h0M563.7 251.1h0M570.3 255.6h0M577.1 208.3h0M578.5 227.9h0M581.4 259.2h0M567.7 240.2h0M568.1 218.7h0M569.7 235.7h0M587.0 239.7h0M572.9 253.6h0M575.0 205.7h0M564.1 250.0h0M574.9 235.1h0M578.0 208.3h0M599.1 153.7h0M573.1 206.7h0M567.4 247.3h0M569.9 225.0h0M571.2 212.6h0M600.1 260.6h0M571.8 223.1h0M579.4 257.0h0M597.0 248.2h0M576.2 206.3h0M570.6 213.6h0M573.2 257.4h0M563.5 255.4h0M574.6 209.2h0M573.8 211.0h0M562.6 259.1h0M578.7 246.3h0M584.9 256.9h0M563.3 253.1h0M602.3 185.4h0M577.3 224.7h0M569.9 260.2h0M579.4 235.0h0M567.7 257.9h0M578.6 220.6h0M576.1 257.5h0M576.2 173.6h0M582.9 245.2h0M580.3 204.4h0M578.0 232.9h0M574.2 209.8h0M566.5 252.7h0M572.8 225.9h0M576.3 202.6h0M577.5 188.9h0M568.3 199.8h0M577.9 190.1h0M570.0 254.5h0M565.3 246.7h0M564.2 250.1h0M576.8 251.2h0M583.2 211.2h0M564.5 237.7h0M569.0 239.6h0M569.9 208.5h0M571.8 199.1h0M586.7 253.8h0M575.8 212.3h0M566.0 241.3h0M568.4 221.5h0M612.2 148.3h0M627.4 142.0h0M571.3 246.1h0M575.3 256.3h0M646.2 166.5h0M577.7 199.5h0M563.9 234.8h0M566.7 247.2h0M564.4 249.8h0M567.6 218.9h0M570.0 202.6h0M635.6 187.5h0M582.0 259.1h0M565.9 227.0h0M575.8 224.1h0M586.0 224.8h0M575.6 192.5h0M566.5 258.4h0M571.1 251.6h0M568.1 229.9h0M578.0 207.5h0M601.5 248.4h0M568.8 236.2h0M565.7 256.5h0M572.4 249.4h0M579.7 246.5h0M577.9 200.9h0M584.7 245.0h0M564.0 256.9h0M599.6 215.8h0M590.7 247.3h0M564.2 249.6h0M570.5 193.7h0M564.3 258.8h0M574.1 246.3h0M566.0 244.4h0M628.1 193.4h0M574.9 248.1h0M566.1 242.7h0M567.1 253.7h0M578.3 251.5h0M571.2 239.2h0M596.8 219.1h0M572.1 256.9h0M565.2 243.8h0M576.9 221.2h0M570.6 206.4h0M569.9 250.4h0M587.1 253.4h0M583.0 212.7h0M567.7 243.4h0M583.7 199.7h0M578.8 203.5h0M579.1 236.4h0M568.8 250.0h0M575.0 201.1h0M567.5 245.0h0M563.9 252.3h0M563.0 259.1h0M590.6 200.8h0M564.4 247.7h0M611.2 124.0h0M589.8 238.9h0M593.3 225.2h0M570.4 257.0h0M570.8 250.3h0M570.8 230.8h0M580.5 221.7h0M564.3 252.4h0M563.2 255.2h0M587.4 256.6h0M574.8 254.7h0M588.6 227.7h0M575.1 244.4h0M602.0 252.0h0M575.5 258.1h0M601.7 148.3h0M571.4 184.5h0M590.7 196.1h0M584.3 218.7h0M569.8 219.2h0M576.7 243.7h0M570.2 224.1h0M566.6 259.9h0M572.8 254.2h0M578.4 259.8h0M583.5 240.8h0M581.0 179.6h0M594.7 245.9h0M572.1 254.4h0M584.2 212.3h0" stroke="#ffa500" stroke-opacity="0.6" stroke-width="3.0" stroke-linecap="round" fill="none"/>
<path d="M580.8 238.3h0M576.3 228.4h0M574.5 241.1h0M568.7 257.2h0M576.3 249.6h0M570.8 225.5h0M566.1 208.0h0M579.9 238.1h0M564.2 258.6h0M568.9 233.2h0M574.1 253.2h0M567.2 259.8h0M575.7 251.8h0M595.8 219.3h0M580.1 204.7h0M580.0 220.1h0M576.8 238.7h0M574.7 249.4h0M572.7 244.2h0M580.7 203.5h0M580.2 255.4h0M572.3 231.7h0M581.1 235.0h0M584.4 209.2h0M573.3 218.9h0M571.5 224.7h0M576.3 251.4h0M571.0 253.2h0M588.6 201.3h0M584.1 242.2h0M565.2 237.6h0M565.3 253.7h0M589.4 237.3h0M572.6 254.8h0M572.1 227.7h0M573.8 211.6h0M568.2 209.7h0M572.0 258.7h0M578.7 246.9h0M574.9 211.8h0M566.0 248.1h0M573.3 260.4h0M607.3 238.5h0M573.7 227.8h0M590.5 209.4h0M574.7 237.9h0M578.5 231.3h0M570.2 251.8h0M565.2 254.0h0M576.2 200.5h0M566.3 238.7h0M582.8 250.1h0M621.6 160.5h0M571.3 253.3h0M576.1 247.5h0M570.2 244.8h0M580.3 240.7h0M592.2 224.3h0M580.0 250.2h0M611.9 258.9h0M569.7 226.9h0M584.6 220.1h0M573.0 194.2h0M572.8 228.2h0M568.8 248.9h0M587.3 254.8h0M575.4 221.3h0M575.1 235.6h0M585.6 194.2h0M565.7 210.3h0M567.7 259.8h0M576.4 224.5h0M578.1 222.7h0M582.9 223.8h0M569.9 234.5h0M579.3 236.2h0M586.6 182.2h0M605.3 183.8h0M568.4 240.0h0M569.9 234.1h0M570.2 235.8h0M580.7 261.1h0M584.1 246.8h0M566.0 242.2h0M573.5 236.3h0M577.7 194.1h0M576.4 214.8h0M583.9 175.3h0M623.9 124.0h0M587.2 233.9h0M567.4 228.2h0M568.4 253.8h0M593.8 163.6h0M571.1 250.9h0M568.2 212.2h0M569.4 196.9h0M584.8 203.6h0M572.7 218.4h0M624.3 213.7h0M565.0 233.5h0M565.9 253.2h0M577.8 226.0h0M574.8 197.4h0M581.9 256.3h0M562.9 255.1h0M578.5 247.7h0M567.6 222.9h0M575.9 204.0h0M569.0 235.9h0M573.2 247.9h0M585.7 256.0h0M571.7 242.2h0M573.5 250.8h0M611.5 235.1h0M580.5 259.1h0M583.0 259.2h0M610.9 251.4h0M566.9 260.5h0M574.0 243.2h0M570.5 244.3h0M574.5 221.7h0M575.3 257.7h0M592.6 176.4h0M564.9 254.2h0M566.9 258.6h0M604.9 254.9h0M571.3 202.0h0M587.0 201.9h0M568.7 245.6h0M584.7 224.5h0M565.9 246.6h0M567.4 221.8h0M601.5 168.9h0M569.7 233.9h0M570.1 249.8h0M565.0 260.7h0M571.4 196.4h0M589.7 260.4h0M581.4 251.6h0M573.9 228.2h0M565.2 233.5h0M564.0 253.1h0M570.3 256.0h0M573.6 227.1h0M577.4 256.6h0M582.6 202.4h0M571.7 206.3h0M562.6 258.4h0M564.1 252.2h0M568.7 255.5h0M572.3 216.3h0M588.7 205.5h0M565.8 229.1h0M570.1 254.2h0M577.6 244.0h0M565.0 246.6h0M590.4 177.2h0M571.0 237.3h0M573.2 256.3h0M568.9 261.2h0M573.2 247.2h0M574.9 198.5h0M583.0 239.1h0M574.5 255.8h0M598.0 205.6h0M568.9 251.3h0M588.7 258.1h0M607.6 162.2h0M577.5 245.2h0M576.3 176.3h0M579.6 239.9h0M578.4 254.9h0M569.1 252.2h0M568.8 257.1h0M570.3 254.8h0" stroke="#ffa500" stroke-opacity="0.6" stroke-width="3.0" stroke-linecap="round" fill="none"/>
<path d="M584.1 249.4h0M612.2 148.6h0M566.7 246.3h0M570.7 256.4h0M567.5 213.4h0M563.0 254.9h0M570.4 253.8h0M586.7 233.4h0M597.0 217.0h0M565.4 254.5h0M586.3 244.8h0M568.9 236.2h0M569.5 252.8h0M584.9 256.5h0M563.5 258.5h0M571.0 194.4h0M562.8 251.4h0M573.6 205.6h0M570.3 202.5h0M579.0 252.7h0M567.9 218.8h0M597.0 198.2h0M571.4 218.3h0M563.5 260.7h0M572.2 241.0h0M566.8 242.8h0M570.1 215.2h0M573.3 246.5h0M601.3 123.6h0M579.8 222.1h0M575.2 249.4h0M567.1 221.1h0M579.2 183.5h0M571.2 229.1h0M563.8 248.7h0M568.7 220.7h0M567.1 257.2h0M599.1 191.0h0M595.1 226.3h0M568.0 255.0h0M566.4 256.0h0M578.3 168.8h0M626.0 171.1h0M569.4 225.2h0M570.8 231.9h0M572.0 256.5h0M571.7 219.7h0M570.2 246.5h0M572.5 241.6h0M566.0 249.1h0M566.9 246.4h0M582.9 253.5h0M570.0 258.9h0M586.7 255.3h0M573.5 251.2h0M568.3 258.0h0M584.0 196.4h0M592.3 181.4h0M570.9 259.6h0M571.0 233.9h0M568.1 241.6h0M563.1 250.9h0M597.8 209.4h0M582.7 259.6h0M569.8 220.9h0M582.0 251.8h0M564.7 241.0h0M591.3 177.9h0M563.5 259.0h0M586.4 253.6h0M568.7 208.6h0M564.4 230.1h0M618.0 205.0h0M564.7 256.9h0M574.8 244.5h0M575.8 206.8h0M572.0 225.1h0M566.4 240.0h0M568.9 259.9h0M571.7 210.3h0M567.8 233.4h0M570.9 249.9h0M579.9 213.1h0M579.1 203.7h0M565.7 248.2h0M577.3 238.3h0M572.6 243.4h0M574.3 219.5h0M573.3 219.1h0M565.6 250.1h0M579.6 246.7h0M565.6 260.4h0M567.9 213.6h0M569.4 234.9h0M579.1 196.9h0M570.0 213.8h0M581.2 216.8h0M573.2 219.4h0M567.6 226.3h0M571.7 233.8h0M576.9 260.6h0M565.5 260.6h0M571.2 210.4h0M593.4 210.0h0M584.6 221.2h0M569.6 259.4h0M576.6 176.3h0M581.7 236.1h0M565.5 249.9h0M574.1 229.8h0M578.4 254.2h0M579.7 247.8h0M596.2 204.7h0M579.8 175.8h0M571.6 196.2h0M602.8 216.3h0M588.0 203.3h0M570.8 228.5h0M576.4 208.3h0M565.6 257.0h0M588.3 253.8h0M572.3 223.9h0M600.4 221.9h0M573.1 240.0h0M575.9 218.5h0M565.3 230.9h0M566.8 201.4h0M576.4 212.0h0M612.6 90.3h0M581.1 202.4h0M577.9 186.4h0M584.6 175.6h0M569.2 251.5h0M571.0 220.8h0M621.9 160.2h0M579.8 258.4h0M580.6 212.0h0M563.8 255.2h0M580.7 191.1h0M564.9 245.4h0M571.5 225.8h0M576.4 235.3h0M585.6 175.2h0M585.1 192.7h0M577.9 260.8h0M589.8 258.0h0M581.2 210.3h0M566.7 259.8h0M612.4 215.3h0M593.3 242.6h0M595.5 260.4h0M582.8 240.6h0M562.8 258.6h0M580.4 249.5h0M568.2 235.9h0M572.0 212.1h0M568.5 241.1h0M592.6 220.6h0M563.1 258.1h0M563.3 241.8h0M564.0 236.7h0M572.9 201.3h0M572.8 231.5h0M599.2 204.5h0M585.3 230.3h0M572.3 192.8h0M579.5 166.3h0M581.9 223.1h0M578.2 251.6h0M565.3 224.5h0M571.9 258.6h0M587.1 220.2h0M616.4 243.0h0M565.3 243.6h0M576.8 215.0h0" stroke="#ffa500" stroke-opacity="0.6" stroke-width="3.0" stroke-linecap="round" fill="none"/>
<path d="M574.1 239.3h0M574.4 250.9h0M565.4 247.3h0M578.9 243.5h0M573.8 252.1h0M565.7 251.0h0M576.0 236.5h0M577.8 208.2h0M585.5 182.2h0M580.7 259.2h0M592.4 234.8h0M566.7 208.7h0M577.8 218.3h0M575.7 200.5h0M562.4 255.0h0M568.2 233.2h0M567.3 257.7h0M585.9 224.6h0M580.1 258.1h0M574.6 234.1h0M583.6 203.2h0M567.2 251.9h0M573.7 252.0h0M589.8 232.5h0M566.6 249.2h0M572.1 251.4h0M570.1 224.9h0M573.2 198.0h0M570.2 208.1h0M595.0 199.9h0M565.0 247.1h0M565.8 231.5h0M578.9 260.0h0M566.6 240.4h0M569.0 227.4h0M571.8 240.9h0M577.0 198.0h0M569.1 246.0h0M571.6 203.0h0M578.2 245.2h0M596.1 238.0h0M571.2 250.1h0M589.0 222.7h0M571.9 254.6h0M594.5 167.2h0M568.5 222.6h0M573.2 252.7h0M574.3 214.7h0M582.2 187.0h0M562.6 255.8h0M580.0 249.2h0M568.1 238.3h0M568.0 261.1h0M567.1 226.1h0M582.1 174.9h0M570.5 243.6h0M594.0 194.3h0M565.3 254.3h0M565.1 244.4h0M564.2 243.8h0M567.6 250.8h0M578.4 197.2h0M586.2 254.1h0M582.8 238.1h0M584.7 197.4h0M573.5 239.4h0M580.4 199.1h0M588.0 210.1h0M577.8 256.9h0M573.5 244.7h0M584.4 188.0h0M564.9 236.0h0M567.5 260.0h0M570.6 255.2h0M578.5 217.8h0M570.2 204.1h0M566.1 261.2h0M568.0 227.3h0M594.1 226.3h0M564.8 248.0h0M569.2 237.1h0M595.8 254.0h0M580.8 246.0h0M567.5 232.6h0M568.3 234.8h0M571.5 188.4h0M568.2 213.0h0M586.6 248.5h0M596.8 231.0h0M583.4 227.6h0M574.6 222.4h0M574.9 227.9h0M564.7 253.9h0M568.7 253.9h0M565.3 258.9h0M568.5 240.0h0M569.0 234.7h0M586.6 192.4h0M564.1 259.7h0M583.5 168.1h0M586.1 201.6h0M568.3 197.7h0M568.2 239.6h0M576.8 232.9h0M581.2 224.0h0M572.8 216.1h0M568.5 247.8h0M572.4 222.3h0M580.0 192.3h0M568.8 202.2h0M567.5 253.9h0M580.8 255.7h0M591.8 159.8h0M579.8 211.4h0M570.5 247.5h0M566.0 226.0h0M564.5 243.5h0M567.5 243.7h0M586.3 204.7h0M580.6 201.6h0M566.8 229.7h0M576.0 217.7h0M570.6 197.7h0M575.1 243.1h0M578.8 198.7h0M578.4 230.9h0M584.3 197.8h0M570.3 234.6h0M573.5 255.0h0M565.9 242.1h0M577.9 199.1h0M569.6 220.3h0M563.7 244.0h0M573.5 205.9h0M594.7 179.9h0M577.8 247.0h0M606.6 160.2h0M566.5 251.7h0M576.7 245.1h0M573.4 253.6h0M582.0 218.9h0M579.7 211.7h0M577.0 247.3h0M568.1 233.8h0M594.9 224.1h0M596.7 212.7h0M574.5 216.1h0M568.6 217.0h0M595.3 257.0h0M567.8 231.8h0M569.9 248.1h0M572.3 198.8h0M579.8 254.5h0M568.8 240.2h0M566.1 255.5h0M573.4 233.1h0M579.1 253.2h0M573.7 232.1h0M566.6 208.2h0M583.4 204.4h0M593.5 259.7h0M576.8 239.0h0M574.8 199.1h0M624.7 231.2h0M596.4 232.9h0M562.9 259.0h0M595.3 213.2h0M573.5 213.7h0M568.4 225.3h0M568.8 210.1h0M571.3 223.0h0M575.7 254.7h0M595.7 237.5h0M648.1 211.7h0M572.4 205.4h0" stroke="#ffa500" stroke-opacity="0.6" stroke-width="3.0" stroke-linecap="round" fill="none"/>
<path d="M592.9 257.9h0M573.2 216.1h0M566.7 250.3h0M570.5 259.5h0M569.3 214.1h0M570.4 256.4h0M570.0 253.9h0M566.8 245.2h0M585.8 225.3h0M570.4 236.0h0M578.0 200.4h0M566.1 258.3h0M587.1 243.9h0M575.8 261.1h0M567.4 245.1h0M569.5 234.3h0M565.1 250.1h0M577.9 225.2h0M577.6 232.4h0M567.9 230.5h0M566.9 209.6h0M581.2 211.8h0M595.5 233.3h0M572.3 217.5h0M585.3 234.7h0M595.3 257.3h0M565.5 240.1h0M597.4 218.0h0M572.0 259.7h0M586.5 203.4h0M574.2 183.8h0M582.4 240.2h0M572.6 246.4h0M581.1 221.0h0M570.2 195.2h0M567.6 218.1h0M579.9 257.6h0M566.0 241.3h0M585.4 204.5h0M565.3 237.4h0M569.7 230.8h0M570.9 232.5h0M582.0 246.5h0M574.2 230.0h0M567.7 258.9h0M573.9 234.3h0M568.2 204.8h0M575.6 238.4h0M565.2 231.6h0M563.9 243.1h0M574.3 194.6h0M564.0 246.9h0M582.1 243.6h0M581.6 257.5h0M580.8 256.3h0M588.3 197.9h0M571.5 240.2h0M573.2 240.4h0M572.1 260.6h0M573.3 193.4h0M577.4 204.9h0M568.6 255.6h0M572.3 228.7h0M587.9 253.7h0M598.0 197.0h0M603.8 168.2h0M564.9 257.8h0M591.2 228.5h0M566.1 260.4h0M569.3 258.2h0M562.9 249.5h0M576.6 208.5h0M570.5 248.3h0M571.6 208.6h0M564.5 252.1h0M569.1 226.9h0M567.7 219.5h0M584.9 223.9h0M569.4 253.0h0M576.2 234.7h0M570.7 200.4h0M577.3 222.3h0M566.2 207.1h0M573.3 219.3h0M588.8 222.6h0M576.2 217.5h0M569.2 222.3h0M576.1 240.5h0M576.0 218.4h0M574.4 229.3h0M650.5 233.5h0M570.4 243.3h0M596.0 217.0h0M572.8 236.5h0M572.2 247.8h0M569.2 260.6h0M566.1 256.8h0M585.6 247.6h0M580.5 236.8h0M577.9 242.0h0M568.4 220.4h0M622.8 222.0h0M567.6 258.0h0M574.0 243.5h0M600.8 221.9h0M571.9 237.8h0M579.4 253.4h0M577.4 235.9h0M564.3 253.3h0M580.9 261.2h0M563.9 246.0h0M568.8 242.3h0M564.3 237.9h0M575.5 258.5h0M576.7 244.8h0M569.9 255.8h0M604.0 243.0h0M563.9 260.8h0M594.8 232.5h0M575.4 199.8h0M570.3 220.2h0M563.0 243.8h0M576.5 235.5h0M563.6 260.2h0M592.6 199.6h0M574.0 248.4h0M605.7 234.3h0M573.0 215.2h0M572.3 252.0h0M579.5 190.0h0M565.4 229.5h0M567.9 251.5h0M567.6 216.6h0M589.5 173.9h0M567.7 225.2h0M569.9 259.8h0M566.3 242.5h0M575.6 228.3h0M573.7 257.9h0M570.2 246.3h0M622.8 255.7h0M599.8 230.6h0M590.6 199.5h0M574.0 248.7h0M585.9 166.2h0M579.0 241.1h0M570.9 216.7h0M592.2 195.6h0M573.5 260.7h0M590.0 241.5h0M587.4 231.0h0M578.2 178.2h0M563.0 260.2h0M569.8 242.8h0M567.8 238.1h0M565.1 251.8h0M577.5 249.8h0M576.2 258.8h0M575.7 252.7h0M572.6 243.0h0M586.5 255.6h0M567.2 259.7h0M574.1 190.3h0M564.6 257.7h0M576.2 255.1h0M565.0 248.3h0M570.3 237.2h0M568.1 247.3h0M588.0 225.7h0M566.0 247.3h0M573.8 205.2h0M591.8 235.9h0M582.9 250.6h0M579.8 257.6h0M566.6 247.5h0" stroke="#ffa500" stroke-opacity="0.6" stroke-width="3.0" stroke-linecap="round" fill="none"/>
<line x1="356.5" y1="261.35" x2="685" y2="261.35" stroke="#ff0000" stroke-width="0.9" stroke-dasharray="3.1 2.8"/>
<path d="M356.5 51.5V310.5H685" fill="none" stroke="#111" stroke-width="1.0"/>
<path d="M354.3 298.40H356.5M354.3 241.44H356.5M354.3 184.48H356.5M354.3 127.52H356.5M354.3 70.56H356.5M371.70 310.5V312.4M460.40 310.5V312.4M549.10 310.5V312.4M637.80 310.5V312.4" stroke="#333" stroke-width="0.8" fill="none"/>
<text x="353.30" y="300.60" font-size="6.2" text-anchor="end" fill="#4d4d4d" stroke="#4d4d4d" stroke-width="0.06">0</text>
<text x="353.30" y="243.64" font-size="6.2" text-anchor="end" fill="#4d4d4d" stroke="#4d4d4d" stroke-width="0.06">2</text>
<text x="353.30" y="186.68" font-size="6.2" text-anchor="end" fill="#4d4d4d" stroke="#4d4d4d" stroke-width="0.06">4</text>
<text x="353.30" y="129.72" font-size="6.2" text-anchor="end" fill="#4d4d4d" stroke="#4d4d4d" stroke-width="0.06">6</text>
<text x="353.30" y="72.76" font-size="6.2" text-anchor="end" fill="#4d4d4d" stroke="#4d4d4d" stroke-width="0.06">8</text>
<text x="371.70" y="318.20" font-size="6.2" text-anchor="middle" fill="#4d4d4d" stroke="#4d4d4d" stroke-width="0.06">−2</text>
<text x="460.40" y="318.20" font-size="6.2" text-anchor="middle" fill="#4d4d4d" stroke="#4d4d4d" stroke-width="0.06">−1</text>
<text x="549.10" y="318.20" font-size="6.2" text-anchor="middle" fill="#4d4d4d" stroke="#4d4d4d" stroke-width="0.06">0</text>
<text x="637.80" y="318.20" font-size="6.2" text-anchor="middle" fill="#4d4d4d" stroke="#4d4d4d" stroke-width="0.06">1</text>
<text x="520.60" y="326.90" font-size="7.7" text-anchor="middle" fill="#000" stroke="#000" stroke-width="0.12">log2 fold change</text>
<text x="346.20" y="180.30" font-size="7.6" text-anchor="middle" fill="#000" stroke="#000" stroke-width="0.12" transform="rotate(-90 346.20 180.30)">−log10 adj. p−value</text>
<path d="M520.6 44.3H426.6M431.7 40.3L426.6 44.3L431.7 48.3" fill="none" stroke="#0000ff" stroke-width="1.4" stroke-linecap="round" stroke-linejoin="round"/>
<path d="M554.4 44.3H648.4M643.3 40.3L648.4 44.3L643.3 48.3" fill="none" stroke="#ffa500" stroke-width="1.4" stroke-linecap="round" stroke-linejoin="round"/>
<text x="473.60" y="40.80" font-size="9.45" text-anchor="middle" fill="#000" stroke="#000" stroke-width="0.08">ECM</text>
<text x="601.40" y="40.80" font-size="9.45" text-anchor="middle" fill="#000" stroke="#000" stroke-width="0.08">Proliferation</text>
<text x="375.00" y="87.80" font-size="6.1" fill="#000" stroke="#000" stroke-width="0.06">COL14A1</text>
<text x="407.30" y="83.10" font-size="6.1" fill="#000" stroke="#000" stroke-width="0.06">COL3A1</text>
<text x="417.80" y="92.40" font-size="6.1" fill="#000" stroke="#000" stroke-width="0.06">LUM</text>
<text x="399.70" y="97.40" font-size="6.1" fill="#000" stroke="#000" stroke-width="0.06">DPT</text>
<text x="377.90" y="104.20" font-size="6.1" fill="#000" stroke="#000" stroke-width="0.06">OGN</text>
<text x="361.40" y="114.10" font-size="6.1" fill="#000" stroke="#000" stroke-width="0.06">PRELP</text>
<text x="386.60" y="114.10" font-size="6.1" fill="#000" stroke="#000" stroke-width="0.06">DCN</text>
<text x="379.60" y="123.70" font-size="6.1" fill="#000" stroke="#000" stroke-width="0.06">ASPN</text>
<text x="404.70" y="125.50" font-size="6.1" fill="#000" stroke="#000" stroke-width="0.06">SOD3</text>
<text x="409.50" y="137.60" font-size="6.1" fill="#000" stroke="#000" stroke-width="0.06">MFAP5</text>
<text x="399.60" y="155.00" font-size="6.1" fill="#000" stroke="#000" stroke-width="0.06">FBLN5</text>
<text x="393.90" y="169.30" font-size="6.1" fill="#000" stroke="#000" stroke-width="0.06">INHBE</text>
<text x="376.80" y="174.20" font-size="6.1" fill="#000" stroke="#000" stroke-width="0.06">ELN</text>
<text x="411.50" y="178.90" font-size="6.1" fill="#000" stroke="#000" stroke-width="0.06">ADH1B</text>
<text x="409.00" y="188.30" font-size="6.1" fill="#000" stroke="#000" stroke-width="0.06">LAMC3</text>
<text x="659.20" y="97.00" font-size="6.1" fill="#000" stroke="#000" stroke-width="0.06">KPNA2</text>
<text x="636.20" y="106.90" font-size="6.1" fill="#000" stroke="#000" stroke-width="0.06">SMC2</text>
<text x="642.80" y="143.50" font-size="6.1" fill="#000" stroke="#000" stroke-width="0.06">NCAPD2</text>
<text x="624.40" y="152.40" font-size="6.1" fill="#000" stroke="#000" stroke-width="0.06">NCAPG</text>
<text x="642.40" y="162.50" font-size="6.1" fill="#000" stroke="#000" stroke-width="0.06">TRIP13</text>
<text x="630.00" y="171.90" font-size="6.1" fill="#000" stroke="#000" stroke-width="0.06">NPM3</text>
<text x="654.10" y="171.90" font-size="6.1" fill="#000" stroke="#000" stroke-width="0.06">TOP2A</text>
<text x="615.70" y="181.30" font-size="6.1" fill="#000" stroke="#000" stroke-width="0.06">MCM4</text>
<text x="638.80" y="184.80" font-size="6.1" fill="#000" stroke="#000" stroke-width="0.06">ASNS</text>
<text x="591.70" y="191.00" font-size="6.1" fill="#000" stroke="#000" stroke-width="0.06">MCM6</text>
<text x="615.00" y="190.90" font-size="6.1" fill="#000" stroke="#000" stroke-width="0.06">MCM7</text>
<text x="636.90" y="199.90" font-size="6.1" fill="#000" stroke="#000" stroke-width="0.06">CDK1</text>
<text x="660.00" y="198.90" font-size="6.1" fill="#000" stroke="#000" stroke-width="0.06">SLC2A1</text>
<text x="613.90" y="203.80" font-size="6.1" fill="#000" stroke="#000" stroke-width="0.06">MCM2</text>
<text x="651.00" y="213.80" font-size="6.1" fill="#000" stroke="#000" stroke-width="0.06">PYCR1</text>
<path d="M260.6 368.55H347.30M260.6 380.65H345.30M260.6 392.75H343.30M260.6 404.85H338.30M260.6 416.95H337.90M260.6 429.05H335.40M260.6 441.15H334.90M260.6 453.25H334.40M260.6 465.35H182.30M260.6 477.45H182.30M260.6 489.55H182.30M260.6 501.65H181.60M260.6 513.75H174.80M260.6 525.85H160.80M260.6 537.95H160.40M260.6 550.05H160.40" stroke="#d6d6d6" stroke-width="0.8" fill="none"/>
<line x1="260.5" y1="361.5" x2="260.5" y2="557.5" stroke="#333" stroke-width="0.9"/>
<path d="M151.5 360.8V557.5H356.5" fill="none" stroke="#111" stroke-width="1.0"/>
<path d="M148.6 368.55H151.5M148.6 380.65H151.5M148.6 392.75H151.5M148.6 404.85H151.5M148.6 416.95H151.5M148.6 429.05H151.5M148.6 441.15H151.5M148.6 453.25H151.5M148.6 465.35H151.5M148.6 477.45H151.5M148.6 489.55H151.5M148.6 501.65H151.5M148.6 513.75H151.5M148.6 525.85H151.5M148.6 537.95H151.5M148.6 550.05H151.5M158.92 557.5V559.9M209.76 557.5V559.9M260.60 557.5V559.9M311.44 557.5V559.9" stroke="#333" stroke-width="0.8" fill="none"/>
<text x="147.60" y="370.95" font-size="6.75" text-anchor="end" fill="#333" stroke="#333" stroke-width="0.06">rRNA processing</text>
<text x="147.60" y="383.05" font-size="6.75" text-anchor="end" fill="#333" stroke="#333" stroke-width="0.06">ribosome biogenesis</text>
<text x="147.60" y="395.15" font-size="6.75" text-anchor="end" fill="#333" stroke="#333" stroke-width="0.06">rRNA metabolic process</text>
<text x="147.60" y="407.25" font-size="6.75" text-anchor="end" fill="#333" stroke="#333" stroke-width="0.06">ncRNA processing</text>
<text x="147.60" y="419.35" font-size="6.75" text-anchor="end" fill="#333" stroke="#333" stroke-width="0.06">ribonucleoprotein complex biogenesis</text>
<text x="147.60" y="431.45" font-size="6.75" text-anchor="end" fill="#333" stroke="#333" stroke-width="0.06">ncRNA metabolic process</text>
<text x="147.60" y="443.55" font-size="6.75" text-anchor="end" fill="#333" stroke="#333" stroke-width="0.06">cytoplasmic translation</text>
<text x="147.60" y="455.65" font-size="6.75" text-anchor="end" fill="#333" stroke="#333" stroke-width="0.06">DNA replication</text>
<text x="147.60" y="465.15" font-size="6.75" text-anchor="end" fill="#333" stroke="#333" stroke-width="0.06">transforming growth factor beta receptor signaling</text>
<text x="147.60" y="470.55" font-size="6.75" text-anchor="end" fill="#333" stroke="#333" stroke-width="0.06">pathway</text>
<text x="147.60" y="479.85" font-size="6.75" text-anchor="end" fill="#333" stroke="#333" stroke-width="0.06">response to transforming growth factor beta</text>
<text x="147.60" y="491.95" font-size="6.75" text-anchor="end" fill="#333" stroke="#333" stroke-width="0.06">coagulation</text>
<text x="147.60" y="504.05" font-size="6.75" text-anchor="end" fill="#333" stroke="#333" stroke-width="0.06">blood coagulation</text>
<text x="147.60" y="516.15" font-size="6.75" text-anchor="end" fill="#333" stroke="#333" stroke-width="0.06">humoral immune response</text>
<text x="147.60" y="528.25" font-size="6.75" text-anchor="end" fill="#333" stroke="#333" stroke-width="0.06">external encapsulating structure organization</text>
<text x="147.60" y="540.35" font-size="6.75" text-anchor="end" fill="#333" stroke="#333" stroke-width="0.06">extracellular structure organization</text>
<text x="147.60" y="552.45" font-size="6.75" text-anchor="end" fill="#333" stroke="#333" stroke-width="0.06">extracellular matrix organization</text>
<text x="158.92" y="566.00" font-size="6.5" text-anchor="middle" fill="#4d4d4d" stroke="#4d4d4d" stroke-width="0.06">−0.8</text>
<text x="209.76" y="566.00" font-size="6.5" text-anchor="middle" fill="#4d4d4d" stroke="#4d4d4d" stroke-width="0.06">−0.4</text>
<text x="260.60" y="566.00" font-size="6.5" text-anchor="middle" fill="#4d4d4d" stroke="#4d4d4d" stroke-width="0.06">0.0</text>
<text x="311.44" y="566.00" font-size="6.5" text-anchor="middle" fill="#4d4d4d" stroke="#4d4d4d" stroke-width="0.06">0.4</text>
<text x="254.20" y="575.90" font-size="8.15" text-anchor="middle" fill="#000" stroke="#000" stroke-width="0.12">enrichment score</text>
<circle cx="347.30" cy="368.55" r="3.65" fill="#ff0000"/>
<circle cx="345.30" cy="380.65" r="4.4" fill="#ff0000"/>
<circle cx="343.30" cy="392.75" r="3.9" fill="#ff0000"/>
<circle cx="338.30" cy="404.85" r="4.8" fill="#ff0000"/>
<circle cx="337.90" cy="416.95" r="5.0" fill="#ff0000"/>
<circle cx="335.40" cy="429.05" r="5.45" fill="#ff0000"/>
<circle cx="334.90" cy="441.15" r="3.0" fill="#ff0000"/>
<circle cx="334.40" cy="453.25" r="2.9" fill="#ff0000"/>
<circle cx="182.30" cy="465.35" r="1.45" fill="#1a00ff"/>
<circle cx="182.30" cy="477.45" r="2.6" fill="#ff0000"/>
<circle cx="182.30" cy="489.55" r="2.85" fill="#ff0000"/>
<circle cx="181.60" cy="501.65" r="2.75" fill="#ff0000"/>
<circle cx="174.80" cy="513.75" r="1.7" fill="#ff0000"/>
<circle cx="160.80" cy="525.85" r="3.0" fill="#ff0000"/>
<circle cx="160.40" cy="537.95" r="3.0" fill="#ff0000"/>
<circle cx="160.40" cy="550.05" r="3.0" fill="#ff0000"/>
<path d="M259.0 594.3H165.6M170.5 590.2L165.6 594.3L170.5 598.4" fill="none" stroke="#0000ff" stroke-width="1.45" stroke-linecap="round" stroke-linejoin="round"/>
<path d="M264.2 594.3H358.4M353.5 590.2L358.4 594.3L353.5 598.4" fill="none" stroke="#ffa500" stroke-width="1.45" stroke-linecap="round" stroke-linejoin="round"/>
<text x="212.60" y="590.90" font-size="9.75" text-anchor="middle" fill="#000" stroke="#000" stroke-width="0.05">ECM</text>
<text x="311.00" y="590.90" font-size="9.75" text-anchor="middle" fill="#000" stroke="#000" stroke-width="0.05">Proliferation</text>
<text x="368.60" y="395.80" font-size="7.9" fill="#000" stroke="#000" stroke-width="0.12">p.adjust</text>
<defs><linearGradient id="pg" x1="0" y1="0" x2="0" y2="1"><stop offset="0" stop-color="#2a00ff"/><stop offset="0.25" stop-color="#7a00d8"/><stop offset="0.5" stop-color="#b000ad"/><stop offset="0.75" stop-color="#dd0070"/><stop offset="1" stop-color="#ff0010"/></linearGradient></defs>
<rect x="368.4" y="400.8" width="12.6" height="63.4" fill="url(#pg)"/>
<path d="M368.4 416.5h2.5M381 416.5h-2.5M368.4 434.8h2.5M381 434.8h-2.5M368.4 453.3h2.5M381 453.3h-2.5" stroke="#fff" stroke-width="0.6" fill="none"/>
<text x="385.20" y="418.80" font-size="6.4" fill="#4d4d4d" stroke="#4d4d4d" stroke-width="0.06">9e−09</text>
<text x="385.20" y="437.10" font-size="6.4" fill="#4d4d4d" stroke="#4d4d4d" stroke-width="0.06">6e−09</text>
<text x="385.20" y="455.60" font-size="6.4" fill="#4d4d4d" stroke="#4d4d4d" stroke-width="0.06">3e−09</text>
<text x="368.60" y="486.80" font-size="7.9" fill="#000" stroke="#000" stroke-width="0.12">setSize</text>
<line x1="370" y1="497.7" x2="379.6" y2="497.7" stroke="#d6d6d6" stroke-width="0.8"/>
<circle cx="374.8" cy="497.7" r="2.25" fill="#000"/>
<text x="385.60" y="500.00" font-size="6.4" fill="#4d4d4d" stroke="#4d4d4d" stroke-width="0.06">100</text>
<circle cx="374.8" cy="510.2" r="4.0" fill="#000"/>
<text x="385.60" y="512.50" font-size="6.4" fill="#4d4d4d" stroke="#4d4d4d" stroke-width="0.06">200</text>
<circle cx="374.8" cy="522.8" r="4.9" fill="#000"/>
<text x="385.60" y="525.10" font-size="6.4" fill="#4d4d4d" stroke="#4d4d4d" stroke-width="0.06">300</text>
<text x="496.00" y="384.90" font-size="8.1" fill="#000" stroke="#000" stroke-width="0.22">Strata</text>
<path d="M524.8 381.9H531.6M528.2 380.2V383.6" stroke="#0000ff" stroke-width="1.2" fill="none"/>
<text x="532.50" y="384.80" font-size="8.15" fill="#000" stroke="#000" stroke-width="0.22">ECM cluster</text>
<path d="M589.8 381.9H596.6M593.2 380.2V383.6" stroke="#ffa500" stroke-width="1.2" fill="none"/>
<text x="597.60" y="384.60" font-size="8.15" fill="#000" stroke="#000" stroke-width="0.22">proliferation cluster</text>
<path d="M486.5 398.6V523.5H685" fill="none" stroke="#111" stroke-width="1.0"/>
<path d="M484.3 518.10H486.5M484.3 489.55H486.5M484.3 461.00H486.5M484.3 432.45H486.5M484.3 403.90H486.5M495.00 523.5V525.8M539.92 523.5V525.8M584.85 523.5V525.8M629.77 523.5V525.8M674.70 523.5V525.8" stroke="#111" stroke-width="0.9" fill="none"/>
<text x="482.40" y="521.00" font-size="8.2" text-anchor="end" fill="#111" stroke="#111" stroke-width="0.22">0.00</text>
<text x="482.40" y="492.45" font-size="8.2" text-anchor="end" fill="#111" stroke="#111" stroke-width="0.22">0.25</text>
<text x="482.40" y="463.90" font-size="8.2" text-anchor="end" fill="#111" stroke="#111" stroke-width="0.22">0.50</text>
<text x="482.40" y="435.35" font-size="8.2" text-anchor="end" fill="#111" stroke="#111" stroke-width="0.22">0.75</text>
<text x="482.40" y="406.80" font-size="8.2" text-anchor="end" fill="#111" stroke="#111" stroke-width="0.22">1.00</text>
<text x="495.00" y="534.00" font-size="8.2" text-anchor="middle" fill="#111" stroke="#111" stroke-width="0.22">0</text>
<text x="539.92" y="534.00" font-size="8.2" text-anchor="middle" fill="#111" stroke="#111" stroke-width="0.22">500</text>
<text x="584.85" y="534.00" font-size="8.2" text-anchor="middle" fill="#111" stroke="#111" stroke-width="0.22">1000</text>
<text x="629.77" y="534.00" font-size="8.2" text-anchor="middle" fill="#111" stroke="#111" stroke-width="0.22">1500</text>
<text x="674.70" y="534.00" font-size="8.2" text-anchor="middle" fill="#111" stroke="#111" stroke-width="0.22">2000</text>
<text x="585.00" y="544.10" font-size="9.45" text-anchor="middle" fill="#000" stroke="#000" stroke-width="0.22">Days to Recurrence</text>
<text x="443.70" y="457.20" font-size="9.55" text-anchor="middle" fill="#000" stroke="#000" stroke-width="0.22" transform="rotate(-90 443.70 457.20)">Recurrence-free</text>
<text x="455.60" y="457.20" font-size="9.55" text-anchor="middle" fill="#000" stroke="#000" stroke-width="0.22" transform="rotate(-90 455.60 457.20)">survival probability</text>
<text x="628.00" y="429.90" font-size="9.4" text-anchor="middle" fill="#000" stroke="#000" stroke-width="0.06">p = 0.00013</text>
<path d="M515.8 461.0V518.1M572.4 461.0V518.1" stroke="#333" stroke-width="0.9" stroke-dasharray="3.0 2.3" fill="none"/>
<path d="M495.00 404.00H495.00V406.70H502.40V414.30H508.20V417.99H508.57V421.68H508.93V425.37H509.30V429.06H509.67V432.75H510.03V436.44H510.40V440.13H510.77V443.82H511.13V447.51H511.50V451.20H514.10V454.93H514.76V458.67H515.42V462.40H516.08V466.13H516.74V469.87H517.40V473.60H522.60V481.10H531.20V484.50H536.30V488.40H548.20V492.10H550.10V495.80H556.40V499.60H565.80V503.40H584.70V507.30H599.10V511.00H685.00V511.00" stroke="#ffa500" stroke-width="1.5" fill="none"/>
<path d="M495.00 404.00H503.20V406.20H504.40V408.60H505.60V411.00H506.80V413.50H514.80V415.90H515.90V418.30H517.20V419.50H520.10V421.90H521.60V424.30H525.20V425.60H527.30V428.00H527.80V430.40H528.30V433.10H530.80V435.20H532.00V436.60H533.30V438.50H541.50V442.00H542.20V445.50H547.30V448.60H548.20V452.00H560.70V455.70H561.40V459.40H572.50V462.90H580.80V467.00H586.20V471.00H596.30V475.40H612.40V479.80H658.30V486.40H676.80V494.40H685.00V494.40" stroke="#0000ff" stroke-width="1.5" fill="none"/>
<path d="M495.80 402.20V405.80M509.00 411.70V415.30M510.60 411.70V415.30M512.20 411.70V415.30M519.00 417.70V421.30M523.50 422.50V426.10M526.00 423.80V427.40M538.70 436.70V440.30M546.00 443.70V447.30M555.20 450.20V453.80M578.60 461.10V464.70M592.30 469.20V472.80M603.60 473.60V477.20M640.20 478.00V481.60M656.40 478.00V481.60M665.50 484.60V488.20M682.50 492.60V496.20" stroke="#0000ff" stroke-width="1.0" fill="none"/>
<path d="M653.50 509.20V512.80" stroke="#ffa500" stroke-width="1.0" fill="none"/>
<text x="486.60" y="562.00" font-size="10.5" fill="#000" stroke="#000" stroke-width="0.22">Number at risk</text>
<path d="M486.5 568.9V584.5H685" fill="none" stroke="#111" stroke-width="1.0"/>
<path d="M484.3 571.6H486.5M484.3 579.4H486.5M495.00 584.5V586.5M539.92 584.5V586.5M584.85 584.5V586.5M629.77 584.5V586.5M674.70 584.5V586.5" stroke="#111" stroke-width="0.9" fill="none"/>
<text x="481.00" y="574.90" font-size="8.2" text-anchor="end" fill="#111" stroke="#111" stroke-width="0.22">ECM cluster</text>
<text x="481.00" y="582.70" font-size="8.2" text-anchor="end" fill="#111" stroke="#111" stroke-width="0.22">proliferation cluster</text>
<text x="495.00" y="574.90" font-size="8.2" text-anchor="middle" fill="#111" stroke="#111" stroke-width="0.22">48</text>
<text x="495.00" y="582.70" font-size="8.2" text-anchor="middle" fill="#111" stroke="#111" stroke-width="0.22">32</text>
<text x="539.92" y="574.90" font-size="8.2" text-anchor="middle" fill="#111" stroke="#111" stroke-width="0.22">25</text>
<text x="539.92" y="582.70" font-size="8.2" text-anchor="middle" fill="#111" stroke="#111" stroke-width="0.22">8</text>
<text x="584.85" y="574.90" font-size="8.2" text-anchor="middle" fill="#111" stroke="#111" stroke-width="0.22">13</text>
<text x="584.85" y="582.70" font-size="8.2" text-anchor="middle" fill="#111" stroke="#111" stroke-width="0.22">3</text>
<text x="629.77" y="574.90" font-size="8.2" text-anchor="middle" fill="#111" stroke="#111" stroke-width="0.22">8</text>
<text x="629.77" y="582.70" font-size="8.2" text-anchor="middle" fill="#111" stroke="#111" stroke-width="0.22">2</text>
<text x="674.70" y="574.90" font-size="8.2" text-anchor="middle" fill="#111" stroke="#111" stroke-width="0.22">4</text>
<text x="674.70" y="582.70" font-size="8.2" text-anchor="middle" fill="#111" stroke="#111" stroke-width="0.22">1</text>
<text x="495.00" y="593.70" font-size="8.2" text-anchor="middle" fill="#111" stroke="#111" stroke-width="0.22">0</text>
<text x="539.92" y="593.70" font-size="8.2" text-anchor="middle" fill="#111" stroke="#111" stroke-width="0.22">500</text>
<text x="584.85" y="593.70" font-size="8.2" text-anchor="middle" fill="#111" stroke="#111" stroke-width="0.22">1000</text>
<text x="629.77" y="593.70" font-size="8.2" text-anchor="middle" fill="#111" stroke="#111" stroke-width="0.22">1500</text>
<text x="674.70" y="593.70" font-size="8.2" text-anchor="middle" fill="#111" stroke="#111" stroke-width="0.22">2000</text>
<text x="585.00" y="603.70" font-size="9.45" text-anchor="middle" fill="#000" stroke="#000" stroke-width="0.22">Days to Recurrence</text>
</svg></body></html>
